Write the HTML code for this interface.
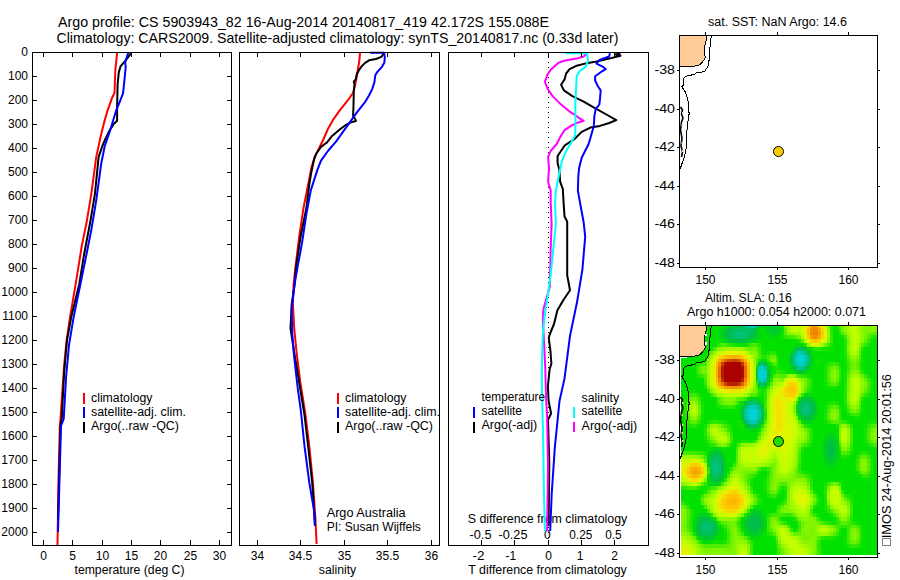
<!DOCTYPE html>
<html><head><meta charset="utf-8"><style>
html,body{margin:0;padding:0;background:#fff;}
svg{display:block;}
text{font-family:"Liberation Sans", sans-serif;}
</style></head><body>
<svg width="900" height="580" viewBox="0 0 900 580">
<rect x="0" y="0" width="900" height="580" fill="#fff"/>
<text x="58" y="27" font-size="15" textLength="491" lengthAdjust="spacingAndGlyphs" fill="#000" >Argo profile: CS 5903943_82 16-Aug-2014 20140817_419 42.172S 155.088E</text>
<text x="56.5" y="43" font-size="15" textLength="562" lengthAdjust="spacingAndGlyphs" fill="#000" >Climatology: CARS2009. Satellite-adjusted climatology: synTS_20140817.nc (0.33d later)</text>
<text x="28" y="56" font-size="12" text-anchor="end" fill="#000" >0</text>
<text x="28" y="80" font-size="12" text-anchor="end" fill="#000" >100</text>
<text x="28" y="104" font-size="12" text-anchor="end" fill="#000" >200</text>
<text x="28" y="128" font-size="12" text-anchor="end" fill="#000" >300</text>
<text x="28" y="152" font-size="12" text-anchor="end" fill="#000" >400</text>
<text x="28" y="176" font-size="12" text-anchor="end" fill="#000" >500</text>
<text x="28" y="200" font-size="12" text-anchor="end" fill="#000" >600</text>
<text x="28" y="224" font-size="12" text-anchor="end" fill="#000" >700</text>
<text x="28" y="248" font-size="12" text-anchor="end" fill="#000" >800</text>
<text x="28" y="272" font-size="12" text-anchor="end" fill="#000" >900</text>
<text x="28" y="296" font-size="12" text-anchor="end" fill="#000" >1000</text>
<text x="28" y="320" font-size="12" text-anchor="end" fill="#000" >1100</text>
<text x="28" y="344" font-size="12" text-anchor="end" fill="#000" >1200</text>
<text x="28" y="368" font-size="12" text-anchor="end" fill="#000" >1300</text>
<text x="28" y="392" font-size="12" text-anchor="end" fill="#000" >1400</text>
<text x="28" y="416" font-size="12" text-anchor="end" fill="#000" >1500</text>
<text x="28" y="440" font-size="12" text-anchor="end" fill="#000" >1600</text>
<text x="28" y="464" font-size="12" text-anchor="end" fill="#000" >1700</text>
<text x="28" y="488" font-size="12" text-anchor="end" fill="#000" >1800</text>
<text x="28" y="512" font-size="12" text-anchor="end" fill="#000" >1900</text>
<text x="28" y="536" font-size="12" text-anchor="end" fill="#000" >2000</text>
<text x="43.5" y="560" font-size="12" text-anchor="middle" fill="#000" >0</text>
<text x="72.5" y="560" font-size="12" text-anchor="middle" fill="#000" >5</text>
<text x="102.5" y="560" font-size="12" text-anchor="middle" fill="#000" >10</text>
<text x="131.5" y="560" font-size="12" text-anchor="middle" fill="#000" >15</text>
<text x="160.5" y="560" font-size="12" text-anchor="middle" fill="#000" >20</text>
<text x="190.5" y="560" font-size="12" text-anchor="middle" fill="#000" >25</text>
<text x="219.5" y="560" font-size="12" text-anchor="middle" fill="#000" >30</text>
<text x="129.5" y="574" font-size="12" text-anchor="middle" textLength="110" lengthAdjust="spacingAndGlyphs" fill="#000" >temperature (deg C)</text>
<text x="257.5" y="560" font-size="12" text-anchor="middle" fill="#000" >34</text>
<text x="300.5" y="560" font-size="12" text-anchor="middle" fill="#000" >34.5</text>
<text x="344.5" y="560" font-size="12" text-anchor="middle" fill="#000" >35</text>
<text x="387.5" y="560" font-size="12" text-anchor="middle" fill="#000" >35.5</text>
<text x="431.5" y="560" font-size="12" text-anchor="middle" fill="#000" >36</text>
<text x="337.5" y="574" font-size="12" text-anchor="middle" textLength="37.5" lengthAdjust="spacingAndGlyphs" fill="#000" >salinity</text>
<text x="472.5" y="560" font-size="12" textLength="12" lengthAdjust="spacingAndGlyphs" fill="#000" >-2</text>
<text x="505.5" y="560" font-size="12" fill="#000" >-1</text>
<text x="548.5" y="560" font-size="12" text-anchor="middle" fill="#000" >0</text>
<text x="580.2" y="560" font-size="12" text-anchor="middle" fill="#000" >1</text>
<text x="614.6" y="560" font-size="12" text-anchor="middle" fill="#000" >2</text>
<text x="547.5" y="574" font-size="12" text-anchor="middle" textLength="158.5" lengthAdjust="spacingAndGlyphs" fill="#000" >T difference from climatology</text>
<text x="469.5" y="539" font-size="12" textLength="22" lengthAdjust="spacingAndGlyphs" fill="#000" >-0.5</text>
<text x="498.5" y="539" font-size="12" textLength="29" lengthAdjust="spacingAndGlyphs" fill="#000" >-0.25</text>
<text x="547.3" y="539" font-size="12" text-anchor="middle" fill="#000" >0</text>
<text x="569.3" y="539" font-size="12" textLength="23" lengthAdjust="spacingAndGlyphs" fill="#000" >0.25</text>
<text x="605.2" y="539" font-size="12" textLength="16.5" lengthAdjust="spacingAndGlyphs" fill="#000" >0.5</text>
<text x="547.5" y="523" font-size="12" text-anchor="middle" textLength="159.5" lengthAdjust="spacingAndGlyphs" fill="#000" >S difference from climatology</text>
<text x="705.5" y="284" font-size="12" text-anchor="middle" fill="#000" >150</text>
<text x="777.5" y="284" font-size="12" text-anchor="middle" fill="#000" >155</text>
<text x="848.5" y="284" font-size="12" text-anchor="middle" fill="#000" >160</text>
<text x="675" y="74" font-size="12" text-anchor="end" textLength="20.5" lengthAdjust="spacingAndGlyphs" fill="#000" >-38</text>
<text x="675" y="113" font-size="12" text-anchor="end" textLength="20.5" lengthAdjust="spacingAndGlyphs" fill="#000" >-40</text>
<text x="675" y="151" font-size="12" text-anchor="end" textLength="20.5" lengthAdjust="spacingAndGlyphs" fill="#000" >-42</text>
<text x="675" y="190" font-size="12" text-anchor="end" textLength="20.5" lengthAdjust="spacingAndGlyphs" fill="#000" >-44</text>
<text x="675" y="228" font-size="12" text-anchor="end" textLength="20.5" lengthAdjust="spacingAndGlyphs" fill="#000" >-46</text>
<text x="675" y="267" font-size="12" text-anchor="end" textLength="20.5" lengthAdjust="spacingAndGlyphs" fill="#000" >-48</text>
<text x="705.5" y="574" font-size="12" text-anchor="middle" fill="#000" >150</text>
<text x="777.5" y="574" font-size="12" text-anchor="middle" fill="#000" >155</text>
<text x="848.5" y="574" font-size="12" text-anchor="middle" fill="#000" >160</text>
<text x="675" y="364" font-size="12" text-anchor="end" textLength="20.5" lengthAdjust="spacingAndGlyphs" fill="#000" >-38</text>
<text x="675" y="403" font-size="12" text-anchor="end" textLength="20.5" lengthAdjust="spacingAndGlyphs" fill="#000" >-40</text>
<text x="675" y="441" font-size="12" text-anchor="end" textLength="20.5" lengthAdjust="spacingAndGlyphs" fill="#000" >-42</text>
<text x="675" y="480" font-size="12" text-anchor="end" textLength="20.5" lengthAdjust="spacingAndGlyphs" fill="#000" >-44</text>
<text x="675" y="518" font-size="12" text-anchor="end" textLength="20.5" lengthAdjust="spacingAndGlyphs" fill="#000" >-46</text>
<text x="675" y="557" font-size="12" text-anchor="end" textLength="20.5" lengthAdjust="spacingAndGlyphs" fill="#000" >-48</text>
<text x="708" y="25.5" font-size="12" textLength="139" lengthAdjust="spacingAndGlyphs" fill="#000" >sat. SST: NaN Argo: 14.6</text>
<text x="705" y="301.5" font-size="12" textLength="86.7" lengthAdjust="spacingAndGlyphs" fill="#000" >Altim. SLA: 0.16</text>
<text x="687" y="315.5" font-size="12" textLength="179" lengthAdjust="spacingAndGlyphs" fill="#000" >Argo h1000: 0.054 h2000: 0.071</text>
<line x1="548.5" y1="52" x2="548.5" y2="545" stroke="#000" stroke-width="1" stroke-dasharray="1 4" shape-rendering="crispEdges"/>
<polyline points="117.1,52.6 115.3,70.7 114.5,93.0 111.9,98.3 107.6,110.3 104.1,122.4 100.7,136.2 98.6,146.2 96.2,157.1 91.4,193.3 86.6,222.3 81.7,246.4 75.7,283.9 70.2,316.2 66.6,340.4 64.2,364.5 61.7,400.8 60.5,418.9 59.8,426.0 58.5,480.0 57.5,545.0" fill="none" stroke="#f00" stroke-width="2" stroke-linejoin="round" />
<polyline points="130.9,53.4 125.7,60.3 120.5,66.4 118.8,72.4 117.6,84.5 117.1,106.9 117.1,120.7 113.6,124.1 109.3,131.0 105.0,139.7 102.3,146.2 98.6,157.1 95.0,193.3 90.2,222.3 84.2,253.7 79.3,283.9 71.4,316.2 67.0,340.4 64.2,371.8 61.7,418.9 60.5,426.0 59.0,480.0 58.0,520.0" fill="none" stroke="#000" stroke-width="2" stroke-linejoin="round" />
<polyline points="128.3,52.6 125.2,62.1 125.7,67.2 124.5,79.3 123.1,93.1 120.5,100.0 116.2,110.3 113.6,119.0 111.0,127.6 107.6,137.9 104.7,146.2 101.1,164.3 96.2,200.6 91.4,229.5 86.6,253.7 81.0,281.2 73.8,316.2 69.0,345.2 66.1,376.6 63.7,418.9 61.0,426.0 59.5,480.0 58.0,532.0" fill="none" stroke="#00f" stroke-width="2" stroke-linejoin="round" />
<polyline points="360.0,52.8 359.3,61.0 357.9,69.3 356.6,77.6 355.2,84.5 353.1,92.8 348.3,99.7 342.8,106.6 340.3,109.7 333.4,119.3 327.9,129.0 323.1,140.0 318.3,149.7 314.8,156.6 311.4,167.6 309.3,178.7 303.5,208.0 299.1,237.3 295.5,266.6 293.5,285.0 292.9,304.2 294.2,328.3 296.6,352.5 300.2,381.4 305.5,415.0 309.3,446.2 312.9,482.5 315.4,518.7 316.6,544.0" fill="none" stroke="#f00" stroke-width="2" stroke-linejoin="round" />
<polyline points="383.9,53.4 381.4,56.9 375.9,59.0 369.0,60.3 364.8,63.1 361.4,66.6 358.6,70.7 356.6,74.8 355.9,79.0 353.8,81.7 354.5,84.5 353.8,91.4 353.5,105.2 353.1,116.2 355.2,119.0 355.9,121.0 351.0,122.4 345.5,125.2 340.3,129.0 332.1,135.9 326.6,142.8 321.0,146.9 316.2,153.8 314.1,159.3 311.4,171.7 309.3,184.5 306.4,208.0 300.5,237.3 296.1,266.6 294.6,285.0 291.7,304.2 290.5,328.3 294.2,352.5 299.0,381.4 304.5,415.0 308.1,446.2 312.2,482.5 314.2,511.4 315.0,526.0" fill="none" stroke="#000" stroke-width="2" stroke-linejoin="round" />
<polyline points="370.3,52.8 384.1,52.8 384.8,56.9 384.4,62.4 382.1,66.6 377.2,72.1 375.2,75.5 374.5,81.7 372.4,88.6 369.0,95.5 364.8,102.4 359.3,109.3 356.9,112.4 350.0,122.1 343.1,131.7 336.2,141.4 327.9,151.0 321.0,160.7 317.4,169.9 310.8,190.4 306.4,213.8 302.0,243.2 297.6,266.6 294.4,285.0 291.7,309.0 292.2,333.1 294.2,357.3 297.8,388.7 300.9,411.2 304.5,446.2 309.3,482.5 314.2,511.4 314.9,526.0" fill="none" stroke="#00f" stroke-width="2" stroke-linejoin="round" />
<polyline points="620.5,53.7 614.9,54.4 620.5,55.8 609.2,58.6 596.5,61.4 588.0,62.9 576.7,65.7 569.6,69.2 566.1,73.5 564.7,79.1 561.1,84.8 563.9,90.4 572.4,96.1 583.7,101.7 593.6,107.4 606.4,114.5 616.3,120.1 609.2,123.0 600.0,125.9 590.3,127.6 581.7,131.9 574.8,138.8 564.5,145.7 557.6,156.0 557.6,162.9 559.3,169.8 560.2,181.9 562.8,188.8 563.6,202.6 564.5,216.4 567.2,221.4 567.2,247.6 567.2,275.2 570.0,290.3 563.4,300.0 557.4,310.3 554.0,324.0 549.7,334.5 548.8,338.0 550.5,351.7 551.4,363.8 549.7,369.0 547.9,386.0 548.6,401.0 551.1,413.5 548.0,419.7 549.3,463.2 548.6,526.0" fill="none" stroke="#000" stroke-width="2" stroke-linejoin="round" />
<polyline points="609.9,53.2 609.2,56.5 599.3,60.0 596.5,63.6 603.5,67.1 605.7,69.2 602.1,71.3 595.1,76.3 595.1,80.5 597.9,86.2 600.7,90.4 600.0,98.9 599.3,104.6 595.8,108.8 594.4,115.9 593.8,125.9 591.2,135.3 588.6,144.0 581.7,157.8 579.1,168.1 578.3,176.7 577.9,190.5 580.0,202.6 583.6,222.0 585.2,236.6 582.4,269.7 576.9,302.8 570.0,335.9 564.5,378.6 559.5,401.0 554.8,447.6 551.7,494.2 550.2,531.0" fill="none" stroke="#00f" stroke-width="2" stroke-linejoin="round" />
<polyline points="586.6,53.7 583.7,56.5 576.7,58.6 564.0,60.7 558.3,62.9 551.2,69.2 547.7,74.2 544.9,81.9 547.7,89.0 552.6,96.1 561.1,104.6 569.6,111.6 575.3,115.2 578.1,117.3 583.7,120.8 576.7,123.0 571.0,125.8 564.5,130.2 560.2,137.1 556.7,144.0 550.7,150.9 548.1,156.9 549.0,168.1 548.1,181.9 550.7,190.5 550.7,202.6 551.6,224.1 550.7,247.6 549.9,286.2 543.6,308.6 542.8,317.0 543.6,334.5 544.5,351.7 545.3,369.0 545.7,386.0 546.2,400.0 547.1,416.6 548.0,463.2 547.1,531.0" fill="none" stroke="#f0f" stroke-width="2" stroke-linejoin="round" />
<polyline points="565.4,53.2 586.6,53.2 587.3,54.4 588.0,60.7 585.9,66.4 579.5,71.3 576.7,76.3 576.0,90.4 575.3,104.6 575.5,126.0 575.2,135.3 571.4,142.2 566.2,150.9 561.9,161.2 559.3,173.3 555.9,190.5 555.0,202.6 555.9,224.1 553.4,247.6 550.7,275.2 547.1,300.0 544.5,317.0 542.8,334.5 542.2,351.7 541.9,369.0 541.9,386.0 542.2,400.0 543.0,432.1 544.0,494.2 544.9,531.0" fill="none" stroke="#0ff" stroke-width="2" stroke-linejoin="round" />
<rect x="83" y="393" width="2" height="11" fill="#f00"/>
<text x="91" y="402" font-size="12" textLength="61.5" lengthAdjust="spacingAndGlyphs" fill="#000" >climatology</text>
<rect x="83" y="407" width="2" height="11" fill="#00f"/>
<text x="91" y="416" font-size="12" textLength="95" lengthAdjust="spacingAndGlyphs" fill="#000" >satellite-adj. clim.</text>
<rect x="83" y="422" width="2" height="11" fill="#000"/>
<text x="91" y="430" font-size="12" textLength="88" lengthAdjust="spacingAndGlyphs" fill="#000" >Argo(..raw -QC)</text>
<rect x="337" y="393" width="2" height="11" fill="#f00"/>
<text x="345" y="402" font-size="12" textLength="61.5" lengthAdjust="spacingAndGlyphs" fill="#000" >climatology</text>
<rect x="337" y="407" width="2" height="11" fill="#00f"/>
<text x="345" y="416" font-size="12" textLength="95" lengthAdjust="spacingAndGlyphs" fill="#000" >satellite-adj. clim.</text>
<rect x="337" y="422" width="2" height="11" fill="#000"/>
<text x="345" y="430" font-size="12" textLength="88" lengthAdjust="spacingAndGlyphs" fill="#000" >Argo(..raw -QC)</text>
<text x="481.5" y="401" font-size="12" textLength="63.5" lengthAdjust="spacingAndGlyphs" fill="#000" >temperature</text>
<rect x="473" y="407" width="2" height="11" fill="#00f"/>
<text x="481.5" y="415" font-size="12" textLength="40.5" lengthAdjust="spacingAndGlyphs" fill="#000" >satellite</text>
<rect x="473" y="422" width="2" height="11" fill="#000"/>
<text x="481.5" y="429" font-size="12" textLength="55.7" lengthAdjust="spacingAndGlyphs" fill="#000" >Argo(-adj)</text>
<text x="581.6" y="401.5" font-size="12" textLength="37.5" lengthAdjust="spacingAndGlyphs" fill="#000" >salinity</text>
<rect x="573" y="407" width="2" height="11" fill="#0ff"/>
<text x="581.6" y="415" font-size="12" textLength="40.5" lengthAdjust="spacingAndGlyphs" fill="#000" >satellite</text>
<rect x="573" y="422" width="2" height="10" fill="#f0f"/>
<text x="581.6" y="429.5" font-size="12" textLength="55.7" lengthAdjust="spacingAndGlyphs" fill="#000" >Argo(-adj)</text>
<text x="326.7" y="516.5" font-size="12" textLength="79" lengthAdjust="spacingAndGlyphs" fill="#000" >Argo Australia</text>
<text x="326.7" y="530.5" font-size="12" textLength="94.2" lengthAdjust="spacingAndGlyphs" fill="#000" >PI: Susan Wijffels</text>
<g shape-rendering="crispEdges">
<rect x="681.31" y="326.00" width="34.30" height="1.69" fill="#00e100"/>
<rect x="715.60" y="326.00" width="2.86" height="1.69" fill="#04e200"/>
<rect x="718.46" y="326.00" width="2.86" height="1.69" fill="#09e200"/>
<rect x="721.32" y="326.00" width="2.86" height="1.69" fill="#00de06"/>
<rect x="724.18" y="326.00" width="2.86" height="1.69" fill="#00d517"/>
<rect x="727.03" y="326.00" width="2.86" height="1.69" fill="#00cd26"/>
<rect x="729.89" y="326.00" width="2.86" height="1.69" fill="#00c633"/>
<rect x="732.75" y="326.00" width="2.86" height="1.69" fill="#00c13d"/>
<rect x="735.61" y="326.00" width="2.86" height="1.69" fill="#00be43"/>
<rect x="738.47" y="326.00" width="2.86" height="1.69" fill="#00bc45"/>
<rect x="741.33" y="326.00" width="2.86" height="1.69" fill="#00bf5e"/>
<rect x="744.18" y="326.00" width="2.86" height="1.69" fill="#00c382"/>
<rect x="747.04" y="326.00" width="2.86" height="1.69" fill="#00c79e"/>
<rect x="749.90" y="326.00" width="2.86" height="1.69" fill="#00caaa"/>
<rect x="752.76" y="326.00" width="2.86" height="1.69" fill="#00c9a4"/>
<rect x="755.62" y="326.00" width="2.86" height="1.69" fill="#00c381"/>
<rect x="758.47" y="326.00" width="2.86" height="1.69" fill="#00be42"/>
<rect x="761.33" y="326.00" width="2.86" height="1.69" fill="#00da0d"/>
<rect x="764.19" y="326.00" width="2.86" height="1.69" fill="#00da0c"/>
<rect x="767.05" y="326.00" width="2.86" height="1.69" fill="#00d31b"/>
<rect x="769.90" y="326.00" width="2.86" height="1.69" fill="#00cd25"/>
<rect x="772.76" y="326.00" width="2.86" height="1.69" fill="#00cb2a"/>
<rect x="775.62" y="326.00" width="2.86" height="1.69" fill="#00cd25"/>
<rect x="778.48" y="326.00" width="2.86" height="1.69" fill="#00d615"/>
<rect x="781.34" y="326.00" width="2.86" height="1.69" fill="#18e500"/>
<rect x="784.20" y="326.00" width="2.86" height="1.69" fill="#75f300"/>
<rect x="787.05" y="326.00" width="2.86" height="1.69" fill="#a7fb00"/>
<rect x="789.91" y="326.00" width="2.86" height="1.69" fill="#bbfe00"/>
<rect x="792.77" y="326.00" width="2.86" height="1.69" fill="#c5fd00"/>
<rect x="795.63" y="326.00" width="2.86" height="1.69" fill="#c4fd00"/>
<rect x="798.49" y="326.00" width="2.86" height="1.69" fill="#bfff00"/>
<rect x="801.34" y="326.00" width="2.86" height="1.69" fill="#c4fd00"/>
<rect x="804.20" y="326.00" width="2.86" height="1.69" fill="#e7f200"/>
<rect x="807.06" y="326.00" width="2.86" height="1.69" fill="#fbca00"/>
<rect x="809.92" y="326.00" width="2.86" height="1.69" fill="#f49f00"/>
<rect x="812.77" y="326.00" width="2.86" height="1.69" fill="#ef9000"/>
<rect x="815.63" y="326.00" width="2.86" height="1.69" fill="#f29a00"/>
<rect x="818.49" y="326.00" width="2.86" height="1.69" fill="#fec000"/>
<rect x="821.35" y="326.00" width="2.86" height="1.69" fill="#efe400"/>
<rect x="824.21" y="326.00" width="2.86" height="1.69" fill="#c9fc00"/>
<rect x="827.07" y="326.00" width="2.86" height="1.69" fill="#7ef400"/>
<rect x="829.92" y="326.00" width="2.86" height="1.69" fill="#28e700"/>
<rect x="832.78" y="326.00" width="2.86" height="1.69" fill="#00e100"/>
<rect x="835.64" y="326.00" width="2.86" height="1.69" fill="#0ee300"/>
<rect x="838.50" y="326.00" width="2.86" height="1.69" fill="#40eb00"/>
<rect x="841.36" y="326.00" width="2.86" height="1.69" fill="#79f400"/>
<rect x="844.21" y="326.00" width="2.86" height="1.69" fill="#91f800"/>
<rect x="847.07" y="326.00" width="2.86" height="1.69" fill="#a6fb00"/>
<rect x="849.93" y="326.00" width="2.86" height="1.69" fill="#b8fe00"/>
<rect x="852.79" y="326.00" width="2.86" height="1.69" fill="#beff00"/>
<rect x="855.64" y="326.00" width="2.86" height="1.69" fill="#b2fd00"/>
<rect x="858.50" y="326.00" width="2.86" height="1.69" fill="#9bf900"/>
<rect x="861.36" y="326.00" width="2.86" height="1.69" fill="#87f600"/>
<rect x="864.22" y="326.00" width="2.86" height="1.69" fill="#7cf400"/>
<rect x="867.08" y="326.00" width="2.86" height="1.69" fill="#7df400"/>
<rect x="869.93" y="326.00" width="2.86" height="1.69" fill="#84f500"/>
<rect x="872.79" y="326.00" width="2.86" height="1.69" fill="#86f600"/>
<rect x="875.65" y="326.00" width="1.35" height="1.69" fill="#87f600"/>
<rect x="681.31" y="327.69" width="34.30" height="3.86" fill="#00e100"/>
<rect x="715.60" y="327.69" width="2.86" height="3.86" fill="#04e200"/>
<rect x="718.46" y="327.69" width="2.86" height="3.86" fill="#00de05"/>
<rect x="721.32" y="327.69" width="2.86" height="3.86" fill="#00d418"/>
<rect x="724.18" y="327.69" width="2.86" height="3.86" fill="#00c92d"/>
<rect x="727.03" y="327.69" width="2.86" height="3.86" fill="#00c03f"/>
<rect x="729.89" y="327.69" width="2.86" height="3.86" fill="#00bd4f"/>
<rect x="732.75" y="327.69" width="2.86" height="3.86" fill="#00bf5c"/>
<rect x="735.61" y="327.69" width="2.86" height="3.86" fill="#00c065"/>
<rect x="738.47" y="327.69" width="2.86" height="3.86" fill="#00c068"/>
<rect x="741.33" y="327.69" width="5.72" height="3.86" fill="#00c065"/>
<rect x="747.04" y="327.69" width="2.86" height="3.86" fill="#00c069"/>
<rect x="749.90" y="327.69" width="2.86" height="3.86" fill="#00c066"/>
<rect x="752.76" y="327.69" width="2.86" height="3.86" fill="#00be54"/>
<rect x="755.62" y="327.69" width="2.86" height="3.86" fill="#00c633"/>
<rect x="758.47" y="327.69" width="2.86" height="3.86" fill="#00db0c"/>
<rect x="761.33" y="327.69" width="2.86" height="3.86" fill="#00de06"/>
<rect x="764.19" y="327.69" width="2.86" height="3.86" fill="#00d712"/>
<rect x="767.05" y="327.69" width="2.86" height="3.86" fill="#00cf22"/>
<rect x="769.90" y="327.69" width="2.86" height="3.86" fill="#00ca2c"/>
<rect x="772.76" y="327.69" width="2.86" height="3.86" fill="#00c731"/>
<rect x="775.62" y="327.69" width="2.86" height="3.86" fill="#00c82f"/>
<rect x="778.48" y="327.69" width="2.86" height="3.86" fill="#00cf21"/>
<rect x="781.34" y="327.69" width="2.86" height="3.86" fill="#00e002"/>
<rect x="784.20" y="327.69" width="2.86" height="3.86" fill="#58ee00"/>
<rect x="787.05" y="327.69" width="2.86" height="3.86" fill="#9ffa00"/>
<rect x="789.91" y="327.69" width="2.86" height="3.86" fill="#b4fd00"/>
<rect x="792.77" y="327.69" width="5.72" height="3.86" fill="#c0fe00"/>
<rect x="798.49" y="327.69" width="2.86" height="3.86" fill="#bafe00"/>
<rect x="801.34" y="327.69" width="2.86" height="3.86" fill="#cafb00"/>
<rect x="804.20" y="327.69" width="2.86" height="3.86" fill="#ede900"/>
<rect x="807.06" y="327.69" width="2.86" height="3.86" fill="#febf00"/>
<rect x="809.92" y="327.69" width="2.86" height="3.86" fill="#f09200"/>
<rect x="812.77" y="327.69" width="2.86" height="3.86" fill="#ed8700"/>
<rect x="815.63" y="327.69" width="2.86" height="3.86" fill="#ee8c00"/>
<rect x="818.49" y="327.69" width="2.86" height="3.86" fill="#f7a700"/>
<rect x="821.35" y="327.69" width="2.86" height="3.86" fill="#f6d500"/>
<rect x="824.21" y="327.69" width="2.86" height="3.86" fill="#d6f800"/>
<rect x="827.07" y="327.69" width="2.86" height="3.86" fill="#8cf700"/>
<rect x="829.92" y="327.69" width="2.86" height="3.86" fill="#29e700"/>
<rect x="832.78" y="327.69" width="2.86" height="3.86" fill="#00e100"/>
<rect x="835.64" y="327.69" width="2.86" height="3.86" fill="#0ce300"/>
<rect x="838.50" y="327.69" width="2.86" height="3.86" fill="#3bea00"/>
<rect x="841.36" y="327.69" width="2.86" height="3.86" fill="#72f300"/>
<rect x="844.21" y="327.69" width="2.86" height="3.86" fill="#8ef700"/>
<rect x="847.07" y="327.69" width="2.86" height="3.86" fill="#a4fb00"/>
<rect x="849.93" y="327.69" width="2.86" height="3.86" fill="#b7fe00"/>
<rect x="852.79" y="327.69" width="2.86" height="3.86" fill="#beff00"/>
<rect x="855.64" y="327.69" width="2.86" height="3.86" fill="#b2fd00"/>
<rect x="858.50" y="327.69" width="2.86" height="3.86" fill="#9cf900"/>
<rect x="861.36" y="327.69" width="2.86" height="3.86" fill="#87f600"/>
<rect x="864.22" y="327.69" width="2.86" height="3.86" fill="#7bf400"/>
<rect x="867.08" y="327.69" width="2.86" height="3.86" fill="#7af400"/>
<rect x="869.93" y="327.69" width="2.86" height="3.86" fill="#80f500"/>
<rect x="872.79" y="327.69" width="4.21" height="3.86" fill="#83f500"/>
<rect x="681.31" y="331.55" width="34.30" height="3.86" fill="#00e100"/>
<rect x="715.60" y="331.55" width="2.86" height="3.86" fill="#00e001"/>
<rect x="718.46" y="331.55" width="2.86" height="3.86" fill="#00d810"/>
<rect x="721.32" y="331.55" width="2.86" height="3.86" fill="#00cc27"/>
<rect x="724.18" y="331.55" width="2.86" height="3.86" fill="#00c13d"/>
<rect x="727.03" y="331.55" width="2.86" height="3.86" fill="#00bd51"/>
<rect x="729.89" y="331.55" width="2.86" height="3.86" fill="#00c064"/>
<rect x="732.75" y="331.55" width="2.86" height="3.86" fill="#00c172"/>
<rect x="735.61" y="331.55" width="2.86" height="3.86" fill="#00c37b"/>
<rect x="738.47" y="331.55" width="2.86" height="3.86" fill="#00c37e"/>
<rect x="741.33" y="331.55" width="2.86" height="3.86" fill="#00c37b"/>
<rect x="744.18" y="331.55" width="2.86" height="3.86" fill="#00c273"/>
<rect x="747.04" y="331.55" width="2.86" height="3.86" fill="#00c065"/>
<rect x="749.90" y="331.55" width="2.86" height="3.86" fill="#00be53"/>
<rect x="752.76" y="331.55" width="2.86" height="3.86" fill="#00c03e"/>
<rect x="755.62" y="331.55" width="2.86" height="3.86" fill="#00cb29"/>
<rect x="758.47" y="331.55" width="2.86" height="3.86" fill="#00d615"/>
<rect x="761.33" y="331.55" width="2.86" height="3.86" fill="#00de05"/>
<rect x="764.19" y="331.55" width="2.86" height="3.86" fill="#00db0c"/>
<rect x="767.05" y="331.55" width="2.86" height="3.86" fill="#00d31a"/>
<rect x="769.90" y="331.55" width="2.86" height="3.86" fill="#00ce24"/>
<rect x="772.76" y="331.55" width="2.86" height="3.86" fill="#00cc28"/>
<rect x="775.62" y="331.55" width="2.86" height="3.86" fill="#00ce24"/>
<rect x="778.48" y="331.55" width="2.86" height="3.86" fill="#00d517"/>
<rect x="781.34" y="331.55" width="2.86" height="3.86" fill="#07e200"/>
<rect x="784.20" y="331.55" width="2.86" height="3.86" fill="#4ded00"/>
<rect x="787.05" y="331.55" width="2.86" height="3.86" fill="#86f600"/>
<rect x="789.91" y="331.55" width="2.86" height="3.86" fill="#93f800"/>
<rect x="792.77" y="331.55" width="2.86" height="3.86" fill="#9efa00"/>
<rect x="795.63" y="331.55" width="2.86" height="3.86" fill="#a1fa00"/>
<rect x="798.49" y="331.55" width="2.86" height="3.86" fill="#a2fa00"/>
<rect x="801.34" y="331.55" width="2.86" height="3.86" fill="#c5fd00"/>
<rect x="804.20" y="331.55" width="2.86" height="3.86" fill="#ede800"/>
<rect x="807.06" y="331.55" width="2.86" height="3.86" fill="#fcba00"/>
<rect x="809.92" y="331.55" width="2.86" height="3.86" fill="#ef8e00"/>
<rect x="812.77" y="331.55" width="2.86" height="3.86" fill="#eb8300"/>
<rect x="815.63" y="331.55" width="2.86" height="3.86" fill="#ec8500"/>
<rect x="818.49" y="331.55" width="2.86" height="3.86" fill="#f39b00"/>
<rect x="821.35" y="331.55" width="2.86" height="3.86" fill="#facd00"/>
<rect x="824.21" y="331.55" width="2.86" height="3.86" fill="#dff500"/>
<rect x="827.07" y="331.55" width="2.86" height="3.86" fill="#98f900"/>
<rect x="829.92" y="331.55" width="2.86" height="3.86" fill="#2fe800"/>
<rect x="832.78" y="331.55" width="5.72" height="3.86" fill="#00e100"/>
<rect x="838.50" y="331.55" width="2.86" height="3.86" fill="#1de600"/>
<rect x="841.36" y="331.55" width="2.86" height="3.86" fill="#48ec00"/>
<rect x="844.21" y="331.55" width="2.86" height="3.86" fill="#74f300"/>
<rect x="847.07" y="331.55" width="2.86" height="3.86" fill="#98f900"/>
<rect x="849.93" y="331.55" width="2.86" height="3.86" fill="#b2fd00"/>
<rect x="852.79" y="331.55" width="2.86" height="3.86" fill="#beff00"/>
<rect x="855.64" y="331.55" width="2.86" height="3.86" fill="#b5fe00"/>
<rect x="858.50" y="331.55" width="2.86" height="3.86" fill="#a0fa00"/>
<rect x="861.36" y="331.55" width="2.86" height="3.86" fill="#8bf600"/>
<rect x="864.22" y="331.55" width="2.86" height="3.86" fill="#7bf400"/>
<rect x="867.08" y="331.55" width="2.86" height="3.86" fill="#6bf100"/>
<rect x="869.93" y="331.55" width="2.86" height="3.86" fill="#60f000"/>
<rect x="872.79" y="331.55" width="2.86" height="3.86" fill="#59ef00"/>
<rect x="875.65" y="331.55" width="1.35" height="3.86" fill="#56ee00"/>
<rect x="681.31" y="335.41" width="25.72" height="3.86" fill="#00e100"/>
<rect x="707.03" y="335.41" width="5.72" height="3.86" fill="#01e100"/>
<rect x="712.75" y="335.41" width="2.86" height="3.86" fill="#00e100"/>
<rect x="715.60" y="335.41" width="2.86" height="3.86" fill="#01e100"/>
<rect x="718.46" y="335.41" width="2.86" height="3.86" fill="#00db0b"/>
<rect x="721.32" y="335.41" width="2.86" height="3.86" fill="#00d020"/>
<rect x="724.18" y="335.41" width="2.86" height="3.86" fill="#00c634"/>
<rect x="727.03" y="335.41" width="2.86" height="3.86" fill="#00bc46"/>
<rect x="729.89" y="335.41" width="2.86" height="3.86" fill="#00be58"/>
<rect x="732.75" y="335.41" width="2.86" height="3.86" fill="#00c065"/>
<rect x="735.61" y="335.41" width="2.86" height="3.86" fill="#00c16e"/>
<rect x="738.47" y="335.41" width="2.86" height="3.86" fill="#00c171"/>
<rect x="741.33" y="335.41" width="2.86" height="3.86" fill="#00c16e"/>
<rect x="744.18" y="335.41" width="2.86" height="3.86" fill="#00c066"/>
<rect x="747.04" y="335.41" width="2.86" height="3.86" fill="#00be59"/>
<rect x="749.90" y="335.41" width="2.86" height="3.86" fill="#00bc48"/>
<rect x="752.76" y="335.41" width="2.86" height="3.86" fill="#00c535"/>
<rect x="755.62" y="335.41" width="2.86" height="3.86" fill="#00cf22"/>
<rect x="758.47" y="335.41" width="2.86" height="3.86" fill="#00d90f"/>
<rect x="761.33" y="335.41" width="2.86" height="3.86" fill="#00e101"/>
<rect x="764.19" y="335.41" width="2.86" height="3.86" fill="#02e100"/>
<rect x="767.05" y="335.41" width="2.86" height="3.86" fill="#00de06"/>
<rect x="769.90" y="335.41" width="2.86" height="3.86" fill="#00db0c"/>
<rect x="772.76" y="335.41" width="2.86" height="3.86" fill="#00d90f"/>
<rect x="775.62" y="335.41" width="2.86" height="3.86" fill="#00db0b"/>
<rect x="778.48" y="335.41" width="2.86" height="3.86" fill="#00e101"/>
<rect x="781.34" y="335.41" width="2.86" height="3.86" fill="#1ae500"/>
<rect x="784.20" y="335.41" width="2.86" height="3.86" fill="#2be800"/>
<rect x="787.05" y="335.41" width="2.86" height="3.86" fill="#33e900"/>
<rect x="789.91" y="335.41" width="2.86" height="3.86" fill="#3dea00"/>
<rect x="792.77" y="335.41" width="2.86" height="3.86" fill="#4ded00"/>
<rect x="795.63" y="335.41" width="2.86" height="3.86" fill="#61f000"/>
<rect x="798.49" y="335.41" width="2.86" height="3.86" fill="#79f400"/>
<rect x="801.34" y="335.41" width="2.86" height="3.86" fill="#a8fb00"/>
<rect x="804.20" y="335.41" width="2.86" height="3.86" fill="#dff500"/>
<rect x="807.06" y="335.41" width="2.86" height="3.86" fill="#facd00"/>
<rect x="809.92" y="335.41" width="2.86" height="3.86" fill="#f4a100"/>
<rect x="812.77" y="335.41" width="2.86" height="3.86" fill="#ef8f00"/>
<rect x="815.63" y="335.41" width="2.86" height="3.86" fill="#f09200"/>
<rect x="818.49" y="335.41" width="2.86" height="3.86" fill="#f8ad00"/>
<rect x="821.35" y="335.41" width="2.86" height="3.86" fill="#f6d500"/>
<rect x="824.21" y="335.41" width="2.86" height="3.86" fill="#daf600"/>
<rect x="827.07" y="335.41" width="2.86" height="3.86" fill="#95f800"/>
<rect x="829.92" y="335.41" width="2.86" height="3.86" fill="#37e900"/>
<rect x="832.78" y="335.41" width="8.57" height="3.86" fill="#00e100"/>
<rect x="841.36" y="335.41" width="2.86" height="3.86" fill="#0ee300"/>
<rect x="844.21" y="335.41" width="2.86" height="3.86" fill="#3bea00"/>
<rect x="847.07" y="335.41" width="2.86" height="3.86" fill="#86f600"/>
<rect x="849.93" y="335.41" width="2.86" height="3.86" fill="#abfc00"/>
<rect x="852.79" y="335.41" width="2.86" height="3.86" fill="#beff00"/>
<rect x="855.64" y="335.41" width="2.86" height="3.86" fill="#b9fe00"/>
<rect x="858.50" y="335.41" width="2.86" height="3.86" fill="#a5fb00"/>
<rect x="861.36" y="335.41" width="2.86" height="3.86" fill="#8ef700"/>
<rect x="864.22" y="335.41" width="2.86" height="3.86" fill="#77f300"/>
<rect x="867.08" y="335.41" width="2.86" height="3.86" fill="#53ee00"/>
<rect x="869.93" y="335.41" width="2.86" height="3.86" fill="#32e900"/>
<rect x="872.79" y="335.41" width="2.86" height="3.86" fill="#1be500"/>
<rect x="875.65" y="335.41" width="1.35" height="3.86" fill="#15e400"/>
<rect x="681.31" y="339.27" width="34.30" height="3.86" fill="#00e100"/>
<rect x="715.60" y="339.27" width="2.86" height="3.86" fill="#07e200"/>
<rect x="718.46" y="339.27" width="2.86" height="3.86" fill="#0fe300"/>
<rect x="721.32" y="339.27" width="2.86" height="3.86" fill="#00e101"/>
<rect x="724.18" y="339.27" width="2.86" height="3.86" fill="#00d517"/>
<rect x="727.03" y="339.27" width="2.86" height="3.86" fill="#00cd25"/>
<rect x="729.89" y="339.27" width="2.86" height="3.86" fill="#00c632"/>
<rect x="732.75" y="339.27" width="2.86" height="3.86" fill="#00c13c"/>
<rect x="735.61" y="339.27" width="2.86" height="3.86" fill="#00be42"/>
<rect x="738.47" y="339.27" width="2.86" height="3.86" fill="#00bd45"/>
<rect x="741.33" y="339.27" width="2.86" height="3.86" fill="#00be43"/>
<rect x="744.18" y="339.27" width="2.86" height="3.86" fill="#00c438"/>
<rect x="747.04" y="339.27" width="2.86" height="3.86" fill="#00ca2c"/>
<rect x="749.90" y="339.27" width="2.86" height="3.86" fill="#00d11f"/>
<rect x="752.76" y="339.27" width="2.86" height="3.86" fill="#00d811"/>
<rect x="755.62" y="339.27" width="2.86" height="3.86" fill="#00df04"/>
<rect x="758.47" y="339.27" width="2.86" height="3.86" fill="#07e200"/>
<rect x="761.33" y="339.27" width="2.86" height="3.86" fill="#01e100"/>
<rect x="764.19" y="339.27" width="34.30" height="3.86" fill="#00e100"/>
<rect x="798.49" y="339.27" width="2.86" height="3.86" fill="#20e600"/>
<rect x="801.34" y="339.27" width="2.86" height="3.86" fill="#5aef00"/>
<rect x="804.20" y="339.27" width="2.86" height="3.86" fill="#b3fd00"/>
<rect x="807.06" y="339.27" width="2.86" height="3.86" fill="#e5f300"/>
<rect x="809.92" y="339.27" width="2.86" height="3.86" fill="#f7d300"/>
<rect x="812.77" y="339.27" width="2.86" height="3.86" fill="#fec600"/>
<rect x="815.63" y="339.27" width="2.86" height="3.86" fill="#fdc700"/>
<rect x="818.49" y="339.27" width="2.86" height="3.86" fill="#f5d700"/>
<rect x="821.35" y="339.27" width="2.86" height="3.86" fill="#e5f300"/>
<rect x="824.21" y="339.27" width="2.86" height="3.86" fill="#beff00"/>
<rect x="827.07" y="339.27" width="2.86" height="3.86" fill="#7ff500"/>
<rect x="829.92" y="339.27" width="2.86" height="3.86" fill="#32e900"/>
<rect x="832.78" y="339.27" width="11.43" height="3.86" fill="#00e100"/>
<rect x="844.21" y="339.27" width="2.86" height="3.86" fill="#1be500"/>
<rect x="847.07" y="339.27" width="2.86" height="3.86" fill="#76f300"/>
<rect x="849.93" y="339.27" width="2.86" height="3.86" fill="#a8fb00"/>
<rect x="852.79" y="339.27" width="2.86" height="3.86" fill="#bfff00"/>
<rect x="855.64" y="339.27" width="2.86" height="3.86" fill="#b8fe00"/>
<rect x="858.50" y="339.27" width="2.86" height="3.86" fill="#a0fa00"/>
<rect x="861.36" y="339.27" width="2.86" height="3.86" fill="#86f600"/>
<rect x="864.22" y="339.27" width="2.86" height="3.86" fill="#61f000"/>
<rect x="867.08" y="339.27" width="2.86" height="3.86" fill="#37ea00"/>
<rect x="869.93" y="339.27" width="2.86" height="3.86" fill="#12e400"/>
<rect x="872.79" y="339.27" width="4.21" height="3.86" fill="#00e100"/>
<rect x="681.31" y="343.13" width="31.44" height="3.86" fill="#00e100"/>
<rect x="712.75" y="343.13" width="2.86" height="3.86" fill="#01e100"/>
<rect x="715.60" y="343.13" width="2.86" height="3.86" fill="#15e400"/>
<rect x="718.46" y="343.13" width="2.86" height="3.86" fill="#32e900"/>
<rect x="721.32" y="343.13" width="5.72" height="3.86" fill="#47ec00"/>
<rect x="727.03" y="343.13" width="2.86" height="3.86" fill="#31e800"/>
<rect x="729.89" y="343.13" width="2.86" height="3.86" fill="#23e600"/>
<rect x="732.75" y="343.13" width="2.86" height="3.86" fill="#17e500"/>
<rect x="735.61" y="343.13" width="2.86" height="3.86" fill="#0ee300"/>
<rect x="738.47" y="343.13" width="2.86" height="3.86" fill="#07e200"/>
<rect x="741.33" y="343.13" width="2.86" height="3.86" fill="#00e100"/>
<rect x="744.18" y="343.13" width="2.86" height="3.86" fill="#00e101"/>
<rect x="747.04" y="343.13" width="2.86" height="3.86" fill="#1ee600"/>
<rect x="749.90" y="343.13" width="2.86" height="3.86" fill="#3feb00"/>
<rect x="752.76" y="343.13" width="2.86" height="3.86" fill="#4aec00"/>
<rect x="755.62" y="343.13" width="2.86" height="3.86" fill="#3bea00"/>
<rect x="758.47" y="343.13" width="2.86" height="3.86" fill="#20e600"/>
<rect x="761.33" y="343.13" width="2.86" height="3.86" fill="#07e200"/>
<rect x="764.19" y="343.13" width="31.44" height="3.86" fill="#00e100"/>
<rect x="795.63" y="343.13" width="2.86" height="3.86" fill="#00dd08"/>
<rect x="798.49" y="343.13" width="2.86" height="3.86" fill="#00d811"/>
<rect x="801.34" y="343.13" width="2.86" height="3.86" fill="#00d90e"/>
<rect x="804.20" y="343.13" width="2.86" height="3.86" fill="#21e600"/>
<rect x="807.06" y="343.13" width="2.86" height="3.86" fill="#90f700"/>
<rect x="809.92" y="343.13" width="2.86" height="3.86" fill="#bfff00"/>
<rect x="812.77" y="343.13" width="2.86" height="3.86" fill="#cffa00"/>
<rect x="815.63" y="343.13" width="2.86" height="3.86" fill="#cefa00"/>
<rect x="818.49" y="343.13" width="2.86" height="3.86" fill="#beff00"/>
<rect x="821.35" y="343.13" width="2.86" height="3.86" fill="#9af900"/>
<rect x="824.21" y="343.13" width="2.86" height="3.86" fill="#6ef200"/>
<rect x="827.07" y="343.13" width="2.86" height="3.86" fill="#45ec00"/>
<rect x="829.92" y="343.13" width="2.86" height="3.86" fill="#1be500"/>
<rect x="832.78" y="343.13" width="11.43" height="3.86" fill="#00e100"/>
<rect x="844.21" y="343.13" width="2.86" height="3.86" fill="#1ae500"/>
<rect x="847.07" y="343.13" width="2.86" height="3.86" fill="#7cf400"/>
<rect x="849.93" y="343.13" width="2.86" height="3.86" fill="#adfc00"/>
<rect x="852.79" y="343.13" width="2.86" height="3.86" fill="#c1fe00"/>
<rect x="855.64" y="343.13" width="2.86" height="3.86" fill="#b3fd00"/>
<rect x="858.50" y="343.13" width="2.86" height="3.86" fill="#90f700"/>
<rect x="861.36" y="343.13" width="2.86" height="3.86" fill="#55ee00"/>
<rect x="864.22" y="343.13" width="2.86" height="3.86" fill="#2de800"/>
<rect x="867.08" y="343.13" width="2.86" height="3.86" fill="#16e400"/>
<rect x="869.93" y="343.13" width="2.86" height="3.86" fill="#09e200"/>
<rect x="872.79" y="343.13" width="4.21" height="3.86" fill="#00e100"/>
<rect x="681.31" y="346.99" width="28.58" height="3.86" fill="#00e100"/>
<rect x="709.89" y="346.99" width="2.86" height="3.86" fill="#0ee300"/>
<rect x="712.75" y="346.99" width="2.86" height="3.86" fill="#43eb00"/>
<rect x="715.60" y="346.99" width="2.86" height="3.86" fill="#6ef200"/>
<rect x="718.46" y="346.99" width="2.86" height="3.86" fill="#8af600"/>
<rect x="721.32" y="346.99" width="2.86" height="3.86" fill="#96f800"/>
<rect x="724.18" y="346.99" width="2.86" height="3.86" fill="#9efa00"/>
<rect x="727.03" y="346.99" width="2.86" height="3.86" fill="#a3fa00"/>
<rect x="729.89" y="346.99" width="8.57" height="3.86" fill="#a4fb00"/>
<rect x="738.47" y="346.99" width="2.86" height="3.86" fill="#a1fa00"/>
<rect x="741.33" y="346.99" width="2.86" height="3.86" fill="#99f900"/>
<rect x="744.18" y="346.99" width="2.86" height="3.86" fill="#8af600"/>
<rect x="747.04" y="346.99" width="2.86" height="3.86" fill="#67f100"/>
<rect x="749.90" y="346.99" width="2.86" height="3.86" fill="#65f000"/>
<rect x="752.76" y="346.99" width="2.86" height="3.86" fill="#79f400"/>
<rect x="755.62" y="346.99" width="2.86" height="3.86" fill="#63f000"/>
<rect x="758.47" y="346.99" width="2.86" height="3.86" fill="#36e900"/>
<rect x="761.33" y="346.99" width="2.86" height="3.86" fill="#0be300"/>
<rect x="764.19" y="346.99" width="5.72" height="3.86" fill="#00e100"/>
<rect x="769.90" y="346.99" width="2.86" height="3.86" fill="#01e100"/>
<rect x="772.76" y="346.99" width="17.15" height="3.86" fill="#00e100"/>
<rect x="789.91" y="346.99" width="2.86" height="3.86" fill="#00e002"/>
<rect x="792.77" y="346.99" width="2.86" height="3.86" fill="#00cc27"/>
<rect x="795.63" y="346.99" width="2.86" height="3.86" fill="#00bd4c"/>
<rect x="798.49" y="346.99" width="2.86" height="3.86" fill="#00bf61"/>
<rect x="801.34" y="346.99" width="2.86" height="3.86" fill="#00bf5b"/>
<rect x="804.20" y="346.99" width="2.86" height="3.86" fill="#00c13d"/>
<rect x="807.06" y="346.99" width="2.86" height="3.86" fill="#00d615"/>
<rect x="809.92" y="346.99" width="2.86" height="3.86" fill="#02e100"/>
<rect x="812.77" y="346.99" width="2.86" height="3.86" fill="#21e600"/>
<rect x="815.63" y="346.99" width="2.86" height="3.86" fill="#26e700"/>
<rect x="818.49" y="346.99" width="2.86" height="3.86" fill="#1de600"/>
<rect x="821.35" y="346.99" width="2.86" height="3.86" fill="#15e400"/>
<rect x="824.21" y="346.99" width="2.86" height="3.86" fill="#10e300"/>
<rect x="827.07" y="346.99" width="2.86" height="3.86" fill="#0ae200"/>
<rect x="829.92" y="346.99" width="2.86" height="3.86" fill="#04e200"/>
<rect x="832.78" y="346.99" width="11.43" height="3.86" fill="#00e100"/>
<rect x="844.21" y="346.99" width="2.86" height="3.86" fill="#22e600"/>
<rect x="847.07" y="346.99" width="2.86" height="3.86" fill="#82f500"/>
<rect x="849.93" y="346.99" width="2.86" height="3.86" fill="#aefc00"/>
<rect x="852.79" y="346.99" width="2.86" height="3.86" fill="#c0fe00"/>
<rect x="855.64" y="346.99" width="2.86" height="3.86" fill="#aafc00"/>
<rect x="858.50" y="346.99" width="2.86" height="3.86" fill="#79f400"/>
<rect x="861.36" y="346.99" width="2.86" height="3.86" fill="#20e600"/>
<rect x="864.22" y="346.99" width="8.57" height="3.86" fill="#00e100"/>
<rect x="872.79" y="346.99" width="4.21" height="3.86" fill="#05e200"/>
<rect x="681.31" y="350.85" width="25.72" height="3.86" fill="#00e100"/>
<rect x="707.03" y="350.85" width="2.86" height="3.86" fill="#21e600"/>
<rect x="709.89" y="350.85" width="2.86" height="3.86" fill="#69f100"/>
<rect x="712.75" y="350.85" width="2.86" height="3.86" fill="#97f900"/>
<rect x="715.60" y="350.85" width="2.86" height="3.86" fill="#b5fd00"/>
<rect x="718.46" y="350.85" width="2.86" height="3.86" fill="#c8fc00"/>
<rect x="721.32" y="350.85" width="2.86" height="3.86" fill="#d4f800"/>
<rect x="724.18" y="350.85" width="2.86" height="3.86" fill="#dcf600"/>
<rect x="727.03" y="350.85" width="2.86" height="3.86" fill="#e0f400"/>
<rect x="729.89" y="350.85" width="8.57" height="3.86" fill="#e2f400"/>
<rect x="738.47" y="350.85" width="2.86" height="3.86" fill="#dff500"/>
<rect x="741.33" y="350.85" width="2.86" height="3.86" fill="#d7f700"/>
<rect x="744.18" y="350.85" width="2.86" height="3.86" fill="#c9fc00"/>
<rect x="747.04" y="350.85" width="2.86" height="3.86" fill="#b0fd00"/>
<rect x="749.90" y="350.85" width="2.86" height="3.86" fill="#8af600"/>
<rect x="752.76" y="350.85" width="2.86" height="3.86" fill="#88f600"/>
<rect x="755.62" y="350.85" width="2.86" height="3.86" fill="#76f300"/>
<rect x="758.47" y="350.85" width="2.86" height="3.86" fill="#44eb00"/>
<rect x="761.33" y="350.85" width="2.86" height="3.86" fill="#16e400"/>
<rect x="764.19" y="350.85" width="2.86" height="3.86" fill="#08e200"/>
<rect x="767.05" y="350.85" width="2.86" height="3.86" fill="#16e400"/>
<rect x="769.90" y="350.85" width="2.86" height="3.86" fill="#26e700"/>
<rect x="772.76" y="350.85" width="2.86" height="3.86" fill="#20e600"/>
<rect x="775.62" y="350.85" width="14.29" height="3.86" fill="#00e100"/>
<rect x="789.91" y="350.85" width="2.86" height="3.86" fill="#00cd26"/>
<rect x="792.77" y="350.85" width="2.86" height="3.86" fill="#00c065"/>
<rect x="795.63" y="350.85" width="2.86" height="3.86" fill="#00c79a"/>
<rect x="798.49" y="350.85" width="2.86" height="3.86" fill="#00cbae"/>
<rect x="801.34" y="350.85" width="2.86" height="3.86" fill="#00c9a8"/>
<rect x="804.20" y="350.85" width="2.86" height="3.86" fill="#00c485"/>
<rect x="807.06" y="350.85" width="2.86" height="3.86" fill="#00bc47"/>
<rect x="809.92" y="350.85" width="2.86" height="3.86" fill="#00da0d"/>
<rect x="812.77" y="350.85" width="31.44" height="3.86" fill="#00e100"/>
<rect x="844.21" y="350.85" width="2.86" height="3.86" fill="#1ee600"/>
<rect x="847.07" y="350.85" width="2.86" height="3.86" fill="#72f300"/>
<rect x="849.93" y="350.85" width="2.86" height="3.86" fill="#a1fa00"/>
<rect x="852.79" y="350.85" width="2.86" height="3.86" fill="#b0fd00"/>
<rect x="855.64" y="350.85" width="2.86" height="3.86" fill="#9bf900"/>
<rect x="858.50" y="350.85" width="2.86" height="3.86" fill="#5ff000"/>
<rect x="861.36" y="350.85" width="2.86" height="3.86" fill="#0ce300"/>
<rect x="864.22" y="350.85" width="12.78" height="3.86" fill="#00e100"/>
<rect x="681.31" y="354.71" width="5.72" height="3.86" fill="#00e100"/>
<rect x="687.02" y="354.71" width="5.72" height="3.86" fill="#01e100"/>
<rect x="692.74" y="354.71" width="11.43" height="3.86" fill="#00e100"/>
<rect x="704.17" y="354.71" width="2.86" height="3.86" fill="#09e200"/>
<rect x="707.03" y="354.71" width="2.86" height="3.86" fill="#60f000"/>
<rect x="709.89" y="354.71" width="2.86" height="3.86" fill="#9cf900"/>
<rect x="712.75" y="354.71" width="2.86" height="3.86" fill="#c3fd00"/>
<rect x="715.60" y="354.71" width="2.86" height="3.86" fill="#ddf500"/>
<rect x="718.46" y="354.71" width="2.86" height="3.86" fill="#efe300"/>
<rect x="721.32" y="354.71" width="2.86" height="3.86" fill="#facc00"/>
<rect x="724.18" y="354.71" width="2.86" height="3.86" fill="#fdbc00"/>
<rect x="727.03" y="354.71" width="2.86" height="3.86" fill="#fab300"/>
<rect x="729.89" y="354.71" width="5.72" height="3.86" fill="#f9af00"/>
<rect x="735.61" y="354.71" width="2.86" height="3.86" fill="#f9b000"/>
<rect x="738.47" y="354.71" width="2.86" height="3.86" fill="#fbb700"/>
<rect x="741.33" y="354.71" width="2.86" height="3.86" fill="#fcc800"/>
<rect x="744.18" y="354.71" width="2.86" height="3.86" fill="#efe300"/>
<rect x="747.04" y="354.71" width="2.86" height="3.86" fill="#d9f700"/>
<rect x="749.90" y="354.71" width="2.86" height="3.86" fill="#b5fe00"/>
<rect x="752.76" y="354.71" width="2.86" height="3.86" fill="#89f600"/>
<rect x="755.62" y="354.71" width="2.86" height="3.86" fill="#7af400"/>
<rect x="758.47" y="354.71" width="2.86" height="3.86" fill="#4ced00"/>
<rect x="761.33" y="354.71" width="2.86" height="3.86" fill="#24e700"/>
<rect x="764.19" y="354.71" width="2.86" height="3.86" fill="#21e600"/>
<rect x="767.05" y="354.71" width="2.86" height="3.86" fill="#42eb00"/>
<rect x="769.90" y="354.71" width="5.72" height="3.86" fill="#63f000"/>
<rect x="775.62" y="354.71" width="2.86" height="3.86" fill="#2ae800"/>
<rect x="778.48" y="354.71" width="8.57" height="3.86" fill="#00e100"/>
<rect x="787.05" y="354.71" width="2.86" height="3.86" fill="#00de06"/>
<rect x="789.91" y="354.71" width="2.86" height="3.86" fill="#00bd44"/>
<rect x="792.77" y="354.71" width="2.86" height="3.86" fill="#00c592"/>
<rect x="795.63" y="354.71" width="2.86" height="3.86" fill="#00cec2"/>
<rect x="798.49" y="354.71" width="2.86" height="3.86" fill="#00d2d7"/>
<rect x="801.34" y="354.71" width="2.86" height="3.86" fill="#00d1d2"/>
<rect x="804.20" y="354.71" width="2.86" height="3.86" fill="#00cbb0"/>
<rect x="807.06" y="354.71" width="2.86" height="3.86" fill="#00c170"/>
<rect x="809.92" y="354.71" width="2.86" height="3.86" fill="#00ce24"/>
<rect x="812.77" y="354.71" width="2.86" height="3.86" fill="#00e100"/>
<rect x="815.63" y="354.71" width="2.86" height="3.86" fill="#03e200"/>
<rect x="818.49" y="354.71" width="25.72" height="3.86" fill="#00e100"/>
<rect x="844.21" y="354.71" width="2.86" height="3.86" fill="#16e400"/>
<rect x="847.07" y="354.71" width="2.86" height="3.86" fill="#54ee00"/>
<rect x="849.93" y="354.71" width="2.86" height="3.86" fill="#89f600"/>
<rect x="852.79" y="354.71" width="2.86" height="3.86" fill="#94f800"/>
<rect x="855.64" y="354.71" width="2.86" height="3.86" fill="#86f600"/>
<rect x="858.50" y="354.71" width="2.86" height="3.86" fill="#4ced00"/>
<rect x="861.36" y="354.71" width="2.86" height="3.86" fill="#0ee300"/>
<rect x="864.22" y="354.71" width="12.78" height="3.86" fill="#00e100"/>
<rect x="681.31" y="358.57" width="14.29" height="3.86" fill="#00e100"/>
<rect x="695.60" y="358.57" width="2.86" height="3.86" fill="#01e100"/>
<rect x="698.46" y="358.57" width="2.86" height="3.86" fill="#03e100"/>
<rect x="701.31" y="358.57" width="2.86" height="3.86" fill="#04e200"/>
<rect x="704.17" y="358.57" width="2.86" height="3.86" fill="#2de800"/>
<rect x="707.03" y="358.57" width="2.86" height="3.86" fill="#87f600"/>
<rect x="709.89" y="358.57" width="2.86" height="3.86" fill="#b8fe00"/>
<rect x="712.75" y="358.57" width="2.86" height="3.86" fill="#dbf600"/>
<rect x="715.60" y="358.57" width="2.86" height="3.86" fill="#f4d900"/>
<rect x="718.46" y="358.57" width="2.86" height="3.86" fill="#f9b100"/>
<rect x="721.32" y="358.57" width="2.86" height="3.86" fill="#ee8c00"/>
<rect x="724.18" y="358.57" width="2.86" height="3.86" fill="#dd6900"/>
<rect x="727.03" y="358.57" width="2.86" height="3.86" fill="#d05100"/>
<rect x="729.89" y="358.57" width="2.86" height="3.86" fill="#ca4700"/>
<rect x="732.75" y="358.57" width="2.86" height="3.86" fill="#ca4600"/>
<rect x="735.61" y="358.57" width="2.86" height="3.86" fill="#cb4900"/>
<rect x="738.47" y="358.57" width="2.86" height="3.86" fill="#d65c00"/>
<rect x="741.33" y="358.57" width="2.86" height="3.86" fill="#ec8500"/>
<rect x="744.18" y="358.57" width="2.86" height="3.86" fill="#f9b000"/>
<rect x="747.04" y="358.57" width="2.86" height="3.86" fill="#f0e100"/>
<rect x="749.90" y="358.57" width="2.86" height="3.86" fill="#cefa00"/>
<rect x="752.76" y="358.57" width="2.86" height="3.86" fill="#9af900"/>
<rect x="755.62" y="358.57" width="2.86" height="3.86" fill="#5ff000"/>
<rect x="758.47" y="358.57" width="2.86" height="3.86" fill="#1ae500"/>
<rect x="761.33" y="358.57" width="2.86" height="3.86" fill="#00d615"/>
<rect x="764.19" y="358.57" width="2.86" height="3.86" fill="#00e002"/>
<rect x="767.05" y="358.57" width="2.86" height="3.86" fill="#36e900"/>
<rect x="769.90" y="358.57" width="2.86" height="3.86" fill="#71f200"/>
<rect x="772.76" y="358.57" width="2.86" height="3.86" fill="#80f500"/>
<rect x="775.62" y="358.57" width="2.86" height="3.86" fill="#48ec00"/>
<rect x="778.48" y="358.57" width="8.57" height="3.86" fill="#00e100"/>
<rect x="787.05" y="358.57" width="2.86" height="3.86" fill="#00dd08"/>
<rect x="789.91" y="358.57" width="2.86" height="3.86" fill="#00bd4b"/>
<rect x="792.77" y="358.57" width="2.86" height="3.86" fill="#00c79a"/>
<rect x="795.63" y="358.57" width="2.86" height="3.86" fill="#00d0cb"/>
<rect x="798.49" y="358.57" width="5.72" height="3.86" fill="#00d2d7"/>
<rect x="804.20" y="358.57" width="2.86" height="3.86" fill="#00ccb8"/>
<rect x="807.06" y="358.57" width="2.86" height="3.86" fill="#00c278"/>
<rect x="809.92" y="358.57" width="2.86" height="3.86" fill="#00cb2a"/>
<rect x="812.77" y="358.57" width="2.86" height="3.86" fill="#03e100"/>
<rect x="815.63" y="358.57" width="2.86" height="3.86" fill="#13e400"/>
<rect x="818.49" y="358.57" width="2.86" height="3.86" fill="#0de300"/>
<rect x="821.35" y="358.57" width="2.86" height="3.86" fill="#02e100"/>
<rect x="824.21" y="358.57" width="2.86" height="3.86" fill="#00e100"/>
<rect x="827.07" y="358.57" width="2.86" height="3.86" fill="#02e100"/>
<rect x="829.92" y="358.57" width="2.86" height="3.86" fill="#03e100"/>
<rect x="832.78" y="358.57" width="2.86" height="3.86" fill="#04e200"/>
<rect x="835.64" y="358.57" width="8.57" height="3.86" fill="#00e100"/>
<rect x="844.21" y="358.57" width="2.86" height="3.86" fill="#10e300"/>
<rect x="847.07" y="358.57" width="2.86" height="3.86" fill="#3eeb00"/>
<rect x="849.93" y="358.57" width="2.86" height="3.86" fill="#6cf200"/>
<rect x="852.79" y="358.57" width="2.86" height="3.86" fill="#7ff500"/>
<rect x="855.64" y="358.57" width="2.86" height="3.86" fill="#6bf100"/>
<rect x="858.50" y="358.57" width="2.86" height="3.86" fill="#40eb00"/>
<rect x="861.36" y="358.57" width="2.86" height="3.86" fill="#11e400"/>
<rect x="864.22" y="358.57" width="12.78" height="3.86" fill="#00e100"/>
<rect x="681.31" y="362.43" width="11.43" height="3.86" fill="#00e100"/>
<rect x="692.74" y="362.43" width="2.86" height="3.86" fill="#01e100"/>
<rect x="695.60" y="362.43" width="2.86" height="3.86" fill="#12e400"/>
<rect x="698.46" y="362.43" width="2.86" height="3.86" fill="#2ae700"/>
<rect x="701.31" y="362.43" width="2.86" height="3.86" fill="#3bea00"/>
<rect x="704.17" y="362.43" width="2.86" height="3.86" fill="#41eb00"/>
<rect x="707.03" y="362.43" width="2.86" height="3.86" fill="#94f800"/>
<rect x="709.89" y="362.43" width="2.86" height="3.86" fill="#c6fd00"/>
<rect x="712.75" y="362.43" width="2.86" height="3.86" fill="#e9ef00"/>
<rect x="715.60" y="362.43" width="2.86" height="3.86" fill="#febf00"/>
<rect x="718.46" y="362.43" width="2.86" height="3.86" fill="#ee8b00"/>
<rect x="721.32" y="362.43" width="2.86" height="3.86" fill="#c94500"/>
<rect x="724.18" y="362.43" width="2.86" height="3.86" fill="#af0d00"/>
<rect x="727.03" y="362.43" width="14.29" height="3.86" fill="#aa0000"/>
<rect x="741.33" y="362.43" width="2.86" height="3.86" fill="#c03500"/>
<rect x="744.18" y="362.43" width="2.86" height="3.86" fill="#ed8a00"/>
<rect x="747.04" y="362.43" width="2.86" height="3.86" fill="#fcc900"/>
<rect x="749.90" y="362.43" width="2.86" height="3.86" fill="#dbf600"/>
<rect x="752.76" y="362.43" width="2.86" height="3.86" fill="#a9fb00"/>
<rect x="755.62" y="362.43" width="2.86" height="3.86" fill="#3bea00"/>
<rect x="758.47" y="362.43" width="2.86" height="3.86" fill="#00be56"/>
<rect x="761.33" y="362.43" width="2.86" height="3.86" fill="#00c277"/>
<rect x="764.19" y="362.43" width="2.86" height="3.86" fill="#00bc49"/>
<rect x="767.05" y="362.43" width="2.86" height="3.86" fill="#00e001"/>
<rect x="769.90" y="362.43" width="2.86" height="3.86" fill="#1ce500"/>
<rect x="772.76" y="362.43" width="2.86" height="3.86" fill="#4eed00"/>
<rect x="775.62" y="362.43" width="2.86" height="3.86" fill="#38ea00"/>
<rect x="778.48" y="362.43" width="8.57" height="3.86" fill="#00e100"/>
<rect x="787.05" y="362.43" width="2.86" height="3.86" fill="#00e101"/>
<rect x="789.91" y="362.43" width="2.86" height="3.86" fill="#00c436"/>
<rect x="792.77" y="362.43" width="2.86" height="3.86" fill="#00c37f"/>
<rect x="795.63" y="362.43" width="2.86" height="3.86" fill="#00cbb1"/>
<rect x="798.49" y="362.43" width="2.86" height="3.86" fill="#00cfc7"/>
<rect x="801.34" y="362.43" width="2.86" height="3.86" fill="#00cec0"/>
<rect x="804.20" y="362.43" width="2.86" height="3.86" fill="#00c89f"/>
<rect x="807.06" y="362.43" width="2.86" height="3.86" fill="#00bf5e"/>
<rect x="809.92" y="362.43" width="2.86" height="3.86" fill="#00d31a"/>
<rect x="812.77" y="362.43" width="2.86" height="3.86" fill="#02e100"/>
<rect x="815.63" y="362.43" width="2.86" height="3.86" fill="#0fe300"/>
<rect x="818.49" y="362.43" width="2.86" height="3.86" fill="#07e200"/>
<rect x="821.35" y="362.43" width="2.86" height="3.86" fill="#00e100"/>
<rect x="824.21" y="362.43" width="2.86" height="3.86" fill="#07e200"/>
<rect x="827.07" y="362.43" width="2.86" height="3.86" fill="#1be500"/>
<rect x="829.92" y="362.43" width="2.86" height="3.86" fill="#2fe800"/>
<rect x="832.78" y="362.43" width="2.86" height="3.86" fill="#37e900"/>
<rect x="835.64" y="362.43" width="2.86" height="3.86" fill="#28e700"/>
<rect x="838.50" y="362.43" width="2.86" height="3.86" fill="#10e300"/>
<rect x="841.36" y="362.43" width="2.86" height="3.86" fill="#00e100"/>
<rect x="844.21" y="362.43" width="2.86" height="3.86" fill="#0ce300"/>
<rect x="847.07" y="362.43" width="2.86" height="3.86" fill="#35e900"/>
<rect x="849.93" y="362.43" width="2.86" height="3.86" fill="#60f000"/>
<rect x="852.79" y="362.43" width="2.86" height="3.86" fill="#72f300"/>
<rect x="855.64" y="362.43" width="2.86" height="3.86" fill="#5ff000"/>
<rect x="858.50" y="362.43" width="2.86" height="3.86" fill="#37e900"/>
<rect x="861.36" y="362.43" width="2.86" height="3.86" fill="#0ae300"/>
<rect x="864.22" y="362.43" width="12.78" height="3.86" fill="#00e100"/>
<rect x="681.31" y="366.29" width="11.43" height="3.86" fill="#00e100"/>
<rect x="692.74" y="366.29" width="2.86" height="3.86" fill="#01e100"/>
<rect x="695.60" y="366.29" width="2.86" height="3.86" fill="#23e600"/>
<rect x="698.46" y="366.29" width="2.86" height="3.86" fill="#52ee00"/>
<rect x="701.31" y="366.29" width="2.86" height="3.86" fill="#74f300"/>
<rect x="704.17" y="366.29" width="2.86" height="3.86" fill="#72f300"/>
<rect x="707.03" y="366.29" width="2.86" height="3.86" fill="#9af900"/>
<rect x="709.89" y="366.29" width="2.86" height="3.86" fill="#cafb00"/>
<rect x="712.75" y="366.29" width="2.86" height="3.86" fill="#ede700"/>
<rect x="715.60" y="366.29" width="2.86" height="3.86" fill="#fab200"/>
<rect x="718.46" y="366.29" width="2.86" height="3.86" fill="#e37400"/>
<rect x="721.32" y="366.29" width="2.86" height="3.86" fill="#b51f00"/>
<rect x="724.18" y="366.29" width="17.15" height="3.86" fill="#aa0000"/>
<rect x="741.33" y="366.29" width="2.86" height="3.86" fill="#b00f00"/>
<rect x="744.18" y="366.29" width="2.86" height="3.86" fill="#e27200"/>
<rect x="747.04" y="366.29" width="2.86" height="3.86" fill="#fdbe00"/>
<rect x="749.90" y="366.29" width="2.86" height="3.86" fill="#e1f400"/>
<rect x="752.76" y="366.29" width="2.86" height="3.86" fill="#affc00"/>
<rect x="755.62" y="366.29" width="2.86" height="3.86" fill="#00d517"/>
<rect x="758.47" y="366.29" width="2.86" height="3.86" fill="#00caab"/>
<rect x="761.33" y="366.29" width="2.86" height="3.86" fill="#00d0cc"/>
<rect x="764.19" y="366.29" width="2.86" height="3.86" fill="#00c79d"/>
<rect x="767.05" y="366.29" width="2.86" height="3.86" fill="#00cc28"/>
<rect x="769.90" y="366.29" width="2.86" height="3.86" fill="#00e100"/>
<rect x="772.76" y="366.29" width="2.86" height="3.86" fill="#0ee300"/>
<rect x="775.62" y="366.29" width="2.86" height="3.86" fill="#20e600"/>
<rect x="778.48" y="366.29" width="2.86" height="3.86" fill="#10e300"/>
<rect x="781.34" y="366.29" width="8.57" height="3.86" fill="#00e100"/>
<rect x="789.91" y="366.29" width="2.86" height="3.86" fill="#00d812"/>
<rect x="792.77" y="366.29" width="2.86" height="3.86" fill="#00bd44"/>
<rect x="795.63" y="366.29" width="2.86" height="3.86" fill="#00c274"/>
<rect x="798.49" y="366.29" width="2.86" height="3.86" fill="#00c58c"/>
<rect x="801.34" y="366.29" width="2.86" height="3.86" fill="#00c485"/>
<rect x="804.20" y="366.29" width="2.86" height="3.86" fill="#00bf61"/>
<rect x="807.06" y="366.29" width="2.86" height="3.86" fill="#00c92d"/>
<rect x="809.92" y="366.29" width="2.86" height="3.86" fill="#00e001"/>
<rect x="812.77" y="366.29" width="2.86" height="3.86" fill="#02e100"/>
<rect x="815.63" y="366.29" width="2.86" height="3.86" fill="#08e200"/>
<rect x="818.49" y="366.29" width="5.72" height="3.86" fill="#00e100"/>
<rect x="824.21" y="366.29" width="2.86" height="3.86" fill="#0fe300"/>
<rect x="827.07" y="366.29" width="2.86" height="3.86" fill="#38ea00"/>
<rect x="829.92" y="366.29" width="2.86" height="3.86" fill="#60f000"/>
<rect x="832.78" y="366.29" width="2.86" height="3.86" fill="#71f200"/>
<rect x="835.64" y="366.29" width="2.86" height="3.86" fill="#57ee00"/>
<rect x="838.50" y="366.29" width="2.86" height="3.86" fill="#28e700"/>
<rect x="841.36" y="366.29" width="2.86" height="3.86" fill="#04e200"/>
<rect x="844.21" y="366.29" width="2.86" height="3.86" fill="#09e200"/>
<rect x="847.07" y="366.29" width="2.86" height="3.86" fill="#34e900"/>
<rect x="849.93" y="366.29" width="2.86" height="3.86" fill="#64f000"/>
<rect x="852.79" y="366.29" width="2.86" height="3.86" fill="#78f400"/>
<rect x="855.64" y="366.29" width="2.86" height="3.86" fill="#64f000"/>
<rect x="858.50" y="366.29" width="2.86" height="3.86" fill="#39ea00"/>
<rect x="861.36" y="366.29" width="2.86" height="3.86" fill="#09e200"/>
<rect x="864.22" y="366.29" width="12.78" height="3.86" fill="#00e100"/>
<rect x="681.31" y="370.15" width="11.43" height="3.86" fill="#00e100"/>
<rect x="692.74" y="370.15" width="2.86" height="3.86" fill="#01e100"/>
<rect x="695.60" y="370.15" width="2.86" height="3.86" fill="#22e600"/>
<rect x="698.46" y="370.15" width="2.86" height="3.86" fill="#50ed00"/>
<rect x="701.31" y="370.15" width="2.86" height="3.86" fill="#71f200"/>
<rect x="704.17" y="370.15" width="2.86" height="3.86" fill="#6ff200"/>
<rect x="707.03" y="370.15" width="2.86" height="3.86" fill="#9bf900"/>
<rect x="709.89" y="370.15" width="2.86" height="3.86" fill="#cbfb00"/>
<rect x="712.75" y="370.15" width="2.86" height="3.86" fill="#eee500"/>
<rect x="715.60" y="370.15" width="2.86" height="3.86" fill="#f9b000"/>
<rect x="718.46" y="370.15" width="2.86" height="3.86" fill="#e06e00"/>
<rect x="721.32" y="370.15" width="2.86" height="3.86" fill="#b31800"/>
<rect x="724.18" y="370.15" width="17.15" height="3.86" fill="#aa0000"/>
<rect x="741.33" y="370.15" width="2.86" height="3.86" fill="#ad0700"/>
<rect x="744.18" y="370.15" width="2.86" height="3.86" fill="#df6c00"/>
<rect x="747.04" y="370.15" width="2.86" height="3.86" fill="#fdbb00"/>
<rect x="749.90" y="370.15" width="2.86" height="3.86" fill="#e2f400"/>
<rect x="752.76" y="370.15" width="2.86" height="3.86" fill="#b0fd00"/>
<rect x="755.62" y="370.15" width="2.86" height="3.86" fill="#00c03f"/>
<rect x="758.47" y="370.15" width="2.86" height="3.86" fill="#00d2d5"/>
<rect x="761.33" y="370.15" width="2.86" height="3.86" fill="#00d2d7"/>
<rect x="764.19" y="370.15" width="2.86" height="3.86" fill="#00cfc5"/>
<rect x="767.05" y="370.15" width="2.86" height="3.86" fill="#00bc46"/>
<rect x="769.90" y="370.15" width="2.86" height="3.86" fill="#00e100"/>
<rect x="772.76" y="370.15" width="2.86" height="3.86" fill="#0ee300"/>
<rect x="775.62" y="370.15" width="2.86" height="3.86" fill="#2fe800"/>
<rect x="778.48" y="370.15" width="2.86" height="3.86" fill="#2ee800"/>
<rect x="781.34" y="370.15" width="2.86" height="3.86" fill="#1fe600"/>
<rect x="784.20" y="370.15" width="2.86" height="3.86" fill="#0ee300"/>
<rect x="787.05" y="370.15" width="5.72" height="3.86" fill="#00e100"/>
<rect x="792.77" y="370.15" width="2.86" height="3.86" fill="#00db0b"/>
<rect x="795.63" y="370.15" width="2.86" height="3.86" fill="#00cd25"/>
<rect x="798.49" y="370.15" width="2.86" height="3.86" fill="#00c534"/>
<rect x="801.34" y="370.15" width="2.86" height="3.86" fill="#00c830"/>
<rect x="804.20" y="370.15" width="2.86" height="3.86" fill="#00d31a"/>
<rect x="807.06" y="370.15" width="2.86" height="3.86" fill="#00e101"/>
<rect x="809.92" y="370.15" width="2.86" height="3.86" fill="#00e100"/>
<rect x="812.77" y="370.15" width="5.72" height="3.86" fill="#01e100"/>
<rect x="818.49" y="370.15" width="5.72" height="3.86" fill="#00e100"/>
<rect x="824.21" y="370.15" width="2.86" height="3.86" fill="#12e400"/>
<rect x="827.07" y="370.15" width="2.86" height="3.86" fill="#45ec00"/>
<rect x="829.92" y="370.15" width="2.86" height="3.86" fill="#78f300"/>
<rect x="832.78" y="370.15" width="2.86" height="3.86" fill="#87f600"/>
<rect x="835.64" y="370.15" width="2.86" height="3.86" fill="#6df200"/>
<rect x="838.50" y="370.15" width="2.86" height="3.86" fill="#32e900"/>
<rect x="841.36" y="370.15" width="2.86" height="3.86" fill="#05e200"/>
<rect x="844.21" y="370.15" width="2.86" height="3.86" fill="#0be300"/>
<rect x="847.07" y="370.15" width="2.86" height="3.86" fill="#40eb00"/>
<rect x="849.93" y="370.15" width="2.86" height="3.86" fill="#7cf400"/>
<rect x="852.79" y="370.15" width="2.86" height="3.86" fill="#8cf700"/>
<rect x="855.64" y="370.15" width="2.86" height="3.86" fill="#83f500"/>
<rect x="858.50" y="370.15" width="2.86" height="3.86" fill="#57ee00"/>
<rect x="861.36" y="370.15" width="2.86" height="3.86" fill="#26e700"/>
<rect x="864.22" y="370.15" width="12.78" height="3.86" fill="#00e100"/>
<rect x="681.31" y="374.01" width="11.43" height="3.86" fill="#00e100"/>
<rect x="692.74" y="374.01" width="2.86" height="3.86" fill="#01e100"/>
<rect x="695.60" y="374.01" width="2.86" height="3.86" fill="#10e400"/>
<rect x="698.46" y="374.01" width="2.86" height="3.86" fill="#26e700"/>
<rect x="701.31" y="374.01" width="2.86" height="3.86" fill="#36e900"/>
<rect x="704.17" y="374.01" width="2.86" height="3.86" fill="#4aec00"/>
<rect x="707.03" y="374.01" width="2.86" height="3.86" fill="#9af900"/>
<rect x="709.89" y="374.01" width="2.86" height="3.86" fill="#cbfb00"/>
<rect x="712.75" y="374.01" width="2.86" height="3.86" fill="#eee600"/>
<rect x="715.60" y="374.01" width="2.86" height="3.86" fill="#f9b100"/>
<rect x="718.46" y="374.01" width="2.86" height="3.86" fill="#e17000"/>
<rect x="721.32" y="374.01" width="2.86" height="3.86" fill="#b41a00"/>
<rect x="724.18" y="374.01" width="17.15" height="3.86" fill="#aa0000"/>
<rect x="741.33" y="374.01" width="2.86" height="3.86" fill="#ae0a00"/>
<rect x="744.18" y="374.01" width="2.86" height="3.86" fill="#e06f00"/>
<rect x="747.04" y="374.01" width="2.86" height="3.86" fill="#fdbc00"/>
<rect x="749.90" y="374.01" width="2.86" height="3.86" fill="#e2f400"/>
<rect x="752.76" y="374.01" width="2.86" height="3.86" fill="#affd00"/>
<rect x="755.62" y="374.01" width="2.86" height="3.86" fill="#00c03f"/>
<rect x="758.47" y="374.01" width="2.86" height="3.86" fill="#00d2d4"/>
<rect x="761.33" y="374.01" width="2.86" height="3.86" fill="#00d2d7"/>
<rect x="764.19" y="374.01" width="2.86" height="3.86" fill="#00cfc5"/>
<rect x="767.05" y="374.01" width="2.86" height="3.86" fill="#00bc46"/>
<rect x="769.90" y="374.01" width="2.86" height="3.86" fill="#00e100"/>
<rect x="772.76" y="374.01" width="2.86" height="3.86" fill="#44ec00"/>
<rect x="775.62" y="374.01" width="2.86" height="3.86" fill="#5ff000"/>
<rect x="778.48" y="374.01" width="2.86" height="3.86" fill="#55ee00"/>
<rect x="781.34" y="374.01" width="2.86" height="3.86" fill="#45ec00"/>
<rect x="784.20" y="374.01" width="2.86" height="3.86" fill="#54ee00"/>
<rect x="787.05" y="374.01" width="2.86" height="3.86" fill="#8ff700"/>
<rect x="789.91" y="374.01" width="2.86" height="3.86" fill="#9dfa00"/>
<rect x="792.77" y="374.01" width="2.86" height="3.86" fill="#8df700"/>
<rect x="795.63" y="374.01" width="2.86" height="3.86" fill="#51ed00"/>
<rect x="798.49" y="374.01" width="2.86" height="3.86" fill="#3eeb00"/>
<rect x="801.34" y="374.01" width="2.86" height="3.86" fill="#2be800"/>
<rect x="804.20" y="374.01" width="2.86" height="3.86" fill="#1de600"/>
<rect x="807.06" y="374.01" width="2.86" height="3.86" fill="#11e400"/>
<rect x="809.92" y="374.01" width="2.86" height="3.86" fill="#07e200"/>
<rect x="812.77" y="374.01" width="11.43" height="3.86" fill="#00e100"/>
<rect x="824.21" y="374.01" width="2.86" height="3.86" fill="#13e400"/>
<rect x="827.07" y="374.01" width="2.86" height="3.86" fill="#48ec00"/>
<rect x="829.92" y="374.01" width="2.86" height="3.86" fill="#7cf400"/>
<rect x="832.78" y="374.01" width="2.86" height="3.86" fill="#89f600"/>
<rect x="835.64" y="374.01" width="2.86" height="3.86" fill="#6ff200"/>
<rect x="838.50" y="374.01" width="2.86" height="3.86" fill="#30e800"/>
<rect x="841.36" y="374.01" width="2.86" height="3.86" fill="#03e100"/>
<rect x="844.21" y="374.01" width="2.86" height="3.86" fill="#12e400"/>
<rect x="847.07" y="374.01" width="2.86" height="3.86" fill="#59ef00"/>
<rect x="849.93" y="374.01" width="2.86" height="3.86" fill="#94f800"/>
<rect x="852.79" y="374.01" width="2.86" height="3.86" fill="#a7fb00"/>
<rect x="855.64" y="374.01" width="2.86" height="3.86" fill="#a0fa00"/>
<rect x="858.50" y="374.01" width="2.86" height="3.86" fill="#8bf700"/>
<rect x="861.36" y="374.01" width="2.86" height="3.86" fill="#62f000"/>
<rect x="864.22" y="374.01" width="2.86" height="3.86" fill="#39ea00"/>
<rect x="867.08" y="374.01" width="2.86" height="3.86" fill="#0ee300"/>
<rect x="869.93" y="374.01" width="7.07" height="3.86" fill="#00e100"/>
<rect x="681.31" y="377.87" width="17.15" height="3.86" fill="#00e100"/>
<rect x="698.46" y="377.87" width="5.72" height="3.86" fill="#01e100"/>
<rect x="704.17" y="377.87" width="2.86" height="3.86" fill="#45ec00"/>
<rect x="707.03" y="377.87" width="2.86" height="3.86" fill="#97f800"/>
<rect x="709.89" y="377.87" width="2.86" height="3.86" fill="#c8fc00"/>
<rect x="712.75" y="377.87" width="2.86" height="3.86" fill="#ebec00"/>
<rect x="715.60" y="377.87" width="2.86" height="3.86" fill="#fcba00"/>
<rect x="718.46" y="377.87" width="2.86" height="3.86" fill="#eb8300"/>
<rect x="721.32" y="377.87" width="2.86" height="3.86" fill="#bf3400"/>
<rect x="724.18" y="377.87" width="17.15" height="3.86" fill="#aa0000"/>
<rect x="741.33" y="377.87" width="2.86" height="3.86" fill="#b72300"/>
<rect x="744.18" y="377.87" width="2.86" height="3.86" fill="#eb8200"/>
<rect x="747.04" y="377.87" width="2.86" height="3.86" fill="#fec400"/>
<rect x="749.90" y="377.87" width="2.86" height="3.86" fill="#def500"/>
<rect x="752.76" y="377.87" width="2.86" height="3.86" fill="#abfc00"/>
<rect x="755.62" y="377.87" width="2.86" height="3.86" fill="#00d419"/>
<rect x="758.47" y="377.87" width="2.86" height="3.86" fill="#00caaa"/>
<rect x="761.33" y="377.87" width="2.86" height="3.86" fill="#00d0cb"/>
<rect x="764.19" y="377.87" width="2.86" height="3.86" fill="#00c79d"/>
<rect x="767.05" y="377.87" width="2.86" height="3.86" fill="#00cc28"/>
<rect x="769.90" y="377.87" width="2.86" height="3.86" fill="#22e600"/>
<rect x="772.76" y="377.87" width="2.86" height="3.86" fill="#82f500"/>
<rect x="775.62" y="377.87" width="2.86" height="3.86" fill="#8cf700"/>
<rect x="778.48" y="377.87" width="2.86" height="3.86" fill="#85f600"/>
<rect x="781.34" y="377.87" width="2.86" height="3.86" fill="#7cf400"/>
<rect x="784.20" y="377.87" width="2.86" height="3.86" fill="#b5fd00"/>
<rect x="787.05" y="377.87" width="2.86" height="3.86" fill="#dcf600"/>
<rect x="789.91" y="377.87" width="2.86" height="3.86" fill="#e9f000"/>
<rect x="792.77" y="377.87" width="2.86" height="3.86" fill="#e2f400"/>
<rect x="795.63" y="377.87" width="2.86" height="3.86" fill="#c7fc00"/>
<rect x="798.49" y="377.87" width="2.86" height="3.86" fill="#9efa00"/>
<rect x="801.34" y="377.87" width="2.86" height="3.86" fill="#89f600"/>
<rect x="804.20" y="377.87" width="2.86" height="3.86" fill="#69f100"/>
<rect x="807.06" y="377.87" width="2.86" height="3.86" fill="#3feb00"/>
<rect x="809.92" y="377.87" width="2.86" height="3.86" fill="#19e500"/>
<rect x="812.77" y="377.87" width="11.43" height="3.86" fill="#00e100"/>
<rect x="824.21" y="377.87" width="2.86" height="3.86" fill="#11e400"/>
<rect x="827.07" y="377.87" width="2.86" height="3.86" fill="#41eb00"/>
<rect x="829.92" y="377.87" width="2.86" height="3.86" fill="#70f200"/>
<rect x="832.78" y="377.87" width="2.86" height="3.86" fill="#82f500"/>
<rect x="835.64" y="377.87" width="2.86" height="3.86" fill="#62f000"/>
<rect x="838.50" y="377.87" width="2.86" height="3.86" fill="#27e700"/>
<rect x="841.36" y="377.87" width="2.86" height="3.86" fill="#00e100"/>
<rect x="844.21" y="377.87" width="2.86" height="3.86" fill="#18e500"/>
<rect x="847.07" y="377.87" width="2.86" height="3.86" fill="#6ff200"/>
<rect x="849.93" y="377.87" width="2.86" height="3.86" fill="#a6fb00"/>
<rect x="852.79" y="377.87" width="2.86" height="3.86" fill="#beff00"/>
<rect x="855.64" y="377.87" width="2.86" height="3.86" fill="#b8fe00"/>
<rect x="858.50" y="377.87" width="2.86" height="3.86" fill="#a3fa00"/>
<rect x="861.36" y="377.87" width="2.86" height="3.86" fill="#8af600"/>
<rect x="864.22" y="377.87" width="2.86" height="3.86" fill="#6af100"/>
<rect x="867.08" y="377.87" width="2.86" height="3.86" fill="#3feb00"/>
<rect x="869.93" y="377.87" width="2.86" height="3.86" fill="#18e500"/>
<rect x="872.79" y="377.87" width="4.21" height="3.86" fill="#00e100"/>
<rect x="681.31" y="381.73" width="22.86" height="3.86" fill="#00e100"/>
<rect x="704.17" y="381.73" width="2.86" height="3.86" fill="#35e900"/>
<rect x="707.03" y="381.73" width="2.86" height="3.86" fill="#8cf700"/>
<rect x="709.89" y="381.73" width="2.86" height="3.86" fill="#bfff00"/>
<rect x="712.75" y="381.73" width="2.86" height="3.86" fill="#e1f400"/>
<rect x="715.60" y="381.73" width="2.86" height="3.86" fill="#f9cf00"/>
<rect x="718.46" y="381.73" width="2.86" height="3.86" fill="#f5a300"/>
<rect x="721.32" y="381.73" width="2.86" height="3.86" fill="#e47600"/>
<rect x="724.18" y="381.73" width="2.86" height="3.86" fill="#ca4700"/>
<rect x="727.03" y="381.73" width="2.86" height="3.86" fill="#ba2a00"/>
<rect x="729.89" y="381.73" width="2.86" height="3.86" fill="#b62000"/>
<rect x="732.75" y="381.73" width="2.86" height="3.86" fill="#b61f00"/>
<rect x="735.61" y="381.73" width="2.86" height="3.86" fill="#b72200"/>
<rect x="738.47" y="381.73" width="2.86" height="3.86" fill="#c23700"/>
<rect x="741.33" y="381.73" width="2.86" height="3.86" fill="#dd6a00"/>
<rect x="744.18" y="381.73" width="2.86" height="3.86" fill="#f5a200"/>
<rect x="747.04" y="381.73" width="2.86" height="3.86" fill="#f5d800"/>
<rect x="749.90" y="381.73" width="2.86" height="3.86" fill="#d3f800"/>
<rect x="752.76" y="381.73" width="2.86" height="3.86" fill="#a0fa00"/>
<rect x="755.62" y="381.73" width="2.86" height="3.86" fill="#30e800"/>
<rect x="758.47" y="381.73" width="2.86" height="3.86" fill="#00be56"/>
<rect x="761.33" y="381.73" width="2.86" height="3.86" fill="#00c277"/>
<rect x="764.19" y="381.73" width="2.86" height="3.86" fill="#00bc48"/>
<rect x="767.05" y="381.73" width="2.86" height="3.86" fill="#00e001"/>
<rect x="769.90" y="381.73" width="2.86" height="3.86" fill="#5def00"/>
<rect x="772.76" y="381.73" width="2.86" height="3.86" fill="#9af900"/>
<rect x="775.62" y="381.73" width="2.86" height="3.86" fill="#a7fb00"/>
<rect x="778.48" y="381.73" width="2.86" height="3.86" fill="#a8fb00"/>
<rect x="781.34" y="381.73" width="2.86" height="3.86" fill="#b9fe00"/>
<rect x="784.20" y="381.73" width="2.86" height="3.86" fill="#e3f300"/>
<rect x="787.05" y="381.73" width="2.86" height="3.86" fill="#f5d700"/>
<rect x="789.91" y="381.73" width="2.86" height="3.86" fill="#f9ce00"/>
<rect x="792.77" y="381.73" width="2.86" height="3.86" fill="#f7d400"/>
<rect x="795.63" y="381.73" width="2.86" height="3.86" fill="#ebec00"/>
<rect x="798.49" y="381.73" width="2.86" height="3.86" fill="#c2fe00"/>
<rect x="801.34" y="381.73" width="2.86" height="3.86" fill="#9af900"/>
<rect x="804.20" y="381.73" width="2.86" height="3.86" fill="#7bf400"/>
<rect x="807.06" y="381.73" width="2.86" height="3.86" fill="#47ec00"/>
<rect x="809.92" y="381.73" width="2.86" height="3.86" fill="#1ce500"/>
<rect x="812.77" y="381.73" width="11.43" height="3.86" fill="#00e100"/>
<rect x="824.21" y="381.73" width="2.86" height="3.86" fill="#0be300"/>
<rect x="827.07" y="381.73" width="2.86" height="3.86" fill="#2be800"/>
<rect x="829.92" y="381.73" width="2.86" height="3.86" fill="#4aec00"/>
<rect x="832.78" y="381.73" width="2.86" height="3.86" fill="#56ee00"/>
<rect x="835.64" y="381.73" width="2.86" height="3.86" fill="#3dea00"/>
<rect x="838.50" y="381.73" width="2.86" height="3.86" fill="#12e400"/>
<rect x="841.36" y="381.73" width="2.86" height="3.86" fill="#00e100"/>
<rect x="844.21" y="381.73" width="2.86" height="3.86" fill="#1ce500"/>
<rect x="847.07" y="381.73" width="2.86" height="3.86" fill="#77f300"/>
<rect x="849.93" y="381.73" width="2.86" height="3.86" fill="#aafc00"/>
<rect x="852.79" y="381.73" width="2.86" height="3.86" fill="#c2fe00"/>
<rect x="855.64" y="381.73" width="2.86" height="3.86" fill="#beff00"/>
<rect x="858.50" y="381.73" width="2.86" height="3.86" fill="#aafc00"/>
<rect x="861.36" y="381.73" width="2.86" height="3.86" fill="#91f800"/>
<rect x="864.22" y="381.73" width="2.86" height="3.86" fill="#7af400"/>
<rect x="867.08" y="381.73" width="2.86" height="3.86" fill="#4ded00"/>
<rect x="869.93" y="381.73" width="2.86" height="3.86" fill="#24e700"/>
<rect x="872.79" y="381.73" width="2.86" height="3.86" fill="#08e200"/>
<rect x="875.65" y="381.73" width="1.35" height="3.86" fill="#00e100"/>
<rect x="681.31" y="385.59" width="22.86" height="3.86" fill="#00e100"/>
<rect x="704.17" y="385.59" width="2.86" height="3.86" fill="#16e400"/>
<rect x="707.03" y="385.59" width="2.86" height="3.86" fill="#70f200"/>
<rect x="709.89" y="385.59" width="2.86" height="3.86" fill="#a7fb00"/>
<rect x="712.75" y="385.59" width="2.86" height="3.86" fill="#ccfb00"/>
<rect x="715.60" y="385.59" width="2.86" height="3.86" fill="#e8f200"/>
<rect x="718.46" y="385.59" width="2.86" height="3.86" fill="#f7d300"/>
<rect x="721.32" y="385.59" width="2.86" height="3.86" fill="#fcb800"/>
<rect x="724.18" y="385.59" width="2.86" height="3.86" fill="#f5a400"/>
<rect x="727.03" y="385.59" width="2.86" height="3.86" fill="#f29800"/>
<rect x="729.89" y="385.59" width="2.86" height="3.86" fill="#f19400"/>
<rect x="732.75" y="385.59" width="2.86" height="3.86" fill="#f09400"/>
<rect x="735.61" y="385.59" width="2.86" height="3.86" fill="#f19500"/>
<rect x="738.47" y="385.59" width="2.86" height="3.86" fill="#f49e00"/>
<rect x="741.33" y="385.59" width="2.86" height="3.86" fill="#fab200"/>
<rect x="744.18" y="385.59" width="2.86" height="3.86" fill="#f8d200"/>
<rect x="747.04" y="385.59" width="2.86" height="3.86" fill="#e3f400"/>
<rect x="749.90" y="385.59" width="2.86" height="3.86" fill="#c0fe00"/>
<rect x="752.76" y="385.59" width="2.86" height="3.86" fill="#8bf600"/>
<rect x="755.62" y="385.59" width="2.86" height="3.86" fill="#46ec00"/>
<rect x="758.47" y="385.59" width="2.86" height="3.86" fill="#00de06"/>
<rect x="761.33" y="385.59" width="2.86" height="3.86" fill="#00d614"/>
<rect x="764.19" y="385.59" width="2.86" height="3.86" fill="#00e002"/>
<rect x="767.05" y="385.59" width="2.86" height="3.86" fill="#36e900"/>
<rect x="769.90" y="385.59" width="2.86" height="3.86" fill="#8df700"/>
<rect x="772.76" y="385.59" width="2.86" height="3.86" fill="#b1fd00"/>
<rect x="775.62" y="385.59" width="2.86" height="3.86" fill="#c2fe00"/>
<rect x="778.48" y="385.59" width="2.86" height="3.86" fill="#cbfb00"/>
<rect x="781.34" y="385.59" width="2.86" height="3.86" fill="#def500"/>
<rect x="784.20" y="385.59" width="2.86" height="3.86" fill="#f3dc00"/>
<rect x="787.05" y="385.59" width="2.86" height="3.86" fill="#fbca00"/>
<rect x="789.91" y="385.59" width="2.86" height="3.86" fill="#fdc800"/>
<rect x="792.77" y="385.59" width="2.86" height="3.86" fill="#fcc800"/>
<rect x="795.63" y="385.59" width="2.86" height="3.86" fill="#f5d800"/>
<rect x="798.49" y="385.59" width="2.86" height="3.86" fill="#d0f900"/>
<rect x="801.34" y="385.59" width="2.86" height="3.86" fill="#9af900"/>
<rect x="804.20" y="385.59" width="2.86" height="3.86" fill="#6cf200"/>
<rect x="807.06" y="385.59" width="2.86" height="3.86" fill="#3aea00"/>
<rect x="809.92" y="385.59" width="2.86" height="3.86" fill="#17e500"/>
<rect x="812.77" y="385.59" width="11.43" height="3.86" fill="#00e100"/>
<rect x="824.21" y="385.59" width="2.86" height="3.86" fill="#03e200"/>
<rect x="827.07" y="385.59" width="2.86" height="3.86" fill="#0de300"/>
<rect x="829.92" y="385.59" width="2.86" height="3.86" fill="#16e400"/>
<rect x="832.78" y="385.59" width="2.86" height="3.86" fill="#1ae500"/>
<rect x="835.64" y="385.59" width="2.86" height="3.86" fill="#0de300"/>
<rect x="838.50" y="385.59" width="5.72" height="3.86" fill="#00e100"/>
<rect x="844.21" y="385.59" width="2.86" height="3.86" fill="#1fe600"/>
<rect x="847.07" y="385.59" width="2.86" height="3.86" fill="#78f300"/>
<rect x="849.93" y="385.59" width="2.86" height="3.86" fill="#a9fb00"/>
<rect x="852.79" y="385.59" width="2.86" height="3.86" fill="#bfff00"/>
<rect x="855.64" y="385.59" width="2.86" height="3.86" fill="#bcff00"/>
<rect x="858.50" y="385.59" width="2.86" height="3.86" fill="#a8fb00"/>
<rect x="861.36" y="385.59" width="2.86" height="3.86" fill="#90f700"/>
<rect x="864.22" y="385.59" width="2.86" height="3.86" fill="#77f300"/>
<rect x="867.08" y="385.59" width="2.86" height="3.86" fill="#49ec00"/>
<rect x="869.93" y="385.59" width="2.86" height="3.86" fill="#1ee600"/>
<rect x="872.79" y="385.59" width="2.86" height="3.86" fill="#02e100"/>
<rect x="875.65" y="385.59" width="1.35" height="3.86" fill="#00e100"/>
<rect x="681.31" y="389.45" width="2.86" height="3.86" fill="#00e100"/>
<rect x="684.17" y="389.45" width="2.86" height="3.86" fill="#01e100"/>
<rect x="687.02" y="389.45" width="2.86" height="3.86" fill="#05e200"/>
<rect x="689.88" y="389.45" width="2.86" height="3.86" fill="#0ae200"/>
<rect x="692.74" y="389.45" width="2.86" height="3.86" fill="#0be300"/>
<rect x="695.60" y="389.45" width="2.86" height="3.86" fill="#09e200"/>
<rect x="698.46" y="389.45" width="2.86" height="3.86" fill="#05e200"/>
<rect x="701.31" y="389.45" width="2.86" height="3.86" fill="#01e100"/>
<rect x="704.17" y="389.45" width="2.86" height="3.86" fill="#00e100"/>
<rect x="707.03" y="389.45" width="2.86" height="3.86" fill="#38ea00"/>
<rect x="709.89" y="389.45" width="2.86" height="3.86" fill="#83f500"/>
<rect x="712.75" y="389.45" width="2.86" height="3.86" fill="#a7fb00"/>
<rect x="715.60" y="389.45" width="2.86" height="3.86" fill="#c4fd00"/>
<rect x="718.46" y="389.45" width="2.86" height="3.86" fill="#d7f700"/>
<rect x="721.32" y="389.45" width="2.86" height="3.86" fill="#e4f300"/>
<rect x="724.18" y="389.45" width="2.86" height="3.86" fill="#ebeb00"/>
<rect x="727.03" y="389.45" width="2.86" height="3.86" fill="#eee500"/>
<rect x="729.89" y="389.45" width="2.86" height="3.86" fill="#efe300"/>
<rect x="732.75" y="389.45" width="2.86" height="3.86" fill="#f0e300"/>
<rect x="735.61" y="389.45" width="2.86" height="3.86" fill="#efe300"/>
<rect x="738.47" y="389.45" width="2.86" height="3.86" fill="#ede800"/>
<rect x="741.33" y="389.45" width="2.86" height="3.86" fill="#e6f200"/>
<rect x="744.18" y="389.45" width="2.86" height="3.86" fill="#d7f700"/>
<rect x="747.04" y="389.45" width="2.86" height="3.86" fill="#c0fe00"/>
<rect x="749.90" y="389.45" width="2.86" height="3.86" fill="#99f900"/>
<rect x="752.76" y="389.45" width="2.86" height="3.86" fill="#7ef400"/>
<rect x="755.62" y="389.45" width="2.86" height="3.86" fill="#61f000"/>
<rect x="758.47" y="389.45" width="2.86" height="3.86" fill="#2ce800"/>
<rect x="761.33" y="389.45" width="2.86" height="3.86" fill="#0be300"/>
<rect x="764.19" y="389.45" width="2.86" height="3.86" fill="#24e700"/>
<rect x="767.05" y="389.45" width="2.86" height="3.86" fill="#72f300"/>
<rect x="769.90" y="389.45" width="2.86" height="3.86" fill="#a6fb00"/>
<rect x="772.76" y="389.45" width="2.86" height="3.86" fill="#c5fd00"/>
<rect x="775.62" y="389.45" width="2.86" height="3.86" fill="#d4f800"/>
<rect x="778.48" y="389.45" width="2.86" height="3.86" fill="#dff500"/>
<rect x="781.34" y="389.45" width="2.86" height="3.86" fill="#ebeb00"/>
<rect x="784.20" y="389.45" width="2.86" height="3.86" fill="#f6d400"/>
<rect x="787.05" y="389.45" width="2.86" height="3.86" fill="#fcc900"/>
<rect x="789.91" y="389.45" width="2.86" height="3.86" fill="#ffc400"/>
<rect x="792.77" y="389.45" width="2.86" height="3.86" fill="#fdc700"/>
<rect x="795.63" y="389.45" width="2.86" height="3.86" fill="#f4d900"/>
<rect x="798.49" y="389.45" width="2.86" height="3.86" fill="#cbfb00"/>
<rect x="801.34" y="389.45" width="2.86" height="3.86" fill="#8ff700"/>
<rect x="804.20" y="389.45" width="2.86" height="3.86" fill="#52ee00"/>
<rect x="807.06" y="389.45" width="2.86" height="3.86" fill="#28e700"/>
<rect x="809.92" y="389.45" width="2.86" height="3.86" fill="#10e300"/>
<rect x="812.77" y="389.45" width="31.44" height="3.86" fill="#00e100"/>
<rect x="844.21" y="389.45" width="2.86" height="3.86" fill="#21e600"/>
<rect x="847.07" y="389.45" width="2.86" height="3.86" fill="#7bf400"/>
<rect x="849.93" y="389.45" width="2.86" height="3.86" fill="#a9fc00"/>
<rect x="852.79" y="389.45" width="2.86" height="3.86" fill="#bfff00"/>
<rect x="855.64" y="389.45" width="2.86" height="3.86" fill="#b8fe00"/>
<rect x="858.50" y="389.45" width="2.86" height="3.86" fill="#a0fa00"/>
<rect x="861.36" y="389.45" width="2.86" height="3.86" fill="#85f500"/>
<rect x="864.22" y="389.45" width="2.86" height="3.86" fill="#5ff000"/>
<rect x="867.08" y="389.45" width="2.86" height="3.86" fill="#38ea00"/>
<rect x="869.93" y="389.45" width="2.86" height="3.86" fill="#16e400"/>
<rect x="872.79" y="389.45" width="4.21" height="3.86" fill="#00e100"/>
<rect x="681.31" y="393.31" width="2.86" height="3.86" fill="#00e100"/>
<rect x="684.17" y="393.31" width="2.86" height="3.86" fill="#08e200"/>
<rect x="687.02" y="393.31" width="2.86" height="3.86" fill="#1de600"/>
<rect x="689.88" y="393.31" width="2.86" height="3.86" fill="#33e900"/>
<rect x="692.74" y="393.31" width="2.86" height="3.86" fill="#3cea00"/>
<rect x="695.60" y="393.31" width="2.86" height="3.86" fill="#31e900"/>
<rect x="698.46" y="393.31" width="2.86" height="3.86" fill="#1be500"/>
<rect x="701.31" y="393.31" width="2.86" height="3.86" fill="#06e200"/>
<rect x="704.17" y="393.31" width="5.72" height="3.86" fill="#00e100"/>
<rect x="709.89" y="393.31" width="2.86" height="3.86" fill="#2de800"/>
<rect x="712.75" y="393.31" width="2.86" height="3.86" fill="#65f100"/>
<rect x="715.60" y="393.31" width="2.86" height="3.86" fill="#8cf700"/>
<rect x="718.46" y="393.31" width="2.86" height="3.86" fill="#a0fa00"/>
<rect x="721.32" y="393.31" width="2.86" height="3.86" fill="#aefc00"/>
<rect x="724.18" y="393.31" width="2.86" height="3.86" fill="#b7fe00"/>
<rect x="727.03" y="393.31" width="2.86" height="3.86" fill="#bbff00"/>
<rect x="729.89" y="393.31" width="8.57" height="3.86" fill="#bdff00"/>
<rect x="738.47" y="393.31" width="2.86" height="3.86" fill="#b9fe00"/>
<rect x="741.33" y="393.31" width="2.86" height="3.86" fill="#b0fd00"/>
<rect x="744.18" y="393.31" width="2.86" height="3.86" fill="#a0fa00"/>
<rect x="747.04" y="393.31" width="2.86" height="3.86" fill="#87f600"/>
<rect x="749.90" y="393.31" width="2.86" height="3.86" fill="#50ed00"/>
<rect x="752.76" y="393.31" width="2.86" height="3.86" fill="#56ee00"/>
<rect x="755.62" y="393.31" width="2.86" height="3.86" fill="#3feb00"/>
<rect x="758.47" y="393.31" width="2.86" height="3.86" fill="#18e500"/>
<rect x="761.33" y="393.31" width="2.86" height="3.86" fill="#07e200"/>
<rect x="764.19" y="393.31" width="2.86" height="3.86" fill="#30e800"/>
<rect x="767.05" y="393.31" width="2.86" height="3.86" fill="#8af600"/>
<rect x="769.90" y="393.31" width="2.86" height="3.86" fill="#bdff00"/>
<rect x="772.76" y="393.31" width="2.86" height="3.86" fill="#d8f700"/>
<rect x="775.62" y="393.31" width="2.86" height="3.86" fill="#e4f300"/>
<rect x="778.48" y="393.31" width="2.86" height="3.86" fill="#e9f100"/>
<rect x="781.34" y="393.31" width="2.86" height="3.86" fill="#ebec00"/>
<rect x="784.20" y="393.31" width="2.86" height="3.86" fill="#f3dc00"/>
<rect x="787.05" y="393.31" width="2.86" height="3.86" fill="#f8d100"/>
<rect x="789.91" y="393.31" width="2.86" height="3.86" fill="#face00"/>
<rect x="792.77" y="393.31" width="2.86" height="3.86" fill="#f6d500"/>
<rect x="795.63" y="393.31" width="2.86" height="3.86" fill="#e5f300"/>
<rect x="798.49" y="393.31" width="2.86" height="3.86" fill="#9bf900"/>
<rect x="801.34" y="393.31" width="2.86" height="3.86" fill="#33e900"/>
<rect x="804.20" y="393.31" width="2.86" height="3.86" fill="#00de06"/>
<rect x="807.06" y="393.31" width="2.86" height="3.86" fill="#00da0e"/>
<rect x="809.92" y="393.31" width="2.86" height="3.86" fill="#00dd07"/>
<rect x="812.77" y="393.31" width="31.44" height="3.86" fill="#00e100"/>
<rect x="844.21" y="393.31" width="2.86" height="3.86" fill="#23e600"/>
<rect x="847.07" y="393.31" width="2.86" height="3.86" fill="#82f500"/>
<rect x="849.93" y="393.31" width="2.86" height="3.86" fill="#aefc00"/>
<rect x="852.79" y="393.31" width="2.86" height="3.86" fill="#c1fe00"/>
<rect x="855.64" y="393.31" width="2.86" height="3.86" fill="#b2fd00"/>
<rect x="858.50" y="393.31" width="2.86" height="3.86" fill="#8ff700"/>
<rect x="861.36" y="393.31" width="2.86" height="3.86" fill="#52ee00"/>
<rect x="864.22" y="393.31" width="2.86" height="3.86" fill="#2ae700"/>
<rect x="867.08" y="393.31" width="2.86" height="3.86" fill="#14e400"/>
<rect x="869.93" y="393.31" width="2.86" height="3.86" fill="#08e200"/>
<rect x="872.79" y="393.31" width="4.21" height="3.86" fill="#00e100"/>
<rect x="681.31" y="397.17" width="2.86" height="3.86" fill="#00e100"/>
<rect x="684.17" y="397.17" width="2.86" height="3.86" fill="#0fe300"/>
<rect x="687.02" y="397.17" width="2.86" height="3.86" fill="#39ea00"/>
<rect x="689.88" y="397.17" width="2.86" height="3.86" fill="#64f000"/>
<rect x="692.74" y="397.17" width="2.86" height="3.86" fill="#76f300"/>
<rect x="695.60" y="397.17" width="2.86" height="3.86" fill="#60f000"/>
<rect x="698.46" y="397.17" width="2.86" height="3.86" fill="#34e900"/>
<rect x="701.31" y="397.17" width="2.86" height="3.86" fill="#0be300"/>
<rect x="704.17" y="397.17" width="8.57" height="3.86" fill="#00e100"/>
<rect x="712.75" y="397.17" width="2.86" height="3.86" fill="#01e100"/>
<rect x="715.60" y="397.17" width="2.86" height="3.86" fill="#21e600"/>
<rect x="718.46" y="397.17" width="2.86" height="3.86" fill="#4eed00"/>
<rect x="721.32" y="397.17" width="2.86" height="3.86" fill="#75f300"/>
<rect x="724.18" y="397.17" width="2.86" height="3.86" fill="#85f500"/>
<rect x="727.03" y="397.17" width="2.86" height="3.86" fill="#88f600"/>
<rect x="729.89" y="397.17" width="2.86" height="3.86" fill="#86f600"/>
<rect x="732.75" y="397.17" width="2.86" height="3.86" fill="#7ef400"/>
<rect x="735.61" y="397.17" width="2.86" height="3.86" fill="#60f000"/>
<rect x="738.47" y="397.17" width="2.86" height="3.86" fill="#5bef00"/>
<rect x="741.33" y="397.17" width="2.86" height="3.86" fill="#4fed00"/>
<rect x="744.18" y="397.17" width="2.86" height="3.86" fill="#35e900"/>
<rect x="747.04" y="397.17" width="2.86" height="3.86" fill="#00da0d"/>
<rect x="749.90" y="397.17" width="2.86" height="3.86" fill="#00cf22"/>
<rect x="752.76" y="397.17" width="2.86" height="3.86" fill="#00d021"/>
<rect x="755.62" y="397.17" width="2.86" height="3.86" fill="#00d31a"/>
<rect x="758.47" y="397.17" width="2.86" height="3.86" fill="#00df05"/>
<rect x="761.33" y="397.17" width="2.86" height="3.86" fill="#00e100"/>
<rect x="764.19" y="397.17" width="2.86" height="3.86" fill="#2ce800"/>
<rect x="767.05" y="397.17" width="2.86" height="3.86" fill="#92f800"/>
<rect x="769.90" y="397.17" width="2.86" height="3.86" fill="#cafb00"/>
<rect x="772.76" y="397.17" width="2.86" height="3.86" fill="#e7f200"/>
<rect x="775.62" y="397.17" width="2.86" height="3.86" fill="#ede800"/>
<rect x="778.48" y="397.17" width="2.86" height="3.86" fill="#ece900"/>
<rect x="781.34" y="397.17" width="2.86" height="3.86" fill="#e9ef00"/>
<rect x="784.20" y="397.17" width="2.86" height="3.86" fill="#eaee00"/>
<rect x="787.05" y="397.17" width="2.86" height="3.86" fill="#ecea00"/>
<rect x="789.91" y="397.17" width="2.86" height="3.86" fill="#eaed00"/>
<rect x="792.77" y="397.17" width="2.86" height="3.86" fill="#dcf600"/>
<rect x="795.63" y="397.17" width="2.86" height="3.86" fill="#9bf900"/>
<rect x="798.49" y="397.17" width="2.86" height="3.86" fill="#06e200"/>
<rect x="801.34" y="397.17" width="2.86" height="3.86" fill="#00c82f"/>
<rect x="804.20" y="397.17" width="2.86" height="3.86" fill="#00bf40"/>
<rect x="807.06" y="397.17" width="2.86" height="3.86" fill="#00c23b"/>
<rect x="809.92" y="397.17" width="2.86" height="3.86" fill="#00ca2c"/>
<rect x="812.77" y="397.17" width="2.86" height="3.86" fill="#00d615"/>
<rect x="815.63" y="397.17" width="2.86" height="3.86" fill="#00e101"/>
<rect x="818.49" y="397.17" width="25.72" height="3.86" fill="#00e100"/>
<rect x="844.21" y="397.17" width="2.86" height="3.86" fill="#22e600"/>
<rect x="847.07" y="397.17" width="2.86" height="3.86" fill="#82f500"/>
<rect x="849.93" y="397.17" width="2.86" height="3.86" fill="#aefc00"/>
<rect x="852.79" y="397.17" width="2.86" height="3.86" fill="#bfff00"/>
<rect x="855.64" y="397.17" width="2.86" height="3.86" fill="#aafc00"/>
<rect x="858.50" y="397.17" width="2.86" height="3.86" fill="#78f300"/>
<rect x="861.36" y="397.17" width="2.86" height="3.86" fill="#1ee600"/>
<rect x="864.22" y="397.17" width="12.78" height="3.86" fill="#00e100"/>
<rect x="681.31" y="401.03" width="2.86" height="3.86" fill="#00e100"/>
<rect x="684.17" y="401.03" width="2.86" height="3.86" fill="#16e400"/>
<rect x="687.02" y="401.03" width="2.86" height="3.86" fill="#56ee00"/>
<rect x="689.88" y="401.03" width="2.86" height="3.86" fill="#8bf700"/>
<rect x="692.74" y="401.03" width="2.86" height="3.86" fill="#97f900"/>
<rect x="695.60" y="401.03" width="2.86" height="3.86" fill="#88f600"/>
<rect x="698.46" y="401.03" width="2.86" height="3.86" fill="#4eed00"/>
<rect x="701.31" y="401.03" width="2.86" height="3.86" fill="#10e300"/>
<rect x="704.17" y="401.03" width="8.57" height="3.86" fill="#00e100"/>
<rect x="712.75" y="401.03" width="2.86" height="3.86" fill="#01e100"/>
<rect x="715.60" y="401.03" width="2.86" height="3.86" fill="#1ce500"/>
<rect x="718.46" y="401.03" width="2.86" height="3.86" fill="#41eb00"/>
<rect x="721.32" y="401.03" width="2.86" height="3.86" fill="#62f000"/>
<rect x="724.18" y="401.03" width="2.86" height="3.86" fill="#72f300"/>
<rect x="727.03" y="401.03" width="2.86" height="3.86" fill="#7af400"/>
<rect x="729.89" y="401.03" width="2.86" height="3.86" fill="#78f300"/>
<rect x="732.75" y="401.03" width="2.86" height="3.86" fill="#69f100"/>
<rect x="735.61" y="401.03" width="2.86" height="3.86" fill="#46ec00"/>
<rect x="738.47" y="401.03" width="2.86" height="3.86" fill="#16e400"/>
<rect x="741.33" y="401.03" width="2.86" height="3.86" fill="#00de06"/>
<rect x="744.18" y="401.03" width="2.86" height="3.86" fill="#00c730"/>
<rect x="747.04" y="401.03" width="2.86" height="3.86" fill="#00bf5c"/>
<rect x="749.90" y="401.03" width="2.86" height="3.86" fill="#00c277"/>
<rect x="752.76" y="401.03" width="2.86" height="3.86" fill="#00c27a"/>
<rect x="755.62" y="401.03" width="2.86" height="3.86" fill="#00c062"/>
<rect x="758.47" y="401.03" width="2.86" height="3.86" fill="#00c338"/>
<rect x="761.33" y="401.03" width="2.86" height="3.86" fill="#00db0c"/>
<rect x="764.19" y="401.03" width="2.86" height="3.86" fill="#33e900"/>
<rect x="767.05" y="401.03" width="2.86" height="3.86" fill="#99f900"/>
<rect x="769.90" y="401.03" width="2.86" height="3.86" fill="#cffa00"/>
<rect x="772.76" y="401.03" width="2.86" height="3.86" fill="#eaed00"/>
<rect x="775.62" y="401.03" width="2.86" height="3.86" fill="#f0e200"/>
<rect x="778.48" y="401.03" width="2.86" height="3.86" fill="#efe400"/>
<rect x="781.34" y="401.03" width="2.86" height="3.86" fill="#eaed00"/>
<rect x="784.20" y="401.03" width="2.86" height="3.86" fill="#e1f400"/>
<rect x="787.05" y="401.03" width="2.86" height="3.86" fill="#d5f800"/>
<rect x="789.91" y="401.03" width="2.86" height="3.86" fill="#cafb00"/>
<rect x="792.77" y="401.03" width="2.86" height="3.86" fill="#a4fb00"/>
<rect x="795.63" y="401.03" width="2.86" height="3.86" fill="#1fe600"/>
<rect x="798.49" y="401.03" width="2.86" height="3.86" fill="#00c339"/>
<rect x="801.34" y="401.03" width="2.86" height="3.86" fill="#00bf5b"/>
<rect x="804.20" y="401.03" width="2.86" height="3.86" fill="#00c065"/>
<rect x="807.06" y="401.03" width="2.86" height="3.86" fill="#00bf5f"/>
<rect x="809.92" y="401.03" width="2.86" height="3.86" fill="#00bd4a"/>
<rect x="812.77" y="401.03" width="2.86" height="3.86" fill="#00c92e"/>
<rect x="815.63" y="401.03" width="2.86" height="3.86" fill="#00da0e"/>
<rect x="818.49" y="401.03" width="5.72" height="3.86" fill="#00e100"/>
<rect x="824.21" y="401.03" width="2.86" height="3.86" fill="#04e200"/>
<rect x="827.07" y="401.03" width="2.86" height="3.86" fill="#10e300"/>
<rect x="829.92" y="401.03" width="2.86" height="3.86" fill="#1ce500"/>
<rect x="832.78" y="401.03" width="2.86" height="3.86" fill="#21e600"/>
<rect x="835.64" y="401.03" width="2.86" height="3.86" fill="#13e400"/>
<rect x="838.50" y="401.03" width="5.72" height="3.86" fill="#00e100"/>
<rect x="844.21" y="401.03" width="2.86" height="3.86" fill="#1ce500"/>
<rect x="847.07" y="401.03" width="2.86" height="3.86" fill="#70f200"/>
<rect x="849.93" y="401.03" width="2.86" height="3.86" fill="#a1fa00"/>
<rect x="852.79" y="401.03" width="2.86" height="3.86" fill="#b0fd00"/>
<rect x="855.64" y="401.03" width="2.86" height="3.86" fill="#9bf900"/>
<rect x="858.50" y="401.03" width="2.86" height="3.86" fill="#5eef00"/>
<rect x="861.36" y="401.03" width="2.86" height="3.86" fill="#0be300"/>
<rect x="864.22" y="401.03" width="11.43" height="3.86" fill="#00e100"/>
<rect x="875.65" y="401.03" width="1.35" height="3.86" fill="#01e100"/>
<rect x="681.31" y="404.89" width="2.86" height="3.86" fill="#00e100"/>
<rect x="684.17" y="404.89" width="2.86" height="3.86" fill="#1ee600"/>
<rect x="687.02" y="404.89" width="2.86" height="3.86" fill="#74f300"/>
<rect x="689.88" y="404.89" width="2.86" height="3.86" fill="#a3fb00"/>
<rect x="692.74" y="404.89" width="2.86" height="3.86" fill="#b4fd00"/>
<rect x="695.60" y="404.89" width="2.86" height="3.86" fill="#9ffa00"/>
<rect x="698.46" y="404.89" width="2.86" height="3.86" fill="#69f100"/>
<rect x="701.31" y="404.89" width="2.86" height="3.86" fill="#16e400"/>
<rect x="704.17" y="404.89" width="11.43" height="3.86" fill="#00e100"/>
<rect x="715.60" y="404.89" width="2.86" height="3.86" fill="#0be300"/>
<rect x="718.46" y="404.89" width="2.86" height="3.86" fill="#19e500"/>
<rect x="721.32" y="404.89" width="2.86" height="3.86" fill="#25e700"/>
<rect x="724.18" y="404.89" width="2.86" height="3.86" fill="#2de800"/>
<rect x="727.03" y="404.89" width="2.86" height="3.86" fill="#33e900"/>
<rect x="729.89" y="404.89" width="2.86" height="3.86" fill="#34e900"/>
<rect x="732.75" y="404.89" width="2.86" height="3.86" fill="#27e700"/>
<rect x="735.61" y="404.89" width="2.86" height="3.86" fill="#06e200"/>
<rect x="738.47" y="404.89" width="2.86" height="3.86" fill="#00e100"/>
<rect x="741.33" y="404.89" width="2.86" height="3.86" fill="#00cc28"/>
<rect x="744.18" y="404.89" width="2.86" height="3.86" fill="#00c069"/>
<rect x="747.04" y="404.89" width="2.86" height="3.86" fill="#00c8a0"/>
<rect x="749.90" y="404.89" width="2.86" height="3.86" fill="#00cdba"/>
<rect x="752.76" y="404.89" width="2.86" height="3.86" fill="#00cdbc"/>
<rect x="755.62" y="404.89" width="2.86" height="3.86" fill="#00c9a6"/>
<rect x="758.47" y="404.89" width="2.86" height="3.86" fill="#00c274"/>
<rect x="761.33" y="404.89" width="2.86" height="3.86" fill="#00c632"/>
<rect x="764.19" y="404.89" width="2.86" height="3.86" fill="#36e900"/>
<rect x="767.05" y="404.89" width="2.86" height="3.86" fill="#9bf900"/>
<rect x="769.90" y="404.89" width="2.86" height="3.86" fill="#cffa00"/>
<rect x="772.76" y="404.89" width="2.86" height="3.86" fill="#e9ef00"/>
<rect x="775.62" y="404.89" width="5.72" height="3.86" fill="#f0e200"/>
<rect x="781.34" y="404.89" width="2.86" height="3.86" fill="#ebeb00"/>
<rect x="784.20" y="404.89" width="2.86" height="3.86" fill="#dcf600"/>
<rect x="787.05" y="404.89" width="2.86" height="3.86" fill="#cefa00"/>
<rect x="789.91" y="404.89" width="2.86" height="3.86" fill="#bbff00"/>
<rect x="792.77" y="404.89" width="2.86" height="3.86" fill="#7ef400"/>
<rect x="795.63" y="404.89" width="2.86" height="3.86" fill="#00d616"/>
<rect x="798.49" y="404.89" width="2.86" height="3.86" fill="#00bd4f"/>
<rect x="801.34" y="404.89" width="2.86" height="3.86" fill="#00c170"/>
<rect x="804.20" y="404.89" width="2.86" height="3.86" fill="#00c37b"/>
<rect x="807.06" y="404.89" width="2.86" height="3.86" fill="#00c274"/>
<rect x="809.92" y="404.89" width="2.86" height="3.86" fill="#00bf5e"/>
<rect x="812.77" y="404.89" width="2.86" height="3.86" fill="#00c13d"/>
<rect x="815.63" y="404.89" width="2.86" height="3.86" fill="#00d418"/>
<rect x="818.49" y="404.89" width="5.72" height="3.86" fill="#00e100"/>
<rect x="824.21" y="404.89" width="2.86" height="3.86" fill="#0ce300"/>
<rect x="827.07" y="404.89" width="2.86" height="3.86" fill="#2ee800"/>
<rect x="829.92" y="404.89" width="2.86" height="3.86" fill="#50ed00"/>
<rect x="832.78" y="404.89" width="2.86" height="3.86" fill="#5eef00"/>
<rect x="835.64" y="404.89" width="2.86" height="3.86" fill="#46ec00"/>
<rect x="838.50" y="404.89" width="2.86" height="3.86" fill="#1ce500"/>
<rect x="841.36" y="404.89" width="2.86" height="3.86" fill="#00e100"/>
<rect x="844.21" y="404.89" width="2.86" height="3.86" fill="#11e400"/>
<rect x="847.07" y="404.89" width="2.86" height="3.86" fill="#51ed00"/>
<rect x="849.93" y="404.89" width="2.86" height="3.86" fill="#8af600"/>
<rect x="852.79" y="404.89" width="2.86" height="3.86" fill="#97f900"/>
<rect x="855.64" y="404.89" width="2.86" height="3.86" fill="#87f600"/>
<rect x="858.50" y="404.89" width="2.86" height="3.86" fill="#49ec00"/>
<rect x="861.36" y="404.89" width="2.86" height="3.86" fill="#0be300"/>
<rect x="864.22" y="404.89" width="12.78" height="3.86" fill="#00e100"/>
<rect x="681.31" y="408.75" width="2.86" height="3.86" fill="#00e100"/>
<rect x="684.17" y="408.75" width="2.86" height="3.86" fill="#20e600"/>
<rect x="687.02" y="408.75" width="2.86" height="3.86" fill="#7ef400"/>
<rect x="689.88" y="408.75" width="2.86" height="3.86" fill="#abfc00"/>
<rect x="692.74" y="408.75" width="2.86" height="3.86" fill="#bdff00"/>
<rect x="695.60" y="408.75" width="2.86" height="3.86" fill="#a7fb00"/>
<rect x="698.46" y="408.75" width="2.86" height="3.86" fill="#72f300"/>
<rect x="701.31" y="408.75" width="2.86" height="3.86" fill="#18e500"/>
<rect x="704.17" y="408.75" width="22.86" height="3.86" fill="#00e100"/>
<rect x="727.03" y="408.75" width="2.86" height="3.86" fill="#03e100"/>
<rect x="729.89" y="408.75" width="2.86" height="3.86" fill="#05e200"/>
<rect x="732.75" y="408.75" width="5.72" height="3.86" fill="#00e100"/>
<rect x="738.47" y="408.75" width="2.86" height="3.86" fill="#00de06"/>
<rect x="741.33" y="408.75" width="2.86" height="3.86" fill="#00bd43"/>
<rect x="744.18" y="408.75" width="2.86" height="3.86" fill="#00c591"/>
<rect x="747.04" y="408.75" width="2.86" height="3.86" fill="#00cfc5"/>
<rect x="749.90" y="408.75" width="5.72" height="3.86" fill="#00d2d7"/>
<rect x="755.62" y="408.75" width="2.86" height="3.86" fill="#00d0cb"/>
<rect x="758.47" y="408.75" width="2.86" height="3.86" fill="#00c79c"/>
<rect x="761.33" y="408.75" width="2.86" height="3.86" fill="#00bd50"/>
<rect x="764.19" y="408.75" width="2.86" height="3.86" fill="#1ee600"/>
<rect x="767.05" y="408.75" width="2.86" height="3.86" fill="#9df900"/>
<rect x="769.90" y="408.75" width="2.86" height="3.86" fill="#cefa00"/>
<rect x="772.76" y="408.75" width="2.86" height="3.86" fill="#e9f100"/>
<rect x="775.62" y="408.75" width="2.86" height="3.86" fill="#efe300"/>
<rect x="778.48" y="408.75" width="2.86" height="3.86" fill="#f0e100"/>
<rect x="781.34" y="408.75" width="2.86" height="3.86" fill="#ecea00"/>
<rect x="784.20" y="408.75" width="2.86" height="3.86" fill="#dbf600"/>
<rect x="787.05" y="408.75" width="2.86" height="3.86" fill="#cefa00"/>
<rect x="789.91" y="408.75" width="2.86" height="3.86" fill="#bcff00"/>
<rect x="792.77" y="408.75" width="2.86" height="3.86" fill="#7ff400"/>
<rect x="795.63" y="408.75" width="2.86" height="3.86" fill="#00da0d"/>
<rect x="798.49" y="408.75" width="2.86" height="3.86" fill="#00bd4c"/>
<rect x="801.34" y="408.75" width="2.86" height="3.86" fill="#00c171"/>
<rect x="804.20" y="408.75" width="2.86" height="3.86" fill="#00c37c"/>
<rect x="807.06" y="408.75" width="2.86" height="3.86" fill="#00c276"/>
<rect x="809.92" y="408.75" width="2.86" height="3.86" fill="#00bf60"/>
<rect x="812.77" y="408.75" width="2.86" height="3.86" fill="#00c03e"/>
<rect x="815.63" y="408.75" width="2.86" height="3.86" fill="#00d418"/>
<rect x="818.49" y="408.75" width="5.72" height="3.86" fill="#00e100"/>
<rect x="824.21" y="408.75" width="2.86" height="3.86" fill="#11e400"/>
<rect x="827.07" y="408.75" width="2.86" height="3.86" fill="#42eb00"/>
<rect x="829.92" y="408.75" width="2.86" height="3.86" fill="#73f300"/>
<rect x="832.78" y="408.75" width="2.86" height="3.86" fill="#84f500"/>
<rect x="835.64" y="408.75" width="2.86" height="3.86" fill="#68f100"/>
<rect x="838.50" y="408.75" width="2.86" height="3.86" fill="#31e900"/>
<rect x="841.36" y="408.75" width="2.86" height="3.86" fill="#06e200"/>
<rect x="844.21" y="408.75" width="2.86" height="3.86" fill="#07e200"/>
<rect x="847.07" y="408.75" width="2.86" height="3.86" fill="#32e900"/>
<rect x="849.93" y="408.75" width="2.86" height="3.86" fill="#64f000"/>
<rect x="852.79" y="408.75" width="2.86" height="3.86" fill="#79f400"/>
<rect x="855.64" y="408.75" width="2.86" height="3.86" fill="#62f000"/>
<rect x="858.50" y="408.75" width="2.86" height="3.86" fill="#34e900"/>
<rect x="861.36" y="408.75" width="2.86" height="3.86" fill="#0be300"/>
<rect x="864.22" y="408.75" width="12.78" height="3.86" fill="#00e100"/>
<rect x="681.31" y="412.61" width="2.86" height="3.86" fill="#00e100"/>
<rect x="684.17" y="412.61" width="2.86" height="3.86" fill="#1be500"/>
<rect x="687.02" y="412.61" width="2.86" height="3.86" fill="#6af100"/>
<rect x="689.88" y="412.61" width="2.86" height="3.86" fill="#9cf900"/>
<rect x="692.74" y="412.61" width="2.86" height="3.86" fill="#abfc00"/>
<rect x="695.60" y="412.61" width="2.86" height="3.86" fill="#98f900"/>
<rect x="698.46" y="412.61" width="2.86" height="3.86" fill="#61f000"/>
<rect x="701.31" y="412.61" width="2.86" height="3.86" fill="#15e400"/>
<rect x="704.17" y="412.61" width="34.30" height="3.86" fill="#00e100"/>
<rect x="738.47" y="412.61" width="2.86" height="3.86" fill="#00dc0a"/>
<rect x="741.33" y="412.61" width="2.86" height="3.86" fill="#00bd4c"/>
<rect x="744.18" y="412.61" width="2.86" height="3.86" fill="#00c79b"/>
<rect x="747.04" y="412.61" width="2.86" height="3.86" fill="#00d1cf"/>
<rect x="749.90" y="412.61" width="5.72" height="3.86" fill="#00d2d7"/>
<rect x="755.62" y="412.61" width="2.86" height="3.86" fill="#00d2d6"/>
<rect x="758.47" y="412.61" width="2.86" height="3.86" fill="#00c9a5"/>
<rect x="761.33" y="412.61" width="2.86" height="3.86" fill="#00be5a"/>
<rect x="764.19" y="412.61" width="2.86" height="3.86" fill="#0ee300"/>
<rect x="767.05" y="412.61" width="2.86" height="3.86" fill="#9bf900"/>
<rect x="769.90" y="412.61" width="2.86" height="3.86" fill="#cefa00"/>
<rect x="772.76" y="412.61" width="2.86" height="3.86" fill="#e9f100"/>
<rect x="775.62" y="412.61" width="2.86" height="3.86" fill="#f0e300"/>
<rect x="778.48" y="412.61" width="2.86" height="3.86" fill="#f1e000"/>
<rect x="781.34" y="412.61" width="2.86" height="3.86" fill="#ecea00"/>
<rect x="784.20" y="412.61" width="2.86" height="3.86" fill="#dbf600"/>
<rect x="787.05" y="412.61" width="2.86" height="3.86" fill="#d2f900"/>
<rect x="789.91" y="412.61" width="2.86" height="3.86" fill="#c4fd00"/>
<rect x="792.77" y="412.61" width="2.86" height="3.86" fill="#9bf900"/>
<rect x="795.63" y="412.61" width="2.86" height="3.86" fill="#20e600"/>
<rect x="798.49" y="412.61" width="2.86" height="3.86" fill="#00c732"/>
<rect x="801.34" y="412.61" width="2.86" height="3.86" fill="#00bf5b"/>
<rect x="804.20" y="412.61" width="2.86" height="3.86" fill="#00c069"/>
<rect x="807.06" y="412.61" width="2.86" height="3.86" fill="#00c063"/>
<rect x="809.92" y="412.61" width="2.86" height="3.86" fill="#00bd4e"/>
<rect x="812.77" y="412.61" width="2.86" height="3.86" fill="#00c830"/>
<rect x="815.63" y="412.61" width="2.86" height="3.86" fill="#00da0e"/>
<rect x="818.49" y="412.61" width="5.72" height="3.86" fill="#00e100"/>
<rect x="824.21" y="412.61" width="2.86" height="3.86" fill="#14e400"/>
<rect x="827.07" y="412.61" width="2.86" height="3.86" fill="#4ced00"/>
<rect x="829.92" y="412.61" width="2.86" height="3.86" fill="#83f500"/>
<rect x="832.78" y="412.61" width="2.86" height="3.86" fill="#8df700"/>
<rect x="835.64" y="412.61" width="2.86" height="3.86" fill="#76f300"/>
<rect x="838.50" y="412.61" width="2.86" height="3.86" fill="#34e900"/>
<rect x="841.36" y="412.61" width="5.72" height="3.86" fill="#00e100"/>
<rect x="847.07" y="412.61" width="2.86" height="3.86" fill="#0ce300"/>
<rect x="849.93" y="412.61" width="2.86" height="3.86" fill="#2fe800"/>
<rect x="852.79" y="412.61" width="2.86" height="3.86" fill="#40eb00"/>
<rect x="855.64" y="412.61" width="2.86" height="3.86" fill="#35e900"/>
<rect x="858.50" y="412.61" width="2.86" height="3.86" fill="#1de500"/>
<rect x="861.36" y="412.61" width="2.86" height="3.86" fill="#06e200"/>
<rect x="864.22" y="412.61" width="12.78" height="3.86" fill="#00e100"/>
<rect x="681.31" y="416.47" width="2.86" height="3.86" fill="#00e100"/>
<rect x="684.17" y="416.47" width="2.86" height="3.86" fill="#13e400"/>
<rect x="687.02" y="416.47" width="2.86" height="3.86" fill="#4bec00"/>
<rect x="689.88" y="416.47" width="2.86" height="3.86" fill="#82f500"/>
<rect x="692.74" y="416.47" width="2.86" height="3.86" fill="#8df700"/>
<rect x="695.60" y="416.47" width="2.86" height="3.86" fill="#7df400"/>
<rect x="698.46" y="416.47" width="2.86" height="3.86" fill="#45ec00"/>
<rect x="701.31" y="416.47" width="2.86" height="3.86" fill="#0fe300"/>
<rect x="704.17" y="416.47" width="31.44" height="3.86" fill="#00e100"/>
<rect x="735.61" y="416.47" width="2.86" height="3.86" fill="#03e200"/>
<rect x="738.47" y="416.47" width="2.86" height="3.86" fill="#01e100"/>
<rect x="741.33" y="416.47" width="2.86" height="3.86" fill="#00c13d"/>
<rect x="744.18" y="416.47" width="2.86" height="3.86" fill="#00c488"/>
<rect x="747.04" y="416.47" width="2.86" height="3.86" fill="#00cdbd"/>
<rect x="749.90" y="416.47" width="5.72" height="3.86" fill="#00d2d7"/>
<rect x="755.62" y="416.47" width="2.86" height="3.86" fill="#00cec3"/>
<rect x="758.47" y="416.47" width="2.86" height="3.86" fill="#00c694"/>
<rect x="761.33" y="416.47" width="2.86" height="3.86" fill="#00bc49"/>
<rect x="764.19" y="416.47" width="2.86" height="3.86" fill="#1fe600"/>
<rect x="767.05" y="416.47" width="2.86" height="3.86" fill="#9bf900"/>
<rect x="769.90" y="416.47" width="2.86" height="3.86" fill="#cefa00"/>
<rect x="772.76" y="416.47" width="2.86" height="3.86" fill="#e9f100"/>
<rect x="775.62" y="416.47" width="2.86" height="3.86" fill="#efe300"/>
<rect x="778.48" y="416.47" width="2.86" height="3.86" fill="#f1e100"/>
<rect x="781.34" y="416.47" width="2.86" height="3.86" fill="#ecea00"/>
<rect x="784.20" y="416.47" width="2.86" height="3.86" fill="#dbf600"/>
<rect x="787.05" y="416.47" width="2.86" height="3.86" fill="#d6f800"/>
<rect x="789.91" y="416.47" width="2.86" height="3.86" fill="#ccfb00"/>
<rect x="792.77" y="416.47" width="2.86" height="3.86" fill="#b8fe00"/>
<rect x="795.63" y="416.47" width="2.86" height="3.86" fill="#7cf400"/>
<rect x="798.49" y="416.47" width="2.86" height="3.86" fill="#00df04"/>
<rect x="801.34" y="416.47" width="2.86" height="3.86" fill="#00c633"/>
<rect x="804.20" y="416.47" width="2.86" height="3.86" fill="#00bd45"/>
<rect x="807.06" y="416.47" width="2.86" height="3.86" fill="#00bf40"/>
<rect x="809.92" y="416.47" width="2.86" height="3.86" fill="#00c730"/>
<rect x="812.77" y="416.47" width="2.86" height="3.86" fill="#00d418"/>
<rect x="815.63" y="416.47" width="2.86" height="3.86" fill="#02e100"/>
<rect x="818.49" y="416.47" width="5.72" height="3.86" fill="#00e100"/>
<rect x="824.21" y="416.47" width="2.86" height="3.86" fill="#13e400"/>
<rect x="827.07" y="416.47" width="2.86" height="3.86" fill="#49ec00"/>
<rect x="829.92" y="416.47" width="2.86" height="3.86" fill="#7ef400"/>
<rect x="832.78" y="416.47" width="2.86" height="3.86" fill="#89f600"/>
<rect x="835.64" y="416.47" width="2.86" height="3.86" fill="#71f200"/>
<rect x="838.50" y="416.47" width="2.86" height="3.86" fill="#34e900"/>
<rect x="841.36" y="416.47" width="8.57" height="3.86" fill="#00e100"/>
<rect x="849.93" y="416.47" width="2.86" height="3.86" fill="#04e200"/>
<rect x="852.79" y="416.47" width="2.86" height="3.86" fill="#0ee300"/>
<rect x="855.64" y="416.47" width="2.86" height="3.86" fill="#0ce300"/>
<rect x="858.50" y="416.47" width="2.86" height="3.86" fill="#07e200"/>
<rect x="861.36" y="416.47" width="2.86" height="3.86" fill="#02e100"/>
<rect x="864.22" y="416.47" width="12.78" height="3.86" fill="#00e100"/>
<rect x="681.31" y="420.33" width="2.86" height="3.86" fill="#00e100"/>
<rect x="684.17" y="420.33" width="2.86" height="3.86" fill="#0ce300"/>
<rect x="687.02" y="420.33" width="2.86" height="3.86" fill="#30e800"/>
<rect x="689.88" y="420.33" width="2.86" height="3.86" fill="#53ee00"/>
<rect x="692.74" y="420.33" width="2.86" height="3.86" fill="#62f000"/>
<rect x="695.60" y="420.33" width="2.86" height="3.86" fill="#4eed00"/>
<rect x="698.46" y="420.33" width="2.86" height="3.86" fill="#28e700"/>
<rect x="701.31" y="420.33" width="2.86" height="3.86" fill="#07e200"/>
<rect x="704.17" y="420.33" width="2.86" height="3.86" fill="#00e100"/>
<rect x="707.03" y="420.33" width="2.86" height="3.86" fill="#10e300"/>
<rect x="709.89" y="420.33" width="2.86" height="3.86" fill="#25e700"/>
<rect x="712.75" y="420.33" width="2.86" height="3.86" fill="#31e900"/>
<rect x="715.60" y="420.33" width="2.86" height="3.86" fill="#2ee800"/>
<rect x="718.46" y="420.33" width="2.86" height="3.86" fill="#23e600"/>
<rect x="721.32" y="420.33" width="2.86" height="3.86" fill="#18e500"/>
<rect x="724.18" y="420.33" width="2.86" height="3.86" fill="#11e400"/>
<rect x="727.03" y="420.33" width="2.86" height="3.86" fill="#09e200"/>
<rect x="729.89" y="420.33" width="2.86" height="3.86" fill="#03e100"/>
<rect x="732.75" y="420.33" width="2.86" height="3.86" fill="#00e100"/>
<rect x="735.61" y="420.33" width="2.86" height="3.86" fill="#09e200"/>
<rect x="738.47" y="420.33" width="2.86" height="3.86" fill="#16e400"/>
<rect x="741.33" y="420.33" width="2.86" height="3.86" fill="#00d615"/>
<rect x="744.18" y="420.33" width="2.86" height="3.86" fill="#00be59"/>
<rect x="747.04" y="420.33" width="2.86" height="3.86" fill="#00c590"/>
<rect x="749.90" y="420.33" width="2.86" height="3.86" fill="#00caab"/>
<rect x="752.76" y="420.33" width="2.86" height="3.86" fill="#00caad"/>
<rect x="755.62" y="420.33" width="2.86" height="3.86" fill="#00c697"/>
<rect x="758.47" y="420.33" width="2.86" height="3.86" fill="#00c064"/>
<rect x="761.33" y="420.33" width="2.86" height="3.86" fill="#00cc28"/>
<rect x="764.19" y="420.33" width="2.86" height="3.86" fill="#4eed00"/>
<rect x="767.05" y="420.33" width="2.86" height="3.86" fill="#a2fa00"/>
<rect x="769.90" y="420.33" width="2.86" height="3.86" fill="#d0f900"/>
<rect x="772.76" y="420.33" width="2.86" height="3.86" fill="#e9f100"/>
<rect x="775.62" y="420.33" width="2.86" height="3.86" fill="#efe400"/>
<rect x="778.48" y="420.33" width="2.86" height="3.86" fill="#f0e100"/>
<rect x="781.34" y="420.33" width="2.86" height="3.86" fill="#ecea00"/>
<rect x="784.20" y="420.33" width="2.86" height="3.86" fill="#dbf600"/>
<rect x="787.05" y="420.33" width="2.86" height="3.86" fill="#d9f700"/>
<rect x="789.91" y="420.33" width="2.86" height="3.86" fill="#d2f900"/>
<rect x="792.77" y="420.33" width="2.86" height="3.86" fill="#c2fe00"/>
<rect x="795.63" y="420.33" width="2.86" height="3.86" fill="#a5fb00"/>
<rect x="798.49" y="420.33" width="2.86" height="3.86" fill="#62f000"/>
<rect x="801.34" y="420.33" width="2.86" height="3.86" fill="#00e001"/>
<rect x="804.20" y="420.33" width="2.86" height="3.86" fill="#00d21d"/>
<rect x="807.06" y="420.33" width="2.86" height="3.86" fill="#00d31a"/>
<rect x="809.92" y="420.33" width="2.86" height="3.86" fill="#00d90f"/>
<rect x="812.77" y="420.33" width="2.86" height="3.86" fill="#00e101"/>
<rect x="815.63" y="420.33" width="2.86" height="3.86" fill="#03e200"/>
<rect x="818.49" y="420.33" width="5.72" height="3.86" fill="#00e100"/>
<rect x="824.21" y="420.33" width="2.86" height="3.86" fill="#0ae300"/>
<rect x="827.07" y="420.33" width="2.86" height="3.86" fill="#27e700"/>
<rect x="829.92" y="420.33" width="2.86" height="3.86" fill="#44eb00"/>
<rect x="832.78" y="420.33" width="2.86" height="3.86" fill="#54ee00"/>
<rect x="835.64" y="420.33" width="2.86" height="3.86" fill="#52ee00"/>
<rect x="838.50" y="420.33" width="2.86" height="3.86" fill="#45ec00"/>
<rect x="841.36" y="420.33" width="2.86" height="3.86" fill="#34e900"/>
<rect x="844.21" y="420.33" width="2.86" height="3.86" fill="#26e700"/>
<rect x="847.07" y="420.33" width="2.86" height="3.86" fill="#13e400"/>
<rect x="849.93" y="420.33" width="2.86" height="3.86" fill="#02e100"/>
<rect x="852.79" y="420.33" width="11.43" height="3.86" fill="#00e100"/>
<rect x="864.22" y="420.33" width="2.86" height="3.86" fill="#03e200"/>
<rect x="867.08" y="420.33" width="2.86" height="3.86" fill="#0be300"/>
<rect x="869.93" y="420.33" width="2.86" height="3.86" fill="#12e400"/>
<rect x="872.79" y="420.33" width="2.86" height="3.86" fill="#17e500"/>
<rect x="875.65" y="420.33" width="1.35" height="3.86" fill="#19e500"/>
<rect x="681.31" y="424.19" width="2.86" height="3.86" fill="#00e100"/>
<rect x="684.17" y="424.19" width="2.86" height="3.86" fill="#05e200"/>
<rect x="687.02" y="424.19" width="2.86" height="3.86" fill="#14e400"/>
<rect x="689.88" y="424.19" width="2.86" height="3.86" fill="#23e600"/>
<rect x="692.74" y="424.19" width="2.86" height="3.86" fill="#29e700"/>
<rect x="695.60" y="424.19" width="2.86" height="3.86" fill="#1ce500"/>
<rect x="698.46" y="424.19" width="2.86" height="3.86" fill="#06e200"/>
<rect x="701.31" y="424.19" width="2.86" height="3.86" fill="#00e100"/>
<rect x="704.17" y="424.19" width="2.86" height="3.86" fill="#13e400"/>
<rect x="707.03" y="424.19" width="2.86" height="3.86" fill="#4fed00"/>
<rect x="709.89" y="424.19" width="2.86" height="3.86" fill="#88f600"/>
<rect x="712.75" y="424.19" width="2.86" height="3.86" fill="#97f900"/>
<rect x="715.60" y="424.19" width="2.86" height="3.86" fill="#92f800"/>
<rect x="718.46" y="424.19" width="2.86" height="3.86" fill="#7ff500"/>
<rect x="721.32" y="424.19" width="2.86" height="3.86" fill="#57ee00"/>
<rect x="724.18" y="424.19" width="2.86" height="3.86" fill="#3bea00"/>
<rect x="727.03" y="424.19" width="2.86" height="3.86" fill="#22e600"/>
<rect x="729.89" y="424.19" width="2.86" height="3.86" fill="#0de300"/>
<rect x="732.75" y="424.19" width="2.86" height="3.86" fill="#00e100"/>
<rect x="735.61" y="424.19" width="2.86" height="3.86" fill="#02e100"/>
<rect x="738.47" y="424.19" width="5.72" height="3.86" fill="#0ee300"/>
<rect x="744.18" y="424.19" width="2.86" height="3.86" fill="#00d021"/>
<rect x="747.04" y="424.19" width="2.86" height="3.86" fill="#00bc46"/>
<rect x="749.90" y="424.19" width="2.86" height="3.86" fill="#00bf60"/>
<rect x="752.76" y="424.19" width="2.86" height="3.86" fill="#00bf62"/>
<rect x="755.62" y="424.19" width="2.86" height="3.86" fill="#00bd4c"/>
<rect x="758.47" y="424.19" width="2.86" height="3.86" fill="#00cc28"/>
<rect x="761.33" y="424.19" width="2.86" height="3.86" fill="#1ce500"/>
<rect x="764.19" y="424.19" width="2.86" height="3.86" fill="#7df400"/>
<rect x="767.05" y="424.19" width="2.86" height="3.86" fill="#affd00"/>
<rect x="769.90" y="424.19" width="2.86" height="3.86" fill="#d4f800"/>
<rect x="772.76" y="424.19" width="2.86" height="3.86" fill="#e9f100"/>
<rect x="775.62" y="424.19" width="2.86" height="3.86" fill="#eee500"/>
<rect x="778.48" y="424.19" width="2.86" height="3.86" fill="#f0e200"/>
<rect x="781.34" y="424.19" width="2.86" height="3.86" fill="#ece900"/>
<rect x="784.20" y="424.19" width="2.86" height="3.86" fill="#e0f500"/>
<rect x="787.05" y="424.19" width="2.86" height="3.86" fill="#dbf600"/>
<rect x="789.91" y="424.19" width="2.86" height="3.86" fill="#d7f700"/>
<rect x="792.77" y="424.19" width="2.86" height="3.86" fill="#cbfb00"/>
<rect x="795.63" y="424.19" width="2.86" height="3.86" fill="#b5fd00"/>
<rect x="798.49" y="424.19" width="2.86" height="3.86" fill="#94f800"/>
<rect x="801.34" y="424.19" width="2.86" height="3.86" fill="#5eef00"/>
<rect x="804.20" y="424.19" width="2.86" height="3.86" fill="#1ee600"/>
<rect x="807.06" y="424.19" width="2.86" height="3.86" fill="#10e400"/>
<rect x="809.92" y="424.19" width="2.86" height="3.86" fill="#06e200"/>
<rect x="812.77" y="424.19" width="5.72" height="3.86" fill="#00e100"/>
<rect x="818.49" y="424.19" width="5.72" height="3.86" fill="#01e100"/>
<rect x="824.21" y="424.19" width="11.43" height="3.86" fill="#00e100"/>
<rect x="835.64" y="424.19" width="2.86" height="3.86" fill="#15e400"/>
<rect x="838.50" y="424.19" width="2.86" height="3.86" fill="#63f000"/>
<rect x="841.36" y="424.19" width="5.72" height="3.86" fill="#8ff700"/>
<rect x="847.07" y="424.19" width="2.86" height="3.86" fill="#68f100"/>
<rect x="849.93" y="424.19" width="2.86" height="3.86" fill="#24e700"/>
<rect x="852.79" y="424.19" width="11.43" height="3.86" fill="#00e100"/>
<rect x="864.22" y="424.19" width="2.86" height="3.86" fill="#0ae300"/>
<rect x="867.08" y="424.19" width="2.86" height="3.86" fill="#25e700"/>
<rect x="869.93" y="424.19" width="2.86" height="3.86" fill="#41eb00"/>
<rect x="872.79" y="424.19" width="2.86" height="3.86" fill="#54ee00"/>
<rect x="875.65" y="424.19" width="1.35" height="3.86" fill="#59ef00"/>
<rect x="681.31" y="428.05" width="22.86" height="3.86" fill="#00e100"/>
<rect x="704.17" y="428.05" width="2.86" height="3.86" fill="#1fe600"/>
<rect x="707.03" y="428.05" width="2.86" height="3.86" fill="#78f300"/>
<rect x="709.89" y="428.05" width="2.86" height="3.86" fill="#a8fb00"/>
<rect x="712.75" y="428.05" width="2.86" height="3.86" fill="#beff00"/>
<rect x="715.60" y="428.05" width="2.86" height="3.86" fill="#b9fe00"/>
<rect x="718.46" y="428.05" width="2.86" height="3.86" fill="#a4fb00"/>
<rect x="721.32" y="428.05" width="2.86" height="3.86" fill="#8bf600"/>
<rect x="724.18" y="428.05" width="2.86" height="3.86" fill="#6bf200"/>
<rect x="727.03" y="428.05" width="2.86" height="3.86" fill="#41eb00"/>
<rect x="729.89" y="428.05" width="2.86" height="3.86" fill="#19e500"/>
<rect x="732.75" y="428.05" width="5.72" height="3.86" fill="#00e100"/>
<rect x="738.47" y="428.05" width="2.86" height="3.86" fill="#03e100"/>
<rect x="741.33" y="428.05" width="2.86" height="3.86" fill="#05e200"/>
<rect x="744.18" y="428.05" width="2.86" height="3.86" fill="#00e100"/>
<rect x="747.04" y="428.05" width="2.86" height="3.86" fill="#00dd08"/>
<rect x="749.90" y="428.05" width="2.86" height="3.86" fill="#00d615"/>
<rect x="752.76" y="428.05" width="2.86" height="3.86" fill="#00d516"/>
<rect x="755.62" y="428.05" width="2.86" height="3.86" fill="#00db0b"/>
<rect x="758.47" y="428.05" width="2.86" height="3.86" fill="#04e200"/>
<rect x="761.33" y="428.05" width="2.86" height="3.86" fill="#5ff000"/>
<rect x="764.19" y="428.05" width="2.86" height="3.86" fill="#97f800"/>
<rect x="767.05" y="428.05" width="2.86" height="3.86" fill="#beff00"/>
<rect x="769.90" y="428.05" width="2.86" height="3.86" fill="#d8f700"/>
<rect x="772.76" y="428.05" width="2.86" height="3.86" fill="#e8f100"/>
<rect x="775.62" y="428.05" width="2.86" height="3.86" fill="#ede800"/>
<rect x="778.48" y="428.05" width="2.86" height="3.86" fill="#eee700"/>
<rect x="781.34" y="428.05" width="2.86" height="3.86" fill="#ebed00"/>
<rect x="784.20" y="428.05" width="2.86" height="3.86" fill="#def500"/>
<rect x="787.05" y="428.05" width="2.86" height="3.86" fill="#dbf600"/>
<rect x="789.91" y="428.05" width="2.86" height="3.86" fill="#d9f700"/>
<rect x="792.77" y="428.05" width="2.86" height="3.86" fill="#cffa00"/>
<rect x="795.63" y="428.05" width="2.86" height="3.86" fill="#c0fe00"/>
<rect x="798.49" y="428.05" width="2.86" height="3.86" fill="#acfc00"/>
<rect x="801.34" y="428.05" width="2.86" height="3.86" fill="#96f800"/>
<rect x="804.20" y="428.05" width="2.86" height="3.86" fill="#74f300"/>
<rect x="807.06" y="428.05" width="2.86" height="3.86" fill="#49ec00"/>
<rect x="809.92" y="428.05" width="2.86" height="3.86" fill="#1ce500"/>
<rect x="812.77" y="428.05" width="5.72" height="3.86" fill="#00e100"/>
<rect x="818.49" y="428.05" width="2.86" height="3.86" fill="#03e100"/>
<rect x="821.35" y="428.05" width="2.86" height="3.86" fill="#05e200"/>
<rect x="824.21" y="428.05" width="2.86" height="3.86" fill="#00e100"/>
<rect x="827.07" y="428.05" width="2.86" height="3.86" fill="#00df03"/>
<rect x="829.92" y="428.05" width="2.86" height="3.86" fill="#00de05"/>
<rect x="832.78" y="428.05" width="2.86" height="3.86" fill="#00e101"/>
<rect x="835.64" y="428.05" width="2.86" height="3.86" fill="#00e100"/>
<rect x="838.50" y="428.05" width="2.86" height="3.86" fill="#7af400"/>
<rect x="841.36" y="428.05" width="2.86" height="3.86" fill="#b5fd00"/>
<rect x="844.21" y="428.05" width="2.86" height="3.86" fill="#bafe00"/>
<rect x="847.07" y="428.05" width="2.86" height="3.86" fill="#96f800"/>
<rect x="849.93" y="428.05" width="2.86" height="3.86" fill="#43eb00"/>
<rect x="852.79" y="428.05" width="11.43" height="3.86" fill="#00e100"/>
<rect x="864.22" y="428.05" width="2.86" height="3.86" fill="#0fe300"/>
<rect x="867.08" y="428.05" width="2.86" height="3.86" fill="#39ea00"/>
<rect x="869.93" y="428.05" width="2.86" height="3.86" fill="#66f100"/>
<rect x="872.79" y="428.05" width="2.86" height="3.86" fill="#83f500"/>
<rect x="875.65" y="428.05" width="1.35" height="3.86" fill="#86f600"/>
<rect x="681.31" y="431.91" width="22.86" height="3.86" fill="#00e100"/>
<rect x="704.17" y="431.91" width="2.86" height="3.86" fill="#1ce500"/>
<rect x="707.03" y="431.91" width="2.86" height="3.86" fill="#6af100"/>
<rect x="709.89" y="431.91" width="2.86" height="3.86" fill="#9dfa00"/>
<rect x="712.75" y="431.91" width="2.86" height="3.86" fill="#b5fd00"/>
<rect x="715.60" y="431.91" width="2.86" height="3.86" fill="#bafe00"/>
<rect x="718.46" y="431.91" width="2.86" height="3.86" fill="#b5fd00"/>
<rect x="721.32" y="431.91" width="2.86" height="3.86" fill="#a8fb00"/>
<rect x="724.18" y="431.91" width="2.86" height="3.86" fill="#96f800"/>
<rect x="727.03" y="431.91" width="2.86" height="3.86" fill="#6ef200"/>
<rect x="729.89" y="431.91" width="2.86" height="3.86" fill="#2ce800"/>
<rect x="732.75" y="431.91" width="25.72" height="3.86" fill="#00e100"/>
<rect x="758.47" y="431.91" width="2.86" height="3.86" fill="#3aea00"/>
<rect x="761.33" y="431.91" width="2.86" height="3.86" fill="#8af600"/>
<rect x="764.19" y="431.91" width="2.86" height="3.86" fill="#acfc00"/>
<rect x="767.05" y="431.91" width="2.86" height="3.86" fill="#c9fc00"/>
<rect x="769.90" y="431.91" width="2.86" height="3.86" fill="#def500"/>
<rect x="772.76" y="431.91" width="2.86" height="3.86" fill="#e9ef00"/>
<rect x="775.62" y="431.91" width="2.86" height="3.86" fill="#ebec00"/>
<rect x="778.48" y="431.91" width="2.86" height="3.86" fill="#e8f100"/>
<rect x="781.34" y="431.91" width="2.86" height="3.86" fill="#dff500"/>
<rect x="784.20" y="431.91" width="5.72" height="3.86" fill="#dbf600"/>
<rect x="789.91" y="431.91" width="2.86" height="3.86" fill="#d8f700"/>
<rect x="792.77" y="431.91" width="2.86" height="3.86" fill="#cdfa00"/>
<rect x="795.63" y="431.91" width="2.86" height="3.86" fill="#beff00"/>
<rect x="798.49" y="431.91" width="2.86" height="3.86" fill="#adfc00"/>
<rect x="801.34" y="431.91" width="2.86" height="3.86" fill="#9efa00"/>
<rect x="804.20" y="431.91" width="2.86" height="3.86" fill="#87f600"/>
<rect x="807.06" y="431.91" width="2.86" height="3.86" fill="#5cef00"/>
<rect x="809.92" y="431.91" width="2.86" height="3.86" fill="#24e600"/>
<rect x="812.77" y="431.91" width="5.72" height="3.86" fill="#00e100"/>
<rect x="818.49" y="431.91" width="2.86" height="3.86" fill="#03e100"/>
<rect x="821.35" y="431.91" width="2.86" height="3.86" fill="#06e200"/>
<rect x="824.21" y="431.91" width="2.86" height="3.86" fill="#00de06"/>
<rect x="827.07" y="431.91" width="2.86" height="3.86" fill="#00d712"/>
<rect x="829.92" y="431.91" width="2.86" height="3.86" fill="#00d616"/>
<rect x="832.78" y="431.91" width="2.86" height="3.86" fill="#00da0e"/>
<rect x="835.64" y="431.91" width="2.86" height="3.86" fill="#00e001"/>
<rect x="838.50" y="431.91" width="2.86" height="3.86" fill="#82f500"/>
<rect x="841.36" y="431.91" width="2.86" height="3.86" fill="#bfff00"/>
<rect x="844.21" y="431.91" width="2.86" height="3.86" fill="#c3fd00"/>
<rect x="847.07" y="431.91" width="2.86" height="3.86" fill="#9efa00"/>
<rect x="849.93" y="431.91" width="2.86" height="3.86" fill="#49ec00"/>
<rect x="852.79" y="431.91" width="11.43" height="3.86" fill="#00e100"/>
<rect x="864.22" y="431.91" width="2.86" height="3.86" fill="#11e400"/>
<rect x="867.08" y="431.91" width="2.86" height="3.86" fill="#40eb00"/>
<rect x="869.93" y="431.91" width="2.86" height="3.86" fill="#72f200"/>
<rect x="872.79" y="431.91" width="2.86" height="3.86" fill="#8af600"/>
<rect x="875.65" y="431.91" width="1.35" height="3.86" fill="#8ef700"/>
<rect x="681.31" y="435.77" width="22.86" height="3.86" fill="#00e100"/>
<rect x="704.17" y="435.77" width="2.86" height="3.86" fill="#12e400"/>
<rect x="707.03" y="435.77" width="2.86" height="3.86" fill="#44eb00"/>
<rect x="709.89" y="435.77" width="2.86" height="3.86" fill="#7cf400"/>
<rect x="712.75" y="435.77" width="2.86" height="3.86" fill="#95f800"/>
<rect x="715.60" y="435.77" width="2.86" height="3.86" fill="#a8fb00"/>
<rect x="718.46" y="435.77" width="2.86" height="3.86" fill="#b9fe00"/>
<rect x="721.32" y="435.77" width="2.86" height="3.86" fill="#bfff00"/>
<rect x="724.18" y="435.77" width="2.86" height="3.86" fill="#b1fd00"/>
<rect x="727.03" y="435.77" width="2.86" height="3.86" fill="#8cf700"/>
<rect x="729.89" y="435.77" width="2.86" height="3.86" fill="#3dea00"/>
<rect x="732.75" y="435.77" width="22.86" height="3.86" fill="#00e100"/>
<rect x="755.62" y="435.77" width="2.86" height="3.86" fill="#19e500"/>
<rect x="758.47" y="435.77" width="2.86" height="3.86" fill="#71f200"/>
<rect x="761.33" y="435.77" width="2.86" height="3.86" fill="#a2fa00"/>
<rect x="764.19" y="435.77" width="2.86" height="3.86" fill="#c0fe00"/>
<rect x="767.05" y="435.77" width="2.86" height="3.86" fill="#d4f800"/>
<rect x="769.90" y="435.77" width="2.86" height="3.86" fill="#e4f300"/>
<rect x="772.76" y="435.77" width="2.86" height="3.86" fill="#eaef00"/>
<rect x="775.62" y="435.77" width="2.86" height="3.86" fill="#e8f200"/>
<rect x="778.48" y="435.77" width="2.86" height="3.86" fill="#ddf500"/>
<rect x="781.34" y="435.77" width="2.86" height="3.86" fill="#d9f700"/>
<rect x="784.20" y="435.77" width="5.72" height="3.86" fill="#daf600"/>
<rect x="789.91" y="435.77" width="2.86" height="3.86" fill="#d5f800"/>
<rect x="792.77" y="435.77" width="2.86" height="3.86" fill="#c7fc00"/>
<rect x="795.63" y="435.77" width="2.86" height="3.86" fill="#b3fd00"/>
<rect x="798.49" y="435.77" width="2.86" height="3.86" fill="#a2fa00"/>
<rect x="801.34" y="435.77" width="2.86" height="3.86" fill="#97f900"/>
<rect x="804.20" y="435.77" width="2.86" height="3.86" fill="#84f500"/>
<rect x="807.06" y="435.77" width="2.86" height="3.86" fill="#59ef00"/>
<rect x="809.92" y="435.77" width="2.86" height="3.86" fill="#23e600"/>
<rect x="812.77" y="435.77" width="5.72" height="3.86" fill="#00e100"/>
<rect x="818.49" y="435.77" width="2.86" height="3.86" fill="#03e100"/>
<rect x="821.35" y="435.77" width="2.86" height="3.86" fill="#04e200"/>
<rect x="824.21" y="435.77" width="2.86" height="3.86" fill="#00d713"/>
<rect x="827.07" y="435.77" width="2.86" height="3.86" fill="#00ce23"/>
<rect x="829.92" y="435.77" width="2.86" height="3.86" fill="#00cc28"/>
<rect x="832.78" y="435.77" width="2.86" height="3.86" fill="#00d11e"/>
<rect x="835.64" y="435.77" width="2.86" height="3.86" fill="#00db0b"/>
<rect x="838.50" y="435.77" width="2.86" height="3.86" fill="#81f500"/>
<rect x="841.36" y="435.77" width="2.86" height="3.86" fill="#bbfe00"/>
<rect x="844.21" y="435.77" width="2.86" height="3.86" fill="#c0fe00"/>
<rect x="847.07" y="435.77" width="2.86" height="3.86" fill="#9af900"/>
<rect x="849.93" y="435.77" width="2.86" height="3.86" fill="#46ec00"/>
<rect x="852.79" y="435.77" width="11.43" height="3.86" fill="#00e100"/>
<rect x="864.22" y="435.77" width="2.86" height="3.86" fill="#11e400"/>
<rect x="867.08" y="435.77" width="2.86" height="3.86" fill="#3eeb00"/>
<rect x="869.93" y="435.77" width="2.86" height="3.86" fill="#6ff200"/>
<rect x="872.79" y="435.77" width="2.86" height="3.86" fill="#88f600"/>
<rect x="875.65" y="435.77" width="1.35" height="3.86" fill="#8cf700"/>
<rect x="681.31" y="439.63" width="22.86" height="3.86" fill="#00e100"/>
<rect x="704.17" y="439.63" width="2.86" height="3.86" fill="#0ae300"/>
<rect x="707.03" y="439.63" width="2.86" height="3.86" fill="#28e700"/>
<rect x="709.89" y="439.63" width="2.86" height="3.86" fill="#4ced00"/>
<rect x="712.75" y="439.63" width="2.86" height="3.86" fill="#70f200"/>
<rect x="715.60" y="439.63" width="2.86" height="3.86" fill="#90f700"/>
<rect x="718.46" y="439.63" width="2.86" height="3.86" fill="#a8fb00"/>
<rect x="721.32" y="439.63" width="2.86" height="3.86" fill="#b5fe00"/>
<rect x="724.18" y="439.63" width="2.86" height="3.86" fill="#abfc00"/>
<rect x="727.03" y="439.63" width="2.86" height="3.86" fill="#88f600"/>
<rect x="729.89" y="439.63" width="2.86" height="3.86" fill="#37e900"/>
<rect x="732.75" y="439.63" width="5.72" height="3.86" fill="#00e100"/>
<rect x="738.47" y="439.63" width="2.86" height="3.86" fill="#05e200"/>
<rect x="741.33" y="439.63" width="2.86" height="3.86" fill="#18e500"/>
<rect x="744.18" y="439.63" width="2.86" height="3.86" fill="#1de500"/>
<rect x="747.04" y="439.63" width="2.86" height="3.86" fill="#14e400"/>
<rect x="749.90" y="439.63" width="2.86" height="3.86" fill="#11e400"/>
<rect x="752.76" y="439.63" width="2.86" height="3.86" fill="#29e700"/>
<rect x="755.62" y="439.63" width="2.86" height="3.86" fill="#66f100"/>
<rect x="758.47" y="439.63" width="2.86" height="3.86" fill="#9af900"/>
<rect x="761.33" y="439.63" width="2.86" height="3.86" fill="#bdff00"/>
<rect x="764.19" y="439.63" width="2.86" height="3.86" fill="#cefa00"/>
<rect x="767.05" y="439.63" width="2.86" height="3.86" fill="#daf600"/>
<rect x="769.90" y="439.63" width="2.86" height="3.86" fill="#e2f400"/>
<rect x="772.76" y="439.63" width="2.86" height="3.86" fill="#e4f300"/>
<rect x="775.62" y="439.63" width="2.86" height="3.86" fill="#def500"/>
<rect x="778.48" y="439.63" width="2.86" height="3.86" fill="#d8f700"/>
<rect x="781.34" y="439.63" width="5.72" height="3.86" fill="#d7f700"/>
<rect x="787.05" y="439.63" width="2.86" height="3.86" fill="#d6f700"/>
<rect x="789.91" y="439.63" width="2.86" height="3.86" fill="#d0fa00"/>
<rect x="792.77" y="439.63" width="2.86" height="3.86" fill="#c1fe00"/>
<rect x="795.63" y="439.63" width="2.86" height="3.86" fill="#a7fb00"/>
<rect x="798.49" y="439.63" width="2.86" height="3.86" fill="#94f800"/>
<rect x="801.34" y="439.63" width="2.86" height="3.86" fill="#89f600"/>
<rect x="804.20" y="439.63" width="2.86" height="3.86" fill="#6df200"/>
<rect x="807.06" y="439.63" width="2.86" height="3.86" fill="#4aec00"/>
<rect x="809.92" y="439.63" width="2.86" height="3.86" fill="#1de500"/>
<rect x="812.77" y="439.63" width="5.72" height="3.86" fill="#00e100"/>
<rect x="818.49" y="439.63" width="2.86" height="3.86" fill="#04e200"/>
<rect x="821.35" y="439.63" width="2.86" height="3.86" fill="#00df04"/>
<rect x="824.21" y="439.63" width="2.86" height="3.86" fill="#00d01f"/>
<rect x="827.07" y="439.63" width="2.86" height="3.86" fill="#00c732"/>
<rect x="829.92" y="439.63" width="2.86" height="3.86" fill="#00c437"/>
<rect x="832.78" y="439.63" width="2.86" height="3.86" fill="#00ca2c"/>
<rect x="835.64" y="439.63" width="2.86" height="3.86" fill="#00d516"/>
<rect x="838.50" y="439.63" width="2.86" height="3.86" fill="#70f200"/>
<rect x="841.36" y="439.63" width="2.86" height="3.86" fill="#affc00"/>
<rect x="844.21" y="439.63" width="2.86" height="3.86" fill="#b5fd00"/>
<rect x="847.07" y="439.63" width="2.86" height="3.86" fill="#92f800"/>
<rect x="849.93" y="439.63" width="2.86" height="3.86" fill="#40eb00"/>
<rect x="852.79" y="439.63" width="11.43" height="3.86" fill="#00e100"/>
<rect x="864.22" y="439.63" width="2.86" height="3.86" fill="#0ce300"/>
<rect x="867.08" y="439.63" width="2.86" height="3.86" fill="#32e900"/>
<rect x="869.93" y="439.63" width="2.86" height="3.86" fill="#5aef00"/>
<rect x="872.79" y="439.63" width="2.86" height="3.86" fill="#75f300"/>
<rect x="875.65" y="439.63" width="1.35" height="3.86" fill="#7cf400"/>
<rect x="681.31" y="443.49" width="25.72" height="3.86" fill="#00e100"/>
<rect x="707.03" y="443.49" width="2.86" height="3.86" fill="#11e400"/>
<rect x="709.89" y="443.49" width="2.86" height="3.86" fill="#27e700"/>
<rect x="712.75" y="443.49" width="2.86" height="3.86" fill="#35e900"/>
<rect x="715.60" y="443.49" width="2.86" height="3.86" fill="#4bed00"/>
<rect x="718.46" y="443.49" width="2.86" height="3.86" fill="#73f300"/>
<rect x="721.32" y="443.49" width="2.86" height="3.86" fill="#83f500"/>
<rect x="724.18" y="443.49" width="2.86" height="3.86" fill="#78f300"/>
<rect x="727.03" y="443.49" width="2.86" height="3.86" fill="#48ec00"/>
<rect x="729.89" y="443.49" width="2.86" height="3.86" fill="#15e400"/>
<rect x="732.75" y="443.49" width="2.86" height="3.86" fill="#00e100"/>
<rect x="735.61" y="443.49" width="2.86" height="3.86" fill="#1ce500"/>
<rect x="738.47" y="443.49" width="2.86" height="3.86" fill="#51ed00"/>
<rect x="741.33" y="443.49" width="2.86" height="3.86" fill="#83f500"/>
<rect x="744.18" y="443.49" width="2.86" height="3.86" fill="#90f700"/>
<rect x="747.04" y="443.49" width="2.86" height="3.86" fill="#94f800"/>
<rect x="749.90" y="443.49" width="2.86" height="3.86" fill="#96f800"/>
<rect x="752.76" y="443.49" width="2.86" height="3.86" fill="#9efa00"/>
<rect x="755.62" y="443.49" width="2.86" height="3.86" fill="#aefc00"/>
<rect x="758.47" y="443.49" width="2.86" height="3.86" fill="#c2fe00"/>
<rect x="761.33" y="443.49" width="2.86" height="3.86" fill="#d5f800"/>
<rect x="764.19" y="443.49" width="2.86" height="3.86" fill="#def500"/>
<rect x="767.05" y="443.49" width="2.86" height="3.86" fill="#ddf500"/>
<rect x="769.90" y="443.49" width="2.86" height="3.86" fill="#d9f700"/>
<rect x="772.76" y="443.49" width="2.86" height="3.86" fill="#d5f800"/>
<rect x="775.62" y="443.49" width="2.86" height="3.86" fill="#d4f800"/>
<rect x="778.48" y="443.49" width="8.57" height="3.86" fill="#d5f800"/>
<rect x="787.05" y="443.49" width="2.86" height="3.86" fill="#d2f900"/>
<rect x="789.91" y="443.49" width="2.86" height="3.86" fill="#c9fc00"/>
<rect x="792.77" y="443.49" width="2.86" height="3.86" fill="#b8fe00"/>
<rect x="795.63" y="443.49" width="2.86" height="3.86" fill="#9cf900"/>
<rect x="798.49" y="443.49" width="2.86" height="3.86" fill="#80f500"/>
<rect x="801.34" y="443.49" width="2.86" height="3.86" fill="#58ee00"/>
<rect x="804.20" y="443.49" width="2.86" height="3.86" fill="#38ea00"/>
<rect x="807.06" y="443.49" width="2.86" height="3.86" fill="#26e700"/>
<rect x="809.92" y="443.49" width="2.86" height="3.86" fill="#0fe300"/>
<rect x="812.77" y="443.49" width="5.72" height="3.86" fill="#00e100"/>
<rect x="818.49" y="443.49" width="2.86" height="3.86" fill="#07e200"/>
<rect x="821.35" y="443.49" width="2.86" height="3.86" fill="#00dc0a"/>
<rect x="824.21" y="443.49" width="2.86" height="3.86" fill="#00cc28"/>
<rect x="827.07" y="443.49" width="2.86" height="3.86" fill="#00c13c"/>
<rect x="829.92" y="443.49" width="2.86" height="3.86" fill="#00bf41"/>
<rect x="832.78" y="443.49" width="2.86" height="3.86" fill="#00c436"/>
<rect x="835.64" y="443.49" width="2.86" height="3.86" fill="#00d11e"/>
<rect x="838.50" y="443.49" width="2.86" height="3.86" fill="#42eb00"/>
<rect x="841.36" y="443.49" width="2.86" height="3.86" fill="#98f900"/>
<rect x="844.21" y="443.49" width="2.86" height="3.86" fill="#9ffa00"/>
<rect x="847.07" y="443.49" width="2.86" height="3.86" fill="#84f500"/>
<rect x="849.93" y="443.49" width="2.86" height="3.86" fill="#34e900"/>
<rect x="852.79" y="443.49" width="14.29" height="3.86" fill="#00e100"/>
<rect x="867.08" y="443.49" width="2.86" height="3.86" fill="#14e400"/>
<rect x="869.93" y="443.49" width="2.86" height="3.86" fill="#2be800"/>
<rect x="872.79" y="443.49" width="2.86" height="3.86" fill="#3bea00"/>
<rect x="875.65" y="443.49" width="1.35" height="3.86" fill="#3feb00"/>
<rect x="681.31" y="447.35" width="25.72" height="3.86" fill="#00e100"/>
<rect x="707.03" y="447.35" width="2.86" height="3.86" fill="#02e100"/>
<rect x="709.89" y="447.35" width="2.86" height="3.86" fill="#00db0b"/>
<rect x="712.75" y="447.35" width="2.86" height="3.86" fill="#00d419"/>
<rect x="715.60" y="447.35" width="2.86" height="3.86" fill="#00d31b"/>
<rect x="718.46" y="447.35" width="2.86" height="3.86" fill="#00d910"/>
<rect x="721.32" y="447.35" width="2.86" height="3.86" fill="#06e200"/>
<rect x="724.18" y="447.35" width="2.86" height="3.86" fill="#0be300"/>
<rect x="727.03" y="447.35" width="5.72" height="3.86" fill="#00e100"/>
<rect x="732.75" y="447.35" width="2.86" height="3.86" fill="#02e100"/>
<rect x="735.61" y="447.35" width="2.86" height="3.86" fill="#40eb00"/>
<rect x="738.47" y="447.35" width="2.86" height="3.86" fill="#8ff700"/>
<rect x="741.33" y="447.35" width="2.86" height="3.86" fill="#b2fd00"/>
<rect x="744.18" y="447.35" width="5.72" height="3.86" fill="#beff00"/>
<rect x="749.90" y="447.35" width="2.86" height="3.86" fill="#bcff00"/>
<rect x="752.76" y="447.35" width="2.86" height="3.86" fill="#bdff00"/>
<rect x="755.62" y="447.35" width="2.86" height="3.86" fill="#c8fc00"/>
<rect x="758.47" y="447.35" width="2.86" height="3.86" fill="#d9f700"/>
<rect x="761.33" y="447.35" width="5.72" height="3.86" fill="#e6f300"/>
<rect x="767.05" y="447.35" width="2.86" height="3.86" fill="#daf600"/>
<rect x="769.90" y="447.35" width="2.86" height="3.86" fill="#cbfb00"/>
<rect x="772.76" y="447.35" width="2.86" height="3.86" fill="#c4fd00"/>
<rect x="775.62" y="447.35" width="2.86" height="3.86" fill="#c9fb00"/>
<rect x="778.48" y="447.35" width="2.86" height="3.86" fill="#d0f900"/>
<rect x="781.34" y="447.35" width="2.86" height="3.86" fill="#d3f800"/>
<rect x="784.20" y="447.35" width="2.86" height="3.86" fill="#d2f900"/>
<rect x="787.05" y="447.35" width="2.86" height="3.86" fill="#cdfa00"/>
<rect x="789.91" y="447.35" width="2.86" height="3.86" fill="#c2fe00"/>
<rect x="792.77" y="447.35" width="2.86" height="3.86" fill="#acfc00"/>
<rect x="795.63" y="447.35" width="2.86" height="3.86" fill="#91f800"/>
<rect x="798.49" y="447.35" width="2.86" height="3.86" fill="#5eef00"/>
<rect x="801.34" y="447.35" width="2.86" height="3.86" fill="#1ee600"/>
<rect x="804.20" y="447.35" width="2.86" height="3.86" fill="#06e200"/>
<rect x="807.06" y="447.35" width="2.86" height="3.86" fill="#04e200"/>
<rect x="809.92" y="447.35" width="2.86" height="3.86" fill="#01e100"/>
<rect x="812.77" y="447.35" width="2.86" height="3.86" fill="#00e100"/>
<rect x="815.63" y="447.35" width="2.86" height="3.86" fill="#04e200"/>
<rect x="818.49" y="447.35" width="2.86" height="3.86" fill="#09e200"/>
<rect x="821.35" y="447.35" width="2.86" height="3.86" fill="#00db0c"/>
<rect x="824.21" y="447.35" width="2.86" height="3.86" fill="#00ca2c"/>
<rect x="827.07" y="447.35" width="2.86" height="3.86" fill="#00bf40"/>
<rect x="829.92" y="447.35" width="2.86" height="3.86" fill="#00bc46"/>
<rect x="832.78" y="447.35" width="2.86" height="3.86" fill="#00c23a"/>
<rect x="835.64" y="447.35" width="2.86" height="3.86" fill="#00d021"/>
<rect x="838.50" y="447.35" width="2.86" height="3.86" fill="#1ae500"/>
<rect x="841.36" y="447.35" width="2.86" height="3.86" fill="#7bf400"/>
<rect x="844.21" y="447.35" width="2.86" height="3.86" fill="#86f600"/>
<rect x="847.07" y="447.35" width="2.86" height="3.86" fill="#61f000"/>
<rect x="849.93" y="447.35" width="2.86" height="3.86" fill="#26e700"/>
<rect x="852.79" y="447.35" width="17.15" height="3.86" fill="#00e100"/>
<rect x="869.93" y="447.35" width="2.86" height="3.86" fill="#03e200"/>
<rect x="872.79" y="447.35" width="4.21" height="3.86" fill="#06e200"/>
<rect x="681.31" y="451.21" width="8.57" height="3.86" fill="#43eb00"/>
<rect x="689.88" y="451.21" width="2.86" height="3.86" fill="#42eb00"/>
<rect x="692.74" y="451.21" width="2.86" height="3.86" fill="#3eeb00"/>
<rect x="695.60" y="451.21" width="2.86" height="3.86" fill="#38ea00"/>
<rect x="698.46" y="451.21" width="2.86" height="3.86" fill="#31e800"/>
<rect x="701.31" y="451.21" width="2.86" height="3.86" fill="#26e700"/>
<rect x="704.17" y="451.21" width="2.86" height="3.86" fill="#15e400"/>
<rect x="707.03" y="451.21" width="2.86" height="3.86" fill="#00db0c"/>
<rect x="709.89" y="451.21" width="2.86" height="3.86" fill="#00cc28"/>
<rect x="712.75" y="451.21" width="2.86" height="3.86" fill="#00c23b"/>
<rect x="715.60" y="451.21" width="2.86" height="3.86" fill="#00bf3f"/>
<rect x="718.46" y="451.21" width="2.86" height="3.86" fill="#00c633"/>
<rect x="721.32" y="451.21" width="2.86" height="3.86" fill="#00d31a"/>
<rect x="724.18" y="451.21" width="2.86" height="3.86" fill="#00e101"/>
<rect x="727.03" y="451.21" width="8.57" height="3.86" fill="#00e100"/>
<rect x="735.61" y="451.21" width="2.86" height="3.86" fill="#4fed00"/>
<rect x="738.47" y="451.21" width="2.86" height="3.86" fill="#9dfa00"/>
<rect x="741.33" y="451.21" width="2.86" height="3.86" fill="#beff00"/>
<rect x="744.18" y="451.21" width="2.86" height="3.86" fill="#cbfb00"/>
<rect x="747.04" y="451.21" width="2.86" height="3.86" fill="#cafb00"/>
<rect x="749.90" y="451.21" width="5.72" height="3.86" fill="#c6fd00"/>
<rect x="755.62" y="451.21" width="2.86" height="3.86" fill="#cffa00"/>
<rect x="758.47" y="451.21" width="2.86" height="3.86" fill="#dbf600"/>
<rect x="761.33" y="451.21" width="2.86" height="3.86" fill="#e2f400"/>
<rect x="764.19" y="451.21" width="2.86" height="3.86" fill="#def500"/>
<rect x="767.05" y="451.21" width="2.86" height="3.86" fill="#cdfa00"/>
<rect x="769.90" y="451.21" width="2.86" height="3.86" fill="#bbff00"/>
<rect x="772.76" y="451.21" width="2.86" height="3.86" fill="#b3fd00"/>
<rect x="775.62" y="451.21" width="2.86" height="3.86" fill="#bcff00"/>
<rect x="778.48" y="451.21" width="2.86" height="3.86" fill="#c9fc00"/>
<rect x="781.34" y="451.21" width="2.86" height="3.86" fill="#d0f900"/>
<rect x="784.20" y="451.21" width="2.86" height="3.86" fill="#cffa00"/>
<rect x="787.05" y="451.21" width="2.86" height="3.86" fill="#c9fc00"/>
<rect x="789.91" y="451.21" width="2.86" height="3.86" fill="#bdff00"/>
<rect x="792.77" y="451.21" width="2.86" height="3.86" fill="#a4fb00"/>
<rect x="795.63" y="451.21" width="2.86" height="3.86" fill="#86f600"/>
<rect x="798.49" y="451.21" width="2.86" height="3.86" fill="#46ec00"/>
<rect x="801.34" y="451.21" width="2.86" height="3.86" fill="#0ce300"/>
<rect x="804.20" y="451.21" width="11.43" height="3.86" fill="#00e100"/>
<rect x="815.63" y="451.21" width="2.86" height="3.86" fill="#04e200"/>
<rect x="818.49" y="451.21" width="2.86" height="3.86" fill="#07e200"/>
<rect x="821.35" y="451.21" width="2.86" height="3.86" fill="#00db0c"/>
<rect x="824.21" y="451.21" width="2.86" height="3.86" fill="#00cb2a"/>
<rect x="827.07" y="451.21" width="2.86" height="3.86" fill="#00c03e"/>
<rect x="829.92" y="451.21" width="2.86" height="3.86" fill="#00bd44"/>
<rect x="832.78" y="451.21" width="2.86" height="3.86" fill="#00c338"/>
<rect x="835.64" y="451.21" width="2.86" height="3.86" fill="#00d01f"/>
<rect x="838.50" y="451.21" width="2.86" height="3.86" fill="#09e200"/>
<rect x="841.36" y="451.21" width="2.86" height="3.86" fill="#4aec00"/>
<rect x="844.21" y="451.21" width="2.86" height="3.86" fill="#55ee00"/>
<rect x="847.07" y="451.21" width="2.86" height="3.86" fill="#3aea00"/>
<rect x="849.93" y="451.21" width="2.86" height="3.86" fill="#15e400"/>
<rect x="852.79" y="451.21" width="2.86" height="3.86" fill="#00e100"/>
<rect x="855.64" y="451.21" width="2.86" height="3.86" fill="#05e200"/>
<rect x="858.50" y="451.21" width="2.86" height="3.86" fill="#15e400"/>
<rect x="861.36" y="451.21" width="2.86" height="3.86" fill="#22e600"/>
<rect x="864.22" y="451.21" width="2.86" height="3.86" fill="#20e600"/>
<rect x="867.08" y="451.21" width="2.86" height="3.86" fill="#12e400"/>
<rect x="869.93" y="451.21" width="2.86" height="3.86" fill="#01e100"/>
<rect x="872.79" y="451.21" width="4.21" height="3.86" fill="#00e100"/>
<rect x="681.31" y="455.07" width="8.57" height="3.86" fill="#9bf900"/>
<rect x="689.88" y="455.07" width="2.86" height="3.86" fill="#9af900"/>
<rect x="692.74" y="455.07" width="2.86" height="3.86" fill="#96f800"/>
<rect x="695.60" y="455.07" width="2.86" height="3.86" fill="#8ef700"/>
<rect x="698.46" y="455.07" width="2.86" height="3.86" fill="#84f500"/>
<rect x="701.31" y="455.07" width="2.86" height="3.86" fill="#67f100"/>
<rect x="704.17" y="455.07" width="2.86" height="3.86" fill="#3cea00"/>
<rect x="707.03" y="455.07" width="2.86" height="3.86" fill="#00d11e"/>
<rect x="709.89" y="455.07" width="2.86" height="3.86" fill="#00bf40"/>
<rect x="712.75" y="455.07" width="2.86" height="3.86" fill="#00be59"/>
<rect x="715.60" y="455.07" width="2.86" height="3.86" fill="#00bf5e"/>
<rect x="718.46" y="455.07" width="2.86" height="3.86" fill="#00bd4e"/>
<rect x="721.32" y="455.07" width="2.86" height="3.86" fill="#00c830"/>
<rect x="724.18" y="455.07" width="2.86" height="3.86" fill="#00db0c"/>
<rect x="727.03" y="455.07" width="8.57" height="3.86" fill="#00e100"/>
<rect x="735.61" y="455.07" width="2.86" height="3.86" fill="#4ced00"/>
<rect x="738.47" y="455.07" width="2.86" height="3.86" fill="#9cf900"/>
<rect x="741.33" y="455.07" width="2.86" height="3.86" fill="#bcff00"/>
<rect x="744.18" y="455.07" width="2.86" height="3.86" fill="#c9fc00"/>
<rect x="747.04" y="455.07" width="2.86" height="3.86" fill="#c9fb00"/>
<rect x="749.90" y="455.07" width="2.86" height="3.86" fill="#c5fd00"/>
<rect x="752.76" y="455.07" width="2.86" height="3.86" fill="#c4fd00"/>
<rect x="755.62" y="455.07" width="2.86" height="3.86" fill="#c9fc00"/>
<rect x="758.47" y="455.07" width="2.86" height="3.86" fill="#cffa00"/>
<rect x="761.33" y="455.07" width="2.86" height="3.86" fill="#d2f900"/>
<rect x="764.19" y="455.07" width="2.86" height="3.86" fill="#cbfb00"/>
<rect x="767.05" y="455.07" width="2.86" height="3.86" fill="#bcff00"/>
<rect x="769.90" y="455.07" width="2.86" height="3.86" fill="#adfc00"/>
<rect x="772.76" y="455.07" width="2.86" height="3.86" fill="#9ffa00"/>
<rect x="775.62" y="455.07" width="2.86" height="3.86" fill="#aafc00"/>
<rect x="778.48" y="455.07" width="2.86" height="3.86" fill="#c1fe00"/>
<rect x="781.34" y="455.07" width="2.86" height="3.86" fill="#ccfb00"/>
<rect x="784.20" y="455.07" width="2.86" height="3.86" fill="#cdfb00"/>
<rect x="787.05" y="455.07" width="2.86" height="3.86" fill="#c7fc00"/>
<rect x="789.91" y="455.07" width="2.86" height="3.86" fill="#bbfe00"/>
<rect x="792.77" y="455.07" width="2.86" height="3.86" fill="#a5fb00"/>
<rect x="795.63" y="455.07" width="2.86" height="3.86" fill="#88f600"/>
<rect x="798.49" y="455.07" width="2.86" height="3.86" fill="#44eb00"/>
<rect x="801.34" y="455.07" width="2.86" height="3.86" fill="#04e200"/>
<rect x="804.20" y="455.07" width="11.43" height="3.86" fill="#00e100"/>
<rect x="815.63" y="455.07" width="2.86" height="3.86" fill="#01e100"/>
<rect x="818.49" y="455.07" width="2.86" height="3.86" fill="#03e100"/>
<rect x="821.35" y="455.07" width="2.86" height="3.86" fill="#00dd08"/>
<rect x="824.21" y="455.07" width="2.86" height="3.86" fill="#00ce23"/>
<rect x="827.07" y="455.07" width="2.86" height="3.86" fill="#00c436"/>
<rect x="829.92" y="455.07" width="2.86" height="3.86" fill="#00c23b"/>
<rect x="832.78" y="455.07" width="2.86" height="3.86" fill="#00c730"/>
<rect x="835.64" y="455.07" width="2.86" height="3.86" fill="#00d419"/>
<rect x="838.50" y="455.07" width="2.86" height="3.86" fill="#03e200"/>
<rect x="841.36" y="455.07" width="2.86" height="3.86" fill="#19e500"/>
<rect x="844.21" y="455.07" width="2.86" height="3.86" fill="#1ce500"/>
<rect x="847.07" y="455.07" width="2.86" height="3.86" fill="#0fe300"/>
<rect x="849.93" y="455.07" width="5.72" height="3.86" fill="#01e100"/>
<rect x="855.64" y="455.07" width="2.86" height="3.86" fill="#1be500"/>
<rect x="858.50" y="455.07" width="2.86" height="3.86" fill="#41eb00"/>
<rect x="861.36" y="455.07" width="2.86" height="3.86" fill="#5def00"/>
<rect x="864.22" y="455.07" width="2.86" height="3.86" fill="#5aef00"/>
<rect x="867.08" y="455.07" width="2.86" height="3.86" fill="#3bea00"/>
<rect x="869.93" y="455.07" width="2.86" height="3.86" fill="#14e400"/>
<rect x="872.79" y="455.07" width="4.21" height="3.86" fill="#00e100"/>
<rect x="681.31" y="458.93" width="2.86" height="3.86" fill="#c3fd00"/>
<rect x="684.17" y="458.93" width="2.86" height="3.86" fill="#c4fd00"/>
<rect x="687.02" y="458.93" width="2.86" height="3.86" fill="#c8fc00"/>
<rect x="689.88" y="458.93" width="2.86" height="3.86" fill="#d4f800"/>
<rect x="692.74" y="458.93" width="2.86" height="3.86" fill="#daf600"/>
<rect x="695.60" y="458.93" width="2.86" height="3.86" fill="#d8f700"/>
<rect x="698.46" y="458.93" width="2.86" height="3.86" fill="#cafb00"/>
<rect x="701.31" y="458.93" width="2.86" height="3.86" fill="#aafc00"/>
<rect x="704.17" y="458.93" width="2.86" height="3.86" fill="#5bef00"/>
<rect x="707.03" y="458.93" width="2.86" height="3.86" fill="#00cc28"/>
<rect x="709.89" y="458.93" width="2.86" height="3.86" fill="#00be55"/>
<rect x="712.75" y="458.93" width="2.86" height="3.86" fill="#00c170"/>
<rect x="715.60" y="458.93" width="2.86" height="3.86" fill="#00c276"/>
<rect x="718.46" y="458.93" width="2.86" height="3.86" fill="#00c065"/>
<rect x="721.32" y="458.93" width="2.86" height="3.86" fill="#00bf41"/>
<rect x="724.18" y="458.93" width="2.86" height="3.86" fill="#00d518"/>
<rect x="727.03" y="458.93" width="5.72" height="3.86" fill="#00e100"/>
<rect x="732.75" y="458.93" width="2.86" height="3.86" fill="#0ae300"/>
<rect x="735.61" y="458.93" width="2.86" height="3.86" fill="#52ee00"/>
<rect x="738.47" y="458.93" width="2.86" height="3.86" fill="#94f800"/>
<rect x="741.33" y="458.93" width="2.86" height="3.86" fill="#b4fd00"/>
<rect x="744.18" y="458.93" width="2.86" height="3.86" fill="#c0fe00"/>
<rect x="747.04" y="458.93" width="2.86" height="3.86" fill="#c1fe00"/>
<rect x="749.90" y="458.93" width="2.86" height="3.86" fill="#beff00"/>
<rect x="752.76" y="458.93" width="8.57" height="3.86" fill="#bdff00"/>
<rect x="761.33" y="458.93" width="2.86" height="3.86" fill="#bcff00"/>
<rect x="764.19" y="458.93" width="2.86" height="3.86" fill="#b8fe00"/>
<rect x="767.05" y="458.93" width="2.86" height="3.86" fill="#abfc00"/>
<rect x="769.90" y="458.93" width="2.86" height="3.86" fill="#98f900"/>
<rect x="772.76" y="458.93" width="2.86" height="3.86" fill="#89f600"/>
<rect x="775.62" y="458.93" width="2.86" height="3.86" fill="#98f900"/>
<rect x="778.48" y="458.93" width="2.86" height="3.86" fill="#b7fe00"/>
<rect x="781.34" y="458.93" width="2.86" height="3.86" fill="#c7fc00"/>
<rect x="784.20" y="458.93" width="2.86" height="3.86" fill="#cafb00"/>
<rect x="787.05" y="458.93" width="2.86" height="3.86" fill="#c5fd00"/>
<rect x="789.91" y="458.93" width="2.86" height="3.86" fill="#b8fe00"/>
<rect x="792.77" y="458.93" width="2.86" height="3.86" fill="#a4fb00"/>
<rect x="795.63" y="458.93" width="2.86" height="3.86" fill="#87f600"/>
<rect x="798.49" y="458.93" width="2.86" height="3.86" fill="#3feb00"/>
<rect x="801.34" y="458.93" width="2.86" height="3.86" fill="#0ae300"/>
<rect x="804.20" y="458.93" width="17.15" height="3.86" fill="#00e100"/>
<rect x="821.35" y="458.93" width="2.86" height="3.86" fill="#00e003"/>
<rect x="824.21" y="458.93" width="2.86" height="3.86" fill="#00d418"/>
<rect x="827.07" y="458.93" width="2.86" height="3.86" fill="#00cb29"/>
<rect x="829.92" y="458.93" width="2.86" height="3.86" fill="#00c92d"/>
<rect x="832.78" y="458.93" width="2.86" height="3.86" fill="#00cf23"/>
<rect x="835.64" y="458.93" width="2.86" height="3.86" fill="#00d90e"/>
<rect x="838.50" y="458.93" width="14.29" height="3.86" fill="#00e100"/>
<rect x="852.79" y="458.93" width="2.86" height="3.86" fill="#02e100"/>
<rect x="855.64" y="458.93" width="2.86" height="3.86" fill="#29e700"/>
<rect x="858.50" y="458.93" width="2.86" height="3.86" fill="#5def00"/>
<rect x="861.36" y="458.93" width="2.86" height="3.86" fill="#82f500"/>
<rect x="864.22" y="458.93" width="2.86" height="3.86" fill="#7ff500"/>
<rect x="867.08" y="458.93" width="2.86" height="3.86" fill="#55ee00"/>
<rect x="869.93" y="458.93" width="2.86" height="3.86" fill="#21e600"/>
<rect x="872.79" y="458.93" width="4.21" height="3.86" fill="#00e100"/>
<rect x="681.31" y="462.79" width="2.86" height="3.86" fill="#d9f700"/>
<rect x="684.17" y="462.79" width="2.86" height="3.86" fill="#dff500"/>
<rect x="687.02" y="462.79" width="2.86" height="3.86" fill="#eee500"/>
<rect x="689.88" y="462.79" width="2.86" height="3.86" fill="#f7d200"/>
<rect x="692.74" y="462.79" width="2.86" height="3.86" fill="#fbca00"/>
<rect x="695.60" y="462.79" width="2.86" height="3.86" fill="#fbcc00"/>
<rect x="698.46" y="462.79" width="2.86" height="3.86" fill="#f5d700"/>
<rect x="701.31" y="462.79" width="2.86" height="3.86" fill="#e7f200"/>
<rect x="704.17" y="462.79" width="2.86" height="3.86" fill="#affd00"/>
<rect x="707.03" y="462.79" width="2.86" height="3.86" fill="#00d11d"/>
<rect x="709.89" y="462.79" width="2.86" height="3.86" fill="#00bf60"/>
<rect x="712.75" y="462.79" width="2.86" height="3.86" fill="#00c37d"/>
<rect x="715.60" y="462.79" width="2.86" height="3.86" fill="#00c483"/>
<rect x="718.46" y="462.79" width="2.86" height="3.86" fill="#00c171"/>
<rect x="721.32" y="462.79" width="2.86" height="3.86" fill="#00bd4b"/>
<rect x="724.18" y="462.79" width="2.86" height="3.86" fill="#00d11f"/>
<rect x="727.03" y="462.79" width="5.72" height="3.86" fill="#00e100"/>
<rect x="732.75" y="462.79" width="2.86" height="3.86" fill="#38ea00"/>
<rect x="735.61" y="462.79" width="2.86" height="3.86" fill="#6af100"/>
<rect x="738.47" y="462.79" width="2.86" height="3.86" fill="#8cf700"/>
<rect x="741.33" y="462.79" width="2.86" height="3.86" fill="#9dfa00"/>
<rect x="744.18" y="462.79" width="2.86" height="3.86" fill="#a9fb00"/>
<rect x="747.04" y="462.79" width="2.86" height="3.86" fill="#aefc00"/>
<rect x="749.90" y="462.79" width="2.86" height="3.86" fill="#affc00"/>
<rect x="752.76" y="462.79" width="2.86" height="3.86" fill="#aefc00"/>
<rect x="755.62" y="462.79" width="2.86" height="3.86" fill="#a9fc00"/>
<rect x="758.47" y="462.79" width="2.86" height="3.86" fill="#a1fa00"/>
<rect x="761.33" y="462.79" width="2.86" height="3.86" fill="#98f900"/>
<rect x="764.19" y="462.79" width="2.86" height="3.86" fill="#8ff700"/>
<rect x="767.05" y="462.79" width="2.86" height="3.86" fill="#85f500"/>
<rect x="769.90" y="462.79" width="2.86" height="3.86" fill="#78f300"/>
<rect x="772.76" y="462.79" width="2.86" height="3.86" fill="#7bf400"/>
<rect x="775.62" y="462.79" width="2.86" height="3.86" fill="#94f800"/>
<rect x="778.48" y="462.79" width="2.86" height="3.86" fill="#b4fd00"/>
<rect x="781.34" y="462.79" width="2.86" height="3.86" fill="#c5fd00"/>
<rect x="784.20" y="462.79" width="2.86" height="3.86" fill="#c8fc00"/>
<rect x="787.05" y="462.79" width="2.86" height="3.86" fill="#c1fe00"/>
<rect x="789.91" y="462.79" width="2.86" height="3.86" fill="#b0fd00"/>
<rect x="792.77" y="462.79" width="2.86" height="3.86" fill="#99f900"/>
<rect x="795.63" y="462.79" width="2.86" height="3.86" fill="#75f300"/>
<rect x="798.49" y="462.79" width="2.86" height="3.86" fill="#2ce800"/>
<rect x="801.34" y="462.79" width="2.86" height="3.86" fill="#03e100"/>
<rect x="804.20" y="462.79" width="20.01" height="3.86" fill="#00e100"/>
<rect x="824.21" y="462.79" width="2.86" height="3.86" fill="#00dc0a"/>
<rect x="827.07" y="462.79" width="2.86" height="3.86" fill="#00d517"/>
<rect x="829.92" y="462.79" width="2.86" height="3.86" fill="#00d31a"/>
<rect x="832.78" y="462.79" width="2.86" height="3.86" fill="#00d811"/>
<rect x="835.64" y="462.79" width="2.86" height="3.86" fill="#00e002"/>
<rect x="838.50" y="462.79" width="14.29" height="3.86" fill="#00e100"/>
<rect x="852.79" y="462.79" width="2.86" height="3.86" fill="#09e200"/>
<rect x="855.64" y="462.79" width="2.86" height="3.86" fill="#33e900"/>
<rect x="858.50" y="462.79" width="2.86" height="3.86" fill="#68f100"/>
<rect x="861.36" y="462.79" width="2.86" height="3.86" fill="#88f600"/>
<rect x="864.22" y="462.79" width="2.86" height="3.86" fill="#85f600"/>
<rect x="867.08" y="462.79" width="2.86" height="3.86" fill="#5cef00"/>
<rect x="869.93" y="462.79" width="2.86" height="3.86" fill="#23e600"/>
<rect x="872.79" y="462.79" width="4.21" height="3.86" fill="#00e100"/>
<rect x="681.31" y="466.65" width="2.86" height="3.86" fill="#e5f300"/>
<rect x="684.17" y="466.65" width="2.86" height="3.86" fill="#efe500"/>
<rect x="687.02" y="466.65" width="2.86" height="3.86" fill="#fbcb00"/>
<rect x="689.88" y="466.65" width="2.86" height="3.86" fill="#fab200"/>
<rect x="692.74" y="466.65" width="5.72" height="3.86" fill="#f7a800"/>
<rect x="698.46" y="466.65" width="2.86" height="3.86" fill="#fbb500"/>
<rect x="701.31" y="466.65" width="2.86" height="3.86" fill="#f8d100"/>
<rect x="704.17" y="466.65" width="2.86" height="3.86" fill="#d6f800"/>
<rect x="707.03" y="466.65" width="2.86" height="3.86" fill="#24e600"/>
<rect x="709.89" y="466.65" width="2.86" height="3.86" fill="#00bf61"/>
<rect x="712.75" y="466.65" width="2.86" height="3.86" fill="#00c37e"/>
<rect x="715.60" y="466.65" width="2.86" height="3.86" fill="#00c484"/>
<rect x="718.46" y="466.65" width="2.86" height="3.86" fill="#00c272"/>
<rect x="721.32" y="466.65" width="2.86" height="3.86" fill="#00bd4c"/>
<rect x="724.18" y="466.65" width="2.86" height="3.86" fill="#00d11f"/>
<rect x="727.03" y="466.65" width="2.86" height="3.86" fill="#00e100"/>
<rect x="729.89" y="466.65" width="2.86" height="3.86" fill="#35e900"/>
<rect x="732.75" y="466.65" width="2.86" height="3.86" fill="#71f200"/>
<rect x="735.61" y="466.65" width="2.86" height="3.86" fill="#85f600"/>
<rect x="738.47" y="466.65" width="2.86" height="3.86" fill="#88f600"/>
<rect x="741.33" y="466.65" width="2.86" height="3.86" fill="#87f600"/>
<rect x="744.18" y="466.65" width="2.86" height="3.86" fill="#8af600"/>
<rect x="747.04" y="466.65" width="2.86" height="3.86" fill="#8df700"/>
<rect x="749.90" y="466.65" width="2.86" height="3.86" fill="#8ff700"/>
<rect x="752.76" y="466.65" width="2.86" height="3.86" fill="#8bf600"/>
<rect x="755.62" y="466.65" width="2.86" height="3.86" fill="#74f300"/>
<rect x="758.47" y="466.65" width="2.86" height="3.86" fill="#44eb00"/>
<rect x="761.33" y="466.65" width="2.86" height="3.86" fill="#1ee600"/>
<rect x="764.19" y="466.65" width="2.86" height="3.86" fill="#1ce500"/>
<rect x="767.05" y="466.65" width="2.86" height="3.86" fill="#36e900"/>
<rect x="769.90" y="466.65" width="2.86" height="3.86" fill="#5def00"/>
<rect x="772.76" y="466.65" width="2.86" height="3.86" fill="#83f500"/>
<rect x="775.62" y="466.65" width="2.86" height="3.86" fill="#98f900"/>
<rect x="778.48" y="466.65" width="2.86" height="3.86" fill="#b2fd00"/>
<rect x="781.34" y="466.65" width="2.86" height="3.86" fill="#c2fe00"/>
<rect x="784.20" y="466.65" width="2.86" height="3.86" fill="#c3fd00"/>
<rect x="787.05" y="466.65" width="2.86" height="3.86" fill="#b9fe00"/>
<rect x="789.91" y="466.65" width="2.86" height="3.86" fill="#a4fb00"/>
<rect x="792.77" y="466.65" width="2.86" height="3.86" fill="#8cf700"/>
<rect x="795.63" y="466.65" width="2.86" height="3.86" fill="#5bef00"/>
<rect x="798.49" y="466.65" width="2.86" height="3.86" fill="#27e700"/>
<rect x="801.34" y="466.65" width="2.86" height="3.86" fill="#03e200"/>
<rect x="804.20" y="466.65" width="22.86" height="3.86" fill="#00e100"/>
<rect x="827.07" y="466.65" width="2.86" height="3.86" fill="#00dd08"/>
<rect x="829.92" y="466.65" width="2.86" height="3.86" fill="#00dc0a"/>
<rect x="832.78" y="466.65" width="2.86" height="3.86" fill="#00df04"/>
<rect x="835.64" y="466.65" width="17.15" height="3.86" fill="#00e100"/>
<rect x="852.79" y="466.65" width="2.86" height="3.86" fill="#08e200"/>
<rect x="855.64" y="466.65" width="2.86" height="3.86" fill="#2fe800"/>
<rect x="858.50" y="466.65" width="2.86" height="3.86" fill="#62f000"/>
<rect x="861.36" y="466.65" width="2.86" height="3.86" fill="#84f500"/>
<rect x="864.22" y="466.65" width="2.86" height="3.86" fill="#81f500"/>
<rect x="867.08" y="466.65" width="2.86" height="3.86" fill="#56ee00"/>
<rect x="869.93" y="466.65" width="2.86" height="3.86" fill="#21e600"/>
<rect x="872.79" y="466.65" width="4.21" height="3.86" fill="#00e100"/>
<rect x="681.31" y="470.51" width="2.86" height="3.86" fill="#e2f400"/>
<rect x="684.17" y="470.51" width="2.86" height="3.86" fill="#efe400"/>
<rect x="687.02" y="470.51" width="2.86" height="3.86" fill="#fdc800"/>
<rect x="689.88" y="470.51" width="2.86" height="3.86" fill="#f8ad00"/>
<rect x="692.74" y="470.51" width="2.86" height="3.86" fill="#f6a500"/>
<rect x="695.60" y="470.51" width="2.86" height="3.86" fill="#f5a300"/>
<rect x="698.46" y="470.51" width="2.86" height="3.86" fill="#f8ac00"/>
<rect x="701.31" y="470.51" width="2.86" height="3.86" fill="#facd00"/>
<rect x="704.17" y="470.51" width="2.86" height="3.86" fill="#ddf500"/>
<rect x="707.03" y="470.51" width="2.86" height="3.86" fill="#40eb00"/>
<rect x="709.89" y="470.51" width="2.86" height="3.86" fill="#00be58"/>
<rect x="712.75" y="470.51" width="2.86" height="3.86" fill="#00c274"/>
<rect x="715.60" y="470.51" width="2.86" height="3.86" fill="#00c279"/>
<rect x="718.46" y="470.51" width="2.86" height="3.86" fill="#00c068"/>
<rect x="721.32" y="470.51" width="2.86" height="3.86" fill="#00be43"/>
<rect x="724.18" y="470.51" width="2.86" height="3.86" fill="#00d419"/>
<rect x="727.03" y="470.51" width="2.86" height="3.86" fill="#0ce300"/>
<rect x="729.89" y="470.51" width="2.86" height="3.86" fill="#69f100"/>
<rect x="732.75" y="470.51" width="2.86" height="3.86" fill="#92f800"/>
<rect x="735.61" y="470.51" width="2.86" height="3.86" fill="#95f800"/>
<rect x="738.47" y="470.51" width="2.86" height="3.86" fill="#8bf700"/>
<rect x="741.33" y="470.51" width="2.86" height="3.86" fill="#7df400"/>
<rect x="744.18" y="470.51" width="2.86" height="3.86" fill="#72f300"/>
<rect x="747.04" y="470.51" width="2.86" height="3.86" fill="#6ff200"/>
<rect x="749.90" y="470.51" width="2.86" height="3.86" fill="#6bf200"/>
<rect x="752.76" y="470.51" width="2.86" height="3.86" fill="#5eef00"/>
<rect x="755.62" y="470.51" width="2.86" height="3.86" fill="#3bea00"/>
<rect x="758.47" y="470.51" width="2.86" height="3.86" fill="#0ee300"/>
<rect x="761.33" y="470.51" width="5.72" height="3.86" fill="#00e100"/>
<rect x="767.05" y="470.51" width="2.86" height="3.86" fill="#21e600"/>
<rect x="769.90" y="470.51" width="2.86" height="3.86" fill="#57ee00"/>
<rect x="772.76" y="470.51" width="2.86" height="3.86" fill="#83f500"/>
<rect x="775.62" y="470.51" width="2.86" height="3.86" fill="#96f800"/>
<rect x="778.48" y="470.51" width="2.86" height="3.86" fill="#a7fb00"/>
<rect x="781.34" y="470.51" width="2.86" height="3.86" fill="#b4fd00"/>
<rect x="784.20" y="470.51" width="2.86" height="3.86" fill="#b5fd00"/>
<rect x="787.05" y="470.51" width="2.86" height="3.86" fill="#a9fc00"/>
<rect x="789.91" y="470.51" width="2.86" height="3.86" fill="#96f800"/>
<rect x="792.77" y="470.51" width="2.86" height="3.86" fill="#81f500"/>
<rect x="795.63" y="470.51" width="2.86" height="3.86" fill="#5cef00"/>
<rect x="798.49" y="470.51" width="2.86" height="3.86" fill="#3bea00"/>
<rect x="801.34" y="470.51" width="2.86" height="3.86" fill="#20e600"/>
<rect x="804.20" y="470.51" width="2.86" height="3.86" fill="#0ee300"/>
<rect x="807.06" y="470.51" width="2.86" height="3.86" fill="#06e200"/>
<rect x="809.92" y="470.51" width="2.86" height="3.86" fill="#02e100"/>
<rect x="812.77" y="470.51" width="28.58" height="3.86" fill="#00e100"/>
<rect x="841.36" y="470.51" width="2.86" height="3.86" fill="#01e100"/>
<rect x="844.21" y="470.51" width="11.43" height="3.86" fill="#00e100"/>
<rect x="855.64" y="470.51" width="2.86" height="3.86" fill="#08e200"/>
<rect x="858.50" y="470.51" width="2.86" height="3.86" fill="#3bea00"/>
<rect x="861.36" y="470.51" width="2.86" height="3.86" fill="#62f000"/>
<rect x="864.22" y="470.51" width="2.86" height="3.86" fill="#64f000"/>
<rect x="867.08" y="470.51" width="2.86" height="3.86" fill="#44eb00"/>
<rect x="869.93" y="470.51" width="2.86" height="3.86" fill="#1ae500"/>
<rect x="872.79" y="470.51" width="4.21" height="3.86" fill="#00e100"/>
<rect x="681.31" y="474.37" width="2.86" height="3.86" fill="#d2f900"/>
<rect x="684.17" y="474.37" width="2.86" height="3.86" fill="#e2f400"/>
<rect x="687.02" y="474.37" width="2.86" height="3.86" fill="#f5d800"/>
<rect x="689.88" y="474.37" width="2.86" height="3.86" fill="#ffc200"/>
<rect x="692.74" y="474.37" width="2.86" height="3.86" fill="#fab300"/>
<rect x="695.60" y="474.37" width="2.86" height="3.86" fill="#fbb600"/>
<rect x="698.46" y="474.37" width="2.86" height="3.86" fill="#fdc800"/>
<rect x="701.31" y="474.37" width="2.86" height="3.86" fill="#efe400"/>
<rect x="704.17" y="474.37" width="2.86" height="3.86" fill="#c6fd00"/>
<rect x="707.03" y="474.37" width="2.86" height="3.86" fill="#0ce300"/>
<rect x="709.89" y="474.37" width="2.86" height="3.86" fill="#00bd44"/>
<rect x="712.75" y="474.37" width="2.86" height="3.86" fill="#00bf5e"/>
<rect x="715.60" y="474.37" width="2.86" height="3.86" fill="#00c063"/>
<rect x="718.46" y="474.37" width="2.86" height="3.86" fill="#00be53"/>
<rect x="721.32" y="474.37" width="2.86" height="3.86" fill="#00c633"/>
<rect x="724.18" y="474.37" width="2.86" height="3.86" fill="#00d90e"/>
<rect x="727.03" y="474.37" width="2.86" height="3.86" fill="#43eb00"/>
<rect x="729.89" y="474.37" width="2.86" height="3.86" fill="#90f700"/>
<rect x="732.75" y="474.37" width="2.86" height="3.86" fill="#a8fb00"/>
<rect x="735.61" y="474.37" width="2.86" height="3.86" fill="#a7fb00"/>
<rect x="738.47" y="474.37" width="2.86" height="3.86" fill="#95f800"/>
<rect x="741.33" y="474.37" width="2.86" height="3.86" fill="#80f500"/>
<rect x="744.18" y="474.37" width="2.86" height="3.86" fill="#65f100"/>
<rect x="747.04" y="474.37" width="2.86" height="3.86" fill="#4eed00"/>
<rect x="749.90" y="474.37" width="2.86" height="3.86" fill="#38ea00"/>
<rect x="752.76" y="474.37" width="2.86" height="3.86" fill="#25e700"/>
<rect x="755.62" y="474.37" width="2.86" height="3.86" fill="#0fe300"/>
<rect x="758.47" y="474.37" width="5.72" height="3.86" fill="#00e100"/>
<rect x="764.19" y="474.37" width="2.86" height="3.86" fill="#02e100"/>
<rect x="767.05" y="474.37" width="2.86" height="3.86" fill="#2ce800"/>
<rect x="769.90" y="474.37" width="2.86" height="3.86" fill="#5eef00"/>
<rect x="772.76" y="474.37" width="2.86" height="3.86" fill="#83f500"/>
<rect x="775.62" y="474.37" width="2.86" height="3.86" fill="#8ef700"/>
<rect x="778.48" y="474.37" width="2.86" height="3.86" fill="#96f800"/>
<rect x="781.34" y="474.37" width="2.86" height="3.86" fill="#9bf900"/>
<rect x="784.20" y="474.37" width="2.86" height="3.86" fill="#99f900"/>
<rect x="787.05" y="474.37" width="2.86" height="3.86" fill="#91f800"/>
<rect x="789.91" y="474.37" width="2.86" height="3.86" fill="#86f600"/>
<rect x="792.77" y="474.37" width="2.86" height="3.86" fill="#77f300"/>
<rect x="795.63" y="474.37" width="2.86" height="3.86" fill="#6bf100"/>
<rect x="798.49" y="474.37" width="2.86" height="3.86" fill="#60f000"/>
<rect x="801.34" y="474.37" width="2.86" height="3.86" fill="#53ee00"/>
<rect x="804.20" y="474.37" width="2.86" height="3.86" fill="#41eb00"/>
<rect x="807.06" y="474.37" width="2.86" height="3.86" fill="#28e700"/>
<rect x="809.92" y="474.37" width="2.86" height="3.86" fill="#10e300"/>
<rect x="812.77" y="474.37" width="28.58" height="3.86" fill="#00e100"/>
<rect x="841.36" y="474.37" width="2.86" height="3.86" fill="#03e100"/>
<rect x="844.21" y="474.37" width="17.15" height="3.86" fill="#00e100"/>
<rect x="861.36" y="474.37" width="2.86" height="3.86" fill="#22e600"/>
<rect x="864.22" y="474.37" width="2.86" height="3.86" fill="#2fe800"/>
<rect x="867.08" y="474.37" width="2.86" height="3.86" fill="#22e600"/>
<rect x="869.93" y="474.37" width="2.86" height="3.86" fill="#0de300"/>
<rect x="872.79" y="474.37" width="4.21" height="3.86" fill="#00e100"/>
<rect x="681.31" y="478.23" width="2.86" height="3.86" fill="#bafe00"/>
<rect x="684.17" y="478.23" width="2.86" height="3.86" fill="#c3fe00"/>
<rect x="687.02" y="478.23" width="2.86" height="3.86" fill="#ddf600"/>
<rect x="689.88" y="478.23" width="2.86" height="3.86" fill="#efe300"/>
<rect x="692.74" y="478.23" width="2.86" height="3.86" fill="#f5d800"/>
<rect x="695.60" y="478.23" width="2.86" height="3.86" fill="#f2de00"/>
<rect x="698.46" y="478.23" width="2.86" height="3.86" fill="#e7f200"/>
<rect x="701.31" y="478.23" width="2.86" height="3.86" fill="#c5fd00"/>
<rect x="704.17" y="478.23" width="2.86" height="3.86" fill="#86f600"/>
<rect x="707.03" y="478.23" width="2.86" height="3.86" fill="#00d90f"/>
<rect x="709.89" y="478.23" width="2.86" height="3.86" fill="#00c92d"/>
<rect x="712.75" y="478.23" width="2.86" height="3.86" fill="#00bf41"/>
<rect x="715.60" y="478.23" width="2.86" height="3.86" fill="#00bd45"/>
<rect x="718.46" y="478.23" width="2.86" height="3.86" fill="#00c338"/>
<rect x="721.32" y="478.23" width="2.86" height="3.86" fill="#00d11e"/>
<rect x="724.18" y="478.23" width="2.86" height="3.86" fill="#24e700"/>
<rect x="727.03" y="478.23" width="2.86" height="3.86" fill="#83f500"/>
<rect x="729.89" y="478.23" width="2.86" height="3.86" fill="#aafc00"/>
<rect x="732.75" y="478.23" width="2.86" height="3.86" fill="#bfff00"/>
<rect x="735.61" y="478.23" width="2.86" height="3.86" fill="#bafe00"/>
<rect x="738.47" y="478.23" width="2.86" height="3.86" fill="#a4fb00"/>
<rect x="741.33" y="478.23" width="2.86" height="3.86" fill="#8bf700"/>
<rect x="744.18" y="478.23" width="2.86" height="3.86" fill="#6cf200"/>
<rect x="747.04" y="478.23" width="2.86" height="3.86" fill="#41eb00"/>
<rect x="749.90" y="478.23" width="2.86" height="3.86" fill="#19e500"/>
<rect x="752.76" y="478.23" width="11.43" height="3.86" fill="#00e100"/>
<rect x="764.19" y="478.23" width="2.86" height="3.86" fill="#0fe300"/>
<rect x="767.05" y="478.23" width="2.86" height="3.86" fill="#39ea00"/>
<rect x="769.90" y="478.23" width="2.86" height="3.86" fill="#65f100"/>
<rect x="772.76" y="478.23" width="2.86" height="3.86" fill="#83f500"/>
<rect x="775.62" y="478.23" width="2.86" height="3.86" fill="#86f600"/>
<rect x="778.48" y="478.23" width="2.86" height="3.86" fill="#84f500"/>
<rect x="781.34" y="478.23" width="2.86" height="3.86" fill="#81f500"/>
<rect x="784.20" y="478.23" width="2.86" height="3.86" fill="#80f500"/>
<rect x="787.05" y="478.23" width="2.86" height="3.86" fill="#81f500"/>
<rect x="789.91" y="478.23" width="2.86" height="3.86" fill="#82f500"/>
<rect x="792.77" y="478.23" width="2.86" height="3.86" fill="#83f500"/>
<rect x="795.63" y="478.23" width="2.86" height="3.86" fill="#87f600"/>
<rect x="798.49" y="478.23" width="2.86" height="3.86" fill="#8bf600"/>
<rect x="801.34" y="478.23" width="2.86" height="3.86" fill="#88f600"/>
<rect x="804.20" y="478.23" width="2.86" height="3.86" fill="#75f300"/>
<rect x="807.06" y="478.23" width="2.86" height="3.86" fill="#4bec00"/>
<rect x="809.92" y="478.23" width="2.86" height="3.86" fill="#1de500"/>
<rect x="812.77" y="478.23" width="14.29" height="3.86" fill="#00e100"/>
<rect x="827.07" y="478.23" width="2.86" height="3.86" fill="#01e100"/>
<rect x="829.92" y="478.23" width="5.72" height="3.86" fill="#02e100"/>
<rect x="835.64" y="478.23" width="2.86" height="3.86" fill="#06e200"/>
<rect x="838.50" y="478.23" width="2.86" height="3.86" fill="#0ae300"/>
<rect x="841.36" y="478.23" width="2.86" height="3.86" fill="#06e200"/>
<rect x="844.21" y="478.23" width="20.01" height="3.86" fill="#00e100"/>
<rect x="864.22" y="478.23" width="2.86" height="3.86" fill="#07e200"/>
<rect x="867.08" y="478.23" width="2.86" height="3.86" fill="#08e200"/>
<rect x="869.93" y="478.23" width="2.86" height="3.86" fill="#03e100"/>
<rect x="872.79" y="478.23" width="4.21" height="3.86" fill="#00e100"/>
<rect x="681.31" y="482.09" width="2.86" height="3.86" fill="#8af600"/>
<rect x="684.17" y="482.09" width="2.86" height="3.86" fill="#92f800"/>
<rect x="687.02" y="482.09" width="2.86" height="3.86" fill="#a2fa00"/>
<rect x="689.88" y="482.09" width="2.86" height="3.86" fill="#b2fd00"/>
<rect x="692.74" y="482.09" width="2.86" height="3.86" fill="#bdff00"/>
<rect x="695.60" y="482.09" width="2.86" height="3.86" fill="#b3fd00"/>
<rect x="698.46" y="482.09" width="2.86" height="3.86" fill="#95f800"/>
<rect x="701.31" y="482.09" width="2.86" height="3.86" fill="#58ef00"/>
<rect x="704.17" y="482.09" width="2.86" height="3.86" fill="#2ae700"/>
<rect x="707.03" y="482.09" width="2.86" height="3.86" fill="#00e100"/>
<rect x="709.89" y="482.09" width="2.86" height="3.86" fill="#00d713"/>
<rect x="712.75" y="482.09" width="2.86" height="3.86" fill="#00cf22"/>
<rect x="715.60" y="482.09" width="2.86" height="3.86" fill="#00cd26"/>
<rect x="718.46" y="482.09" width="2.86" height="3.86" fill="#00d810"/>
<rect x="721.32" y="482.09" width="2.86" height="3.86" fill="#3aea00"/>
<rect x="724.18" y="482.09" width="2.86" height="3.86" fill="#84f500"/>
<rect x="727.03" y="482.09" width="2.86" height="3.86" fill="#a7fb00"/>
<rect x="729.89" y="482.09" width="2.86" height="3.86" fill="#c4fd00"/>
<rect x="732.75" y="482.09" width="2.86" height="3.86" fill="#cffa00"/>
<rect x="735.61" y="482.09" width="2.86" height="3.86" fill="#cafb00"/>
<rect x="738.47" y="482.09" width="2.86" height="3.86" fill="#bafe00"/>
<rect x="741.33" y="482.09" width="2.86" height="3.86" fill="#a0fa00"/>
<rect x="744.18" y="482.09" width="2.86" height="3.86" fill="#88f600"/>
<rect x="747.04" y="482.09" width="2.86" height="3.86" fill="#51ed00"/>
<rect x="749.90" y="482.09" width="2.86" height="3.86" fill="#15e400"/>
<rect x="752.76" y="482.09" width="11.43" height="3.86" fill="#00e100"/>
<rect x="764.19" y="482.09" width="2.86" height="3.86" fill="#11e400"/>
<rect x="767.05" y="482.09" width="2.86" height="3.86" fill="#40eb00"/>
<rect x="769.90" y="482.09" width="2.86" height="3.86" fill="#6ff200"/>
<rect x="772.76" y="482.09" width="2.86" height="3.86" fill="#85f600"/>
<rect x="775.62" y="482.09" width="2.86" height="3.86" fill="#7ef400"/>
<rect x="778.48" y="482.09" width="2.86" height="3.86" fill="#60f000"/>
<rect x="781.34" y="482.09" width="2.86" height="3.86" fill="#49ec00"/>
<rect x="784.20" y="482.09" width="2.86" height="3.86" fill="#50ed00"/>
<rect x="787.05" y="482.09" width="2.86" height="3.86" fill="#72f300"/>
<rect x="789.91" y="482.09" width="2.86" height="3.86" fill="#8ef700"/>
<rect x="792.77" y="482.09" width="2.86" height="3.86" fill="#9dfa00"/>
<rect x="795.63" y="482.09" width="2.86" height="3.86" fill="#a5fb00"/>
<rect x="798.49" y="482.09" width="2.86" height="3.86" fill="#a7fb00"/>
<rect x="801.34" y="482.09" width="2.86" height="3.86" fill="#a4fb00"/>
<rect x="804.20" y="482.09" width="2.86" height="3.86" fill="#96f800"/>
<rect x="807.06" y="482.09" width="2.86" height="3.86" fill="#68f100"/>
<rect x="809.92" y="482.09" width="2.86" height="3.86" fill="#23e600"/>
<rect x="812.77" y="482.09" width="11.43" height="3.86" fill="#00e100"/>
<rect x="824.21" y="482.09" width="2.86" height="3.86" fill="#0de300"/>
<rect x="827.07" y="482.09" width="2.86" height="3.86" fill="#31e900"/>
<rect x="829.92" y="482.09" width="2.86" height="3.86" fill="#5aef00"/>
<rect x="832.78" y="482.09" width="2.86" height="3.86" fill="#79f400"/>
<rect x="835.64" y="482.09" width="2.86" height="3.86" fill="#63f000"/>
<rect x="838.50" y="482.09" width="2.86" height="3.86" fill="#2de800"/>
<rect x="841.36" y="482.09" width="2.86" height="3.86" fill="#07e200"/>
<rect x="844.21" y="482.09" width="31.44" height="3.86" fill="#00e100"/>
<rect x="875.65" y="482.09" width="1.35" height="3.86" fill="#01e100"/>
<rect x="681.31" y="485.95" width="2.86" height="3.86" fill="#27e700"/>
<rect x="684.17" y="485.95" width="2.86" height="3.86" fill="#2ce800"/>
<rect x="687.02" y="485.95" width="2.86" height="3.86" fill="#38ea00"/>
<rect x="689.88" y="485.95" width="2.86" height="3.86" fill="#44eb00"/>
<rect x="692.74" y="485.95" width="2.86" height="3.86" fill="#46ec00"/>
<rect x="695.60" y="485.95" width="2.86" height="3.86" fill="#37e900"/>
<rect x="698.46" y="485.95" width="2.86" height="3.86" fill="#1ee600"/>
<rect x="701.31" y="485.95" width="2.86" height="3.86" fill="#0ce300"/>
<rect x="704.17" y="485.95" width="2.86" height="3.86" fill="#0de300"/>
<rect x="707.03" y="485.95" width="2.86" height="3.86" fill="#1de500"/>
<rect x="709.89" y="485.95" width="2.86" height="3.86" fill="#34e900"/>
<rect x="712.75" y="485.95" width="2.86" height="3.86" fill="#3feb00"/>
<rect x="715.60" y="485.95" width="2.86" height="3.86" fill="#59ef00"/>
<rect x="718.46" y="485.95" width="2.86" height="3.86" fill="#88f600"/>
<rect x="721.32" y="485.95" width="2.86" height="3.86" fill="#9ffa00"/>
<rect x="724.18" y="485.95" width="2.86" height="3.86" fill="#b8fe00"/>
<rect x="727.03" y="485.95" width="2.86" height="3.86" fill="#cffa00"/>
<rect x="729.89" y="485.95" width="2.86" height="3.86" fill="#dff500"/>
<rect x="732.75" y="485.95" width="2.86" height="3.86" fill="#e4f300"/>
<rect x="735.61" y="485.95" width="2.86" height="3.86" fill="#ddf500"/>
<rect x="738.47" y="485.95" width="2.86" height="3.86" fill="#cdfa00"/>
<rect x="741.33" y="485.95" width="2.86" height="3.86" fill="#bbff00"/>
<rect x="744.18" y="485.95" width="2.86" height="3.86" fill="#a0fa00"/>
<rect x="747.04" y="485.95" width="2.86" height="3.86" fill="#74f300"/>
<rect x="749.90" y="485.95" width="2.86" height="3.86" fill="#26e700"/>
<rect x="752.76" y="485.95" width="11.43" height="3.86" fill="#00e100"/>
<rect x="764.19" y="485.95" width="2.86" height="3.86" fill="#12e400"/>
<rect x="767.05" y="485.95" width="2.86" height="3.86" fill="#44eb00"/>
<rect x="769.90" y="485.95" width="2.86" height="3.86" fill="#75f300"/>
<rect x="772.76" y="485.95" width="2.86" height="3.86" fill="#86f600"/>
<rect x="775.62" y="485.95" width="2.86" height="3.86" fill="#6ef200"/>
<rect x="778.48" y="485.95" width="2.86" height="3.86" fill="#38ea00"/>
<rect x="781.34" y="485.95" width="2.86" height="3.86" fill="#13e400"/>
<rect x="784.20" y="485.95" width="2.86" height="3.86" fill="#26e700"/>
<rect x="787.05" y="485.95" width="2.86" height="3.86" fill="#6bf100"/>
<rect x="789.91" y="485.95" width="2.86" height="3.86" fill="#a0fa00"/>
<rect x="792.77" y="485.95" width="2.86" height="3.86" fill="#b5fe00"/>
<rect x="795.63" y="485.95" width="2.86" height="3.86" fill="#beff00"/>
<rect x="798.49" y="485.95" width="2.86" height="3.86" fill="#bfff00"/>
<rect x="801.34" y="485.95" width="2.86" height="3.86" fill="#b7fe00"/>
<rect x="804.20" y="485.95" width="2.86" height="3.86" fill="#aafc00"/>
<rect x="807.06" y="485.95" width="2.86" height="3.86" fill="#8af600"/>
<rect x="809.92" y="485.95" width="2.86" height="3.86" fill="#2de800"/>
<rect x="812.77" y="485.95" width="11.43" height="3.86" fill="#00e100"/>
<rect x="824.21" y="485.95" width="2.86" height="3.86" fill="#1de500"/>
<rect x="827.07" y="485.95" width="2.86" height="3.86" fill="#72f300"/>
<rect x="829.92" y="485.95" width="2.86" height="3.86" fill="#abfc00"/>
<rect x="832.78" y="485.95" width="2.86" height="3.86" fill="#bafe00"/>
<rect x="835.64" y="485.95" width="2.86" height="3.86" fill="#adfc00"/>
<rect x="838.50" y="485.95" width="2.86" height="3.86" fill="#7ff500"/>
<rect x="841.36" y="485.95" width="2.86" height="3.86" fill="#0ce300"/>
<rect x="844.21" y="485.95" width="32.79" height="3.86" fill="#00e100"/>
<rect x="681.31" y="489.81" width="22.86" height="3.86" fill="#00e100"/>
<rect x="704.17" y="489.81" width="2.86" height="3.86" fill="#1de600"/>
<rect x="707.03" y="489.81" width="2.86" height="3.86" fill="#48ec00"/>
<rect x="709.89" y="489.81" width="2.86" height="3.86" fill="#78f300"/>
<rect x="712.75" y="489.81" width="2.86" height="3.86" fill="#92f800"/>
<rect x="715.60" y="489.81" width="2.86" height="3.86" fill="#a4fb00"/>
<rect x="718.46" y="489.81" width="2.86" height="3.86" fill="#bdff00"/>
<rect x="721.32" y="489.81" width="2.86" height="3.86" fill="#d3f800"/>
<rect x="724.18" y="489.81" width="2.86" height="3.86" fill="#e6f200"/>
<rect x="727.03" y="489.81" width="2.86" height="3.86" fill="#f0e300"/>
<rect x="729.89" y="489.81" width="2.86" height="3.86" fill="#f4d800"/>
<rect x="732.75" y="489.81" width="2.86" height="3.86" fill="#f6d600"/>
<rect x="735.61" y="489.81" width="2.86" height="3.86" fill="#f2dd00"/>
<rect x="738.47" y="489.81" width="2.86" height="3.86" fill="#eaed00"/>
<rect x="741.33" y="489.81" width="2.86" height="3.86" fill="#d6f800"/>
<rect x="744.18" y="489.81" width="2.86" height="3.86" fill="#b8fe00"/>
<rect x="747.04" y="489.81" width="2.86" height="3.86" fill="#91f700"/>
<rect x="749.90" y="489.81" width="2.86" height="3.86" fill="#4bed00"/>
<rect x="752.76" y="489.81" width="2.86" height="3.86" fill="#10e300"/>
<rect x="755.62" y="489.81" width="8.57" height="3.86" fill="#00e100"/>
<rect x="764.19" y="489.81" width="2.86" height="3.86" fill="#0de300"/>
<rect x="767.05" y="489.81" width="2.86" height="3.86" fill="#37e900"/>
<rect x="769.90" y="489.81" width="2.86" height="3.86" fill="#61f000"/>
<rect x="772.76" y="489.81" width="2.86" height="3.86" fill="#71f200"/>
<rect x="775.62" y="489.81" width="2.86" height="3.86" fill="#50ed00"/>
<rect x="778.48" y="489.81" width="2.86" height="3.86" fill="#18e500"/>
<rect x="781.34" y="489.81" width="2.86" height="3.86" fill="#00e100"/>
<rect x="784.20" y="489.81" width="2.86" height="3.86" fill="#10e300"/>
<rect x="787.05" y="489.81" width="2.86" height="3.86" fill="#71f200"/>
<rect x="789.91" y="489.81" width="2.86" height="3.86" fill="#a9fb00"/>
<rect x="792.77" y="489.81" width="2.86" height="3.86" fill="#c2fe00"/>
<rect x="795.63" y="489.81" width="2.86" height="3.86" fill="#ccfb00"/>
<rect x="798.49" y="489.81" width="2.86" height="3.86" fill="#cffa00"/>
<rect x="801.34" y="489.81" width="2.86" height="3.86" fill="#cbfb00"/>
<rect x="804.20" y="489.81" width="2.86" height="3.86" fill="#bcff00"/>
<rect x="807.06" y="489.81" width="2.86" height="3.86" fill="#9ffa00"/>
<rect x="809.92" y="489.81" width="2.86" height="3.86" fill="#5def00"/>
<rect x="812.77" y="489.81" width="2.86" height="3.86" fill="#0fe300"/>
<rect x="815.63" y="489.81" width="8.57" height="3.86" fill="#00e100"/>
<rect x="824.21" y="489.81" width="2.86" height="3.86" fill="#22e600"/>
<rect x="827.07" y="489.81" width="2.86" height="3.86" fill="#93f800"/>
<rect x="829.92" y="489.81" width="2.86" height="3.86" fill="#c0fe00"/>
<rect x="832.78" y="489.81" width="2.86" height="3.86" fill="#c6fd00"/>
<rect x="835.64" y="489.81" width="2.86" height="3.86" fill="#c2fe00"/>
<rect x="838.50" y="489.81" width="2.86" height="3.86" fill="#a2fa00"/>
<rect x="841.36" y="489.81" width="2.86" height="3.86" fill="#32e900"/>
<rect x="844.21" y="489.81" width="5.72" height="3.86" fill="#00e100"/>
<rect x="849.93" y="489.81" width="2.86" height="3.86" fill="#03e100"/>
<rect x="852.79" y="489.81" width="2.86" height="3.86" fill="#08e200"/>
<rect x="855.64" y="489.81" width="2.86" height="3.86" fill="#05e200"/>
<rect x="858.50" y="489.81" width="2.86" height="3.86" fill="#03e100"/>
<rect x="861.36" y="489.81" width="2.86" height="3.86" fill="#01e100"/>
<rect x="864.22" y="489.81" width="12.78" height="3.86" fill="#00e100"/>
<rect x="681.31" y="493.67" width="20.01" height="3.86" fill="#00e100"/>
<rect x="701.31" y="493.67" width="2.86" height="3.86" fill="#36e900"/>
<rect x="704.17" y="493.67" width="2.86" height="3.86" fill="#66f100"/>
<rect x="707.03" y="493.67" width="2.86" height="3.86" fill="#88f600"/>
<rect x="709.89" y="493.67" width="2.86" height="3.86" fill="#9af900"/>
<rect x="712.75" y="493.67" width="2.86" height="3.86" fill="#acfc00"/>
<rect x="715.60" y="493.67" width="2.86" height="3.86" fill="#c4fd00"/>
<rect x="718.46" y="493.67" width="2.86" height="3.86" fill="#ddf500"/>
<rect x="721.32" y="493.67" width="2.86" height="3.86" fill="#eee600"/>
<rect x="724.18" y="493.67" width="2.86" height="3.86" fill="#f6d500"/>
<rect x="727.03" y="493.67" width="2.86" height="3.86" fill="#fcc900"/>
<rect x="729.89" y="493.67" width="2.86" height="3.86" fill="#fec400"/>
<rect x="732.75" y="493.67" width="2.86" height="3.86" fill="#ffc300"/>
<rect x="735.61" y="493.67" width="2.86" height="3.86" fill="#fdc700"/>
<rect x="738.47" y="493.67" width="2.86" height="3.86" fill="#f8d100"/>
<rect x="741.33" y="493.67" width="2.86" height="3.86" fill="#eee500"/>
<rect x="744.18" y="493.67" width="2.86" height="3.86" fill="#d8f700"/>
<rect x="747.04" y="493.67" width="2.86" height="3.86" fill="#b0fd00"/>
<rect x="749.90" y="493.67" width="2.86" height="3.86" fill="#89f600"/>
<rect x="752.76" y="493.67" width="2.86" height="3.86" fill="#50ed00"/>
<rect x="755.62" y="493.67" width="2.86" height="3.86" fill="#28e700"/>
<rect x="758.47" y="493.67" width="2.86" height="3.86" fill="#0fe300"/>
<rect x="761.33" y="493.67" width="2.86" height="3.86" fill="#03e100"/>
<rect x="764.19" y="493.67" width="2.86" height="3.86" fill="#02e100"/>
<rect x="767.05" y="493.67" width="2.86" height="3.86" fill="#16e400"/>
<rect x="769.90" y="493.67" width="2.86" height="3.86" fill="#2ee800"/>
<rect x="772.76" y="493.67" width="2.86" height="3.86" fill="#37e900"/>
<rect x="775.62" y="493.67" width="2.86" height="3.86" fill="#1fe600"/>
<rect x="778.48" y="493.67" width="5.72" height="3.86" fill="#00e100"/>
<rect x="784.20" y="493.67" width="2.86" height="3.86" fill="#0de300"/>
<rect x="787.05" y="493.67" width="2.86" height="3.86" fill="#7af400"/>
<rect x="789.91" y="493.67" width="2.86" height="3.86" fill="#aafc00"/>
<rect x="792.77" y="493.67" width="2.86" height="3.86" fill="#c4fd00"/>
<rect x="795.63" y="493.67" width="2.86" height="3.86" fill="#d3f800"/>
<rect x="798.49" y="493.67" width="2.86" height="3.86" fill="#ddf500"/>
<rect x="801.34" y="493.67" width="2.86" height="3.86" fill="#def500"/>
<rect x="804.20" y="493.67" width="2.86" height="3.86" fill="#d3f900"/>
<rect x="807.06" y="493.67" width="2.86" height="3.86" fill="#b7fe00"/>
<rect x="809.92" y="493.67" width="2.86" height="3.86" fill="#92f800"/>
<rect x="812.77" y="493.67" width="2.86" height="3.86" fill="#50ed00"/>
<rect x="815.63" y="493.67" width="2.86" height="3.86" fill="#21e600"/>
<rect x="818.49" y="493.67" width="5.72" height="3.86" fill="#00e100"/>
<rect x="824.21" y="493.67" width="2.86" height="3.86" fill="#1fe600"/>
<rect x="827.07" y="493.67" width="2.86" height="3.86" fill="#99f900"/>
<rect x="829.92" y="493.67" width="2.86" height="3.86" fill="#c2fe00"/>
<rect x="832.78" y="493.67" width="2.86" height="3.86" fill="#c6fc00"/>
<rect x="835.64" y="493.67" width="2.86" height="3.86" fill="#c5fd00"/>
<rect x="838.50" y="493.67" width="2.86" height="3.86" fill="#b3fd00"/>
<rect x="841.36" y="493.67" width="2.86" height="3.86" fill="#70f200"/>
<rect x="844.21" y="493.67" width="2.86" height="3.86" fill="#2ee800"/>
<rect x="847.07" y="493.67" width="2.86" height="3.86" fill="#1ae500"/>
<rect x="849.93" y="493.67" width="2.86" height="3.86" fill="#0fe300"/>
<rect x="852.79" y="493.67" width="2.86" height="3.86" fill="#06e200"/>
<rect x="855.64" y="493.67" width="2.86" height="3.86" fill="#01e100"/>
<rect x="858.50" y="493.67" width="18.50" height="3.86" fill="#00e100"/>
<rect x="681.31" y="497.53" width="2.86" height="3.86" fill="#03e100"/>
<rect x="684.17" y="497.53" width="14.29" height="3.86" fill="#00e100"/>
<rect x="698.46" y="497.53" width="2.86" height="3.86" fill="#0de300"/>
<rect x="701.31" y="497.53" width="2.86" height="3.86" fill="#64f000"/>
<rect x="704.17" y="497.53" width="2.86" height="3.86" fill="#8ef700"/>
<rect x="707.03" y="497.53" width="2.86" height="3.86" fill="#a0fa00"/>
<rect x="709.89" y="497.53" width="2.86" height="3.86" fill="#aefc00"/>
<rect x="712.75" y="497.53" width="2.86" height="3.86" fill="#beff00"/>
<rect x="715.60" y="497.53" width="2.86" height="3.86" fill="#d6f800"/>
<rect x="718.46" y="497.53" width="2.86" height="3.86" fill="#ecea00"/>
<rect x="721.32" y="497.53" width="2.86" height="3.86" fill="#f6d500"/>
<rect x="724.18" y="497.53" width="2.86" height="3.86" fill="#fdc800"/>
<rect x="727.03" y="497.53" width="2.86" height="3.86" fill="#fdbe00"/>
<rect x="729.89" y="497.53" width="5.72" height="3.86" fill="#fcb900"/>
<rect x="735.61" y="497.53" width="2.86" height="3.86" fill="#fdbc00"/>
<rect x="738.47" y="497.53" width="2.86" height="3.86" fill="#fdc600"/>
<rect x="741.33" y="497.53" width="2.86" height="3.86" fill="#f6d500"/>
<rect x="744.18" y="497.53" width="2.86" height="3.86" fill="#e9f000"/>
<rect x="747.04" y="497.53" width="2.86" height="3.86" fill="#c6fd00"/>
<rect x="749.90" y="497.53" width="2.86" height="3.86" fill="#9ffa00"/>
<rect x="752.76" y="497.53" width="2.86" height="3.86" fill="#7df400"/>
<rect x="755.62" y="497.53" width="2.86" height="3.86" fill="#4ced00"/>
<rect x="758.47" y="497.53" width="2.86" height="3.86" fill="#25e700"/>
<rect x="761.33" y="497.53" width="2.86" height="3.86" fill="#09e200"/>
<rect x="764.19" y="497.53" width="8.57" height="3.86" fill="#00e100"/>
<rect x="772.76" y="497.53" width="2.86" height="3.86" fill="#04e200"/>
<rect x="775.62" y="497.53" width="8.57" height="3.86" fill="#00e100"/>
<rect x="784.20" y="497.53" width="2.86" height="3.86" fill="#1ae500"/>
<rect x="787.05" y="497.53" width="2.86" height="3.86" fill="#81f500"/>
<rect x="789.91" y="497.53" width="2.86" height="3.86" fill="#a9fb00"/>
<rect x="792.77" y="497.53" width="2.86" height="3.86" fill="#c0fe00"/>
<rect x="795.63" y="497.53" width="2.86" height="3.86" fill="#d3f900"/>
<rect x="798.49" y="497.53" width="2.86" height="3.86" fill="#e2f400"/>
<rect x="801.34" y="497.53" width="2.86" height="3.86" fill="#e9f100"/>
<rect x="804.20" y="497.53" width="2.86" height="3.86" fill="#e1f400"/>
<rect x="807.06" y="497.53" width="2.86" height="3.86" fill="#c8fc00"/>
<rect x="809.92" y="497.53" width="2.86" height="3.86" fill="#a5fb00"/>
<rect x="812.77" y="497.53" width="2.86" height="3.86" fill="#7df400"/>
<rect x="815.63" y="497.53" width="2.86" height="3.86" fill="#43eb00"/>
<rect x="818.49" y="497.53" width="2.86" height="3.86" fill="#12e400"/>
<rect x="821.35" y="497.53" width="2.86" height="3.86" fill="#00e100"/>
<rect x="824.21" y="497.53" width="2.86" height="3.86" fill="#19e500"/>
<rect x="827.07" y="497.53" width="2.86" height="3.86" fill="#93f800"/>
<rect x="829.92" y="497.53" width="2.86" height="3.86" fill="#c0fe00"/>
<rect x="832.78" y="497.53" width="2.86" height="3.86" fill="#c6fd00"/>
<rect x="835.64" y="497.53" width="2.86" height="3.86" fill="#c5fd00"/>
<rect x="838.50" y="497.53" width="2.86" height="3.86" fill="#b8fe00"/>
<rect x="841.36" y="497.53" width="2.86" height="3.86" fill="#8ff700"/>
<rect x="844.21" y="497.53" width="2.86" height="3.86" fill="#64f000"/>
<rect x="847.07" y="497.53" width="2.86" height="3.86" fill="#3cea00"/>
<rect x="849.93" y="497.53" width="2.86" height="3.86" fill="#17e500"/>
<rect x="852.79" y="497.53" width="24.21" height="3.86" fill="#00e100"/>
<rect x="681.31" y="501.39" width="2.86" height="3.86" fill="#2de800"/>
<rect x="684.17" y="501.39" width="2.86" height="3.86" fill="#14e400"/>
<rect x="687.02" y="501.39" width="11.43" height="3.86" fill="#00e100"/>
<rect x="698.46" y="501.39" width="2.86" height="3.86" fill="#03e100"/>
<rect x="701.31" y="501.39" width="2.86" height="3.86" fill="#4bed00"/>
<rect x="704.17" y="501.39" width="2.86" height="3.86" fill="#83f500"/>
<rect x="707.03" y="501.39" width="2.86" height="3.86" fill="#9af900"/>
<rect x="709.89" y="501.39" width="2.86" height="3.86" fill="#b1fd00"/>
<rect x="712.75" y="501.39" width="2.86" height="3.86" fill="#c4fd00"/>
<rect x="715.60" y="501.39" width="2.86" height="3.86" fill="#def500"/>
<rect x="718.46" y="501.39" width="2.86" height="3.86" fill="#efe300"/>
<rect x="721.32" y="501.39" width="2.86" height="3.86" fill="#f8d000"/>
<rect x="724.18" y="501.39" width="2.86" height="3.86" fill="#fec500"/>
<rect x="727.03" y="501.39" width="2.86" height="3.86" fill="#fdbc00"/>
<rect x="729.89" y="501.39" width="5.72" height="3.86" fill="#fcb900"/>
<rect x="735.61" y="501.39" width="2.86" height="3.86" fill="#fdbe00"/>
<rect x="738.47" y="501.39" width="2.86" height="3.86" fill="#fdc800"/>
<rect x="741.33" y="501.39" width="2.86" height="3.86" fill="#f5d800"/>
<rect x="744.18" y="501.39" width="2.86" height="3.86" fill="#e6f300"/>
<rect x="747.04" y="501.39" width="2.86" height="3.86" fill="#c0ff00"/>
<rect x="749.90" y="501.39" width="2.86" height="3.86" fill="#92f800"/>
<rect x="752.76" y="501.39" width="2.86" height="3.86" fill="#62f000"/>
<rect x="755.62" y="501.39" width="2.86" height="3.86" fill="#37ea00"/>
<rect x="758.47" y="501.39" width="2.86" height="3.86" fill="#1be500"/>
<rect x="761.33" y="501.39" width="2.86" height="3.86" fill="#07e200"/>
<rect x="764.19" y="501.39" width="14.29" height="3.86" fill="#00e100"/>
<rect x="778.48" y="501.39" width="2.86" height="3.86" fill="#07e200"/>
<rect x="781.34" y="501.39" width="2.86" height="3.86" fill="#1ee600"/>
<rect x="784.20" y="501.39" width="2.86" height="3.86" fill="#42eb00"/>
<rect x="787.05" y="501.39" width="2.86" height="3.86" fill="#86f600"/>
<rect x="789.91" y="501.39" width="2.86" height="3.86" fill="#a4fb00"/>
<rect x="792.77" y="501.39" width="2.86" height="3.86" fill="#b1fd00"/>
<rect x="795.63" y="501.39" width="2.86" height="3.86" fill="#c6fc00"/>
<rect x="798.49" y="501.39" width="2.86" height="3.86" fill="#d8f700"/>
<rect x="801.34" y="501.39" width="2.86" height="3.86" fill="#e1f400"/>
<rect x="804.20" y="501.39" width="2.86" height="3.86" fill="#d9f700"/>
<rect x="807.06" y="501.39" width="2.86" height="3.86" fill="#bfff00"/>
<rect x="809.92" y="501.39" width="2.86" height="3.86" fill="#98f900"/>
<rect x="812.77" y="501.39" width="2.86" height="3.86" fill="#5def00"/>
<rect x="815.63" y="501.39" width="2.86" height="3.86" fill="#2ce800"/>
<rect x="818.49" y="501.39" width="2.86" height="3.86" fill="#08e200"/>
<rect x="821.35" y="501.39" width="2.86" height="3.86" fill="#00e100"/>
<rect x="824.21" y="501.39" width="2.86" height="3.86" fill="#16e400"/>
<rect x="827.07" y="501.39" width="2.86" height="3.86" fill="#7ef400"/>
<rect x="829.92" y="501.39" width="2.86" height="3.86" fill="#b3fd00"/>
<rect x="832.78" y="501.39" width="5.72" height="3.86" fill="#c1fe00"/>
<rect x="838.50" y="501.39" width="2.86" height="3.86" fill="#b8fe00"/>
<rect x="841.36" y="501.39" width="2.86" height="3.86" fill="#a1fa00"/>
<rect x="844.21" y="501.39" width="2.86" height="3.86" fill="#8ff700"/>
<rect x="847.07" y="501.39" width="2.86" height="3.86" fill="#64f000"/>
<rect x="849.93" y="501.39" width="2.86" height="3.86" fill="#27e700"/>
<rect x="852.79" y="501.39" width="24.21" height="3.86" fill="#00e100"/>
<rect x="681.31" y="505.25" width="2.86" height="3.86" fill="#6af100"/>
<rect x="684.17" y="505.25" width="2.86" height="3.86" fill="#53ee00"/>
<rect x="687.02" y="505.25" width="2.86" height="3.86" fill="#26e700"/>
<rect x="689.88" y="505.25" width="11.43" height="3.86" fill="#00e100"/>
<rect x="701.31" y="505.25" width="2.86" height="3.86" fill="#10e400"/>
<rect x="704.17" y="505.25" width="2.86" height="3.86" fill="#40eb00"/>
<rect x="707.03" y="505.25" width="2.86" height="3.86" fill="#84f500"/>
<rect x="709.89" y="505.25" width="2.86" height="3.86" fill="#a8fb00"/>
<rect x="712.75" y="505.25" width="2.86" height="3.86" fill="#c3fd00"/>
<rect x="715.60" y="505.25" width="2.86" height="3.86" fill="#daf600"/>
<rect x="718.46" y="505.25" width="2.86" height="3.86" fill="#ede800"/>
<rect x="721.32" y="505.25" width="2.86" height="3.86" fill="#f6d500"/>
<rect x="724.18" y="505.25" width="2.86" height="3.86" fill="#fbcb00"/>
<rect x="727.03" y="505.25" width="2.86" height="3.86" fill="#fec500"/>
<rect x="729.89" y="505.25" width="2.86" height="3.86" fill="#ffc300"/>
<rect x="732.75" y="505.25" width="2.86" height="3.86" fill="#fec400"/>
<rect x="735.61" y="505.25" width="2.86" height="3.86" fill="#fcc900"/>
<rect x="738.47" y="505.25" width="2.86" height="3.86" fill="#f6d500"/>
<rect x="741.33" y="505.25" width="2.86" height="3.86" fill="#ecea00"/>
<rect x="744.18" y="505.25" width="2.86" height="3.86" fill="#d1f900"/>
<rect x="747.04" y="505.25" width="2.86" height="3.86" fill="#9af900"/>
<rect x="749.90" y="505.25" width="2.86" height="3.86" fill="#4ced00"/>
<rect x="752.76" y="505.25" width="2.86" height="3.86" fill="#0ce300"/>
<rect x="755.62" y="505.25" width="2.86" height="3.86" fill="#00de05"/>
<rect x="758.47" y="505.25" width="2.86" height="3.86" fill="#00e002"/>
<rect x="761.33" y="505.25" width="2.86" height="3.86" fill="#02e100"/>
<rect x="764.19" y="505.25" width="11.43" height="3.86" fill="#00e100"/>
<rect x="775.62" y="505.25" width="2.86" height="3.86" fill="#10e300"/>
<rect x="778.48" y="505.25" width="2.86" height="3.86" fill="#38ea00"/>
<rect x="781.34" y="505.25" width="2.86" height="3.86" fill="#5ff000"/>
<rect x="784.20" y="505.25" width="2.86" height="3.86" fill="#79f400"/>
<rect x="787.05" y="505.25" width="2.86" height="3.86" fill="#89f600"/>
<rect x="789.91" y="505.25" width="2.86" height="3.86" fill="#99f900"/>
<rect x="792.77" y="505.25" width="2.86" height="3.86" fill="#a7fb00"/>
<rect x="795.63" y="505.25" width="2.86" height="3.86" fill="#b1fd00"/>
<rect x="798.49" y="505.25" width="2.86" height="3.86" fill="#c3fd00"/>
<rect x="801.34" y="505.25" width="2.86" height="3.86" fill="#cdfa00"/>
<rect x="804.20" y="505.25" width="2.86" height="3.86" fill="#c4fd00"/>
<rect x="807.06" y="505.25" width="2.86" height="3.86" fill="#a6fb00"/>
<rect x="809.92" y="505.25" width="2.86" height="3.86" fill="#6cf200"/>
<rect x="812.77" y="505.25" width="2.86" height="3.86" fill="#16e400"/>
<rect x="815.63" y="505.25" width="8.57" height="3.86" fill="#00e100"/>
<rect x="824.21" y="505.25" width="2.86" height="3.86" fill="#12e400"/>
<rect x="827.07" y="505.25" width="2.86" height="3.86" fill="#45ec00"/>
<rect x="829.92" y="505.25" width="2.86" height="3.86" fill="#92f800"/>
<rect x="832.78" y="505.25" width="2.86" height="3.86" fill="#aafc00"/>
<rect x="835.64" y="505.25" width="2.86" height="3.86" fill="#b3fd00"/>
<rect x="838.50" y="505.25" width="2.86" height="3.86" fill="#b7fe00"/>
<rect x="841.36" y="505.25" width="2.86" height="3.86" fill="#b9fe00"/>
<rect x="844.21" y="505.25" width="2.86" height="3.86" fill="#aafc00"/>
<rect x="847.07" y="505.25" width="2.86" height="3.86" fill="#87f600"/>
<rect x="849.93" y="505.25" width="2.86" height="3.86" fill="#37e900"/>
<rect x="852.79" y="505.25" width="24.21" height="3.86" fill="#00e100"/>
<rect x="681.31" y="509.11" width="2.86" height="3.86" fill="#87f600"/>
<rect x="684.17" y="509.11" width="2.86" height="3.86" fill="#79f400"/>
<rect x="687.02" y="509.11" width="2.86" height="3.86" fill="#50ed00"/>
<rect x="689.88" y="509.11" width="2.86" height="3.86" fill="#23e600"/>
<rect x="692.74" y="509.11" width="2.86" height="3.86" fill="#04e200"/>
<rect x="695.60" y="509.11" width="5.72" height="3.86" fill="#00e100"/>
<rect x="701.31" y="509.11" width="2.86" height="3.86" fill="#00de06"/>
<rect x="704.17" y="509.11" width="2.86" height="3.86" fill="#01e100"/>
<rect x="707.03" y="509.11" width="2.86" height="3.86" fill="#47ec00"/>
<rect x="709.89" y="509.11" width="2.86" height="3.86" fill="#92f800"/>
<rect x="712.75" y="509.11" width="2.86" height="3.86" fill="#bcff00"/>
<rect x="715.60" y="509.11" width="2.86" height="3.86" fill="#ccfb00"/>
<rect x="718.46" y="509.11" width="2.86" height="3.86" fill="#dff500"/>
<rect x="721.32" y="509.11" width="2.86" height="3.86" fill="#ecea00"/>
<rect x="724.18" y="509.11" width="2.86" height="3.86" fill="#f2de00"/>
<rect x="727.03" y="509.11" width="2.86" height="3.86" fill="#f5d800"/>
<rect x="729.89" y="509.11" width="2.86" height="3.86" fill="#f5d600"/>
<rect x="732.75" y="509.11" width="2.86" height="3.86" fill="#f4da00"/>
<rect x="735.61" y="509.11" width="2.86" height="3.86" fill="#efe400"/>
<rect x="738.47" y="509.11" width="2.86" height="3.86" fill="#e5f300"/>
<rect x="741.33" y="509.11" width="2.86" height="3.86" fill="#cdfa00"/>
<rect x="744.18" y="509.11" width="2.86" height="3.86" fill="#99f900"/>
<rect x="747.04" y="509.11" width="2.86" height="3.86" fill="#37e900"/>
<rect x="749.90" y="509.11" width="2.86" height="3.86" fill="#00d90f"/>
<rect x="752.76" y="509.11" width="2.86" height="3.86" fill="#00cf23"/>
<rect x="755.62" y="509.11" width="2.86" height="3.86" fill="#00d021"/>
<rect x="758.47" y="509.11" width="2.86" height="3.86" fill="#00d418"/>
<rect x="761.33" y="509.11" width="2.86" height="3.86" fill="#00db0b"/>
<rect x="764.19" y="509.11" width="8.57" height="3.86" fill="#00e100"/>
<rect x="772.76" y="509.11" width="2.86" height="3.86" fill="#0ae300"/>
<rect x="775.62" y="509.11" width="2.86" height="3.86" fill="#28e700"/>
<rect x="778.48" y="509.11" width="2.86" height="3.86" fill="#51ee00"/>
<rect x="781.34" y="509.11" width="2.86" height="3.86" fill="#74f300"/>
<rect x="784.20" y="509.11" width="2.86" height="3.86" fill="#82f500"/>
<rect x="787.05" y="509.11" width="2.86" height="3.86" fill="#7cf400"/>
<rect x="789.91" y="509.11" width="2.86" height="3.86" fill="#86f600"/>
<rect x="792.77" y="509.11" width="2.86" height="3.86" fill="#94f800"/>
<rect x="795.63" y="509.11" width="2.86" height="3.86" fill="#a4fb00"/>
<rect x="798.49" y="509.11" width="2.86" height="3.86" fill="#aefc00"/>
<rect x="801.34" y="509.11" width="2.86" height="3.86" fill="#b8fe00"/>
<rect x="804.20" y="509.11" width="2.86" height="3.86" fill="#b0fd00"/>
<rect x="807.06" y="509.11" width="2.86" height="3.86" fill="#94f800"/>
<rect x="809.92" y="509.11" width="2.86" height="3.86" fill="#41eb00"/>
<rect x="812.77" y="509.11" width="2.86" height="3.86" fill="#01e100"/>
<rect x="815.63" y="509.11" width="8.57" height="3.86" fill="#00e100"/>
<rect x="824.21" y="509.11" width="2.86" height="3.86" fill="#0be300"/>
<rect x="827.07" y="509.11" width="2.86" height="3.86" fill="#29e700"/>
<rect x="829.92" y="509.11" width="2.86" height="3.86" fill="#4fed00"/>
<rect x="832.78" y="509.11" width="2.86" height="3.86" fill="#7df400"/>
<rect x="835.64" y="509.11" width="2.86" height="3.86" fill="#95f800"/>
<rect x="838.50" y="509.11" width="2.86" height="3.86" fill="#affc00"/>
<rect x="841.36" y="509.11" width="2.86" height="3.86" fill="#bdff00"/>
<rect x="844.21" y="509.11" width="2.86" height="3.86" fill="#b2fd00"/>
<rect x="847.07" y="509.11" width="2.86" height="3.86" fill="#8df700"/>
<rect x="849.93" y="509.11" width="2.86" height="3.86" fill="#3bea00"/>
<rect x="852.79" y="509.11" width="24.21" height="3.86" fill="#00e100"/>
<rect x="681.31" y="512.97" width="2.86" height="3.86" fill="#89f600"/>
<rect x="684.17" y="512.97" width="2.86" height="3.86" fill="#7cf400"/>
<rect x="687.02" y="512.97" width="2.86" height="3.86" fill="#53ee00"/>
<rect x="689.88" y="512.97" width="2.86" height="3.86" fill="#26e700"/>
<rect x="692.74" y="512.97" width="2.86" height="3.86" fill="#07e200"/>
<rect x="695.60" y="512.97" width="2.86" height="3.86" fill="#00dd07"/>
<rect x="698.46" y="512.97" width="2.86" height="3.86" fill="#00d517"/>
<rect x="701.31" y="512.97" width="5.72" height="3.86" fill="#00cd25"/>
<rect x="707.03" y="512.97" width="2.86" height="3.86" fill="#00d910"/>
<rect x="709.89" y="512.97" width="2.86" height="3.86" fill="#28e700"/>
<rect x="712.75" y="512.97" width="2.86" height="3.86" fill="#80f500"/>
<rect x="715.60" y="512.97" width="2.86" height="3.86" fill="#aafc00"/>
<rect x="718.46" y="512.97" width="2.86" height="3.86" fill="#beff00"/>
<rect x="721.32" y="512.97" width="2.86" height="3.86" fill="#c3fd00"/>
<rect x="724.18" y="512.97" width="2.86" height="3.86" fill="#ccfb00"/>
<rect x="727.03" y="512.97" width="2.86" height="3.86" fill="#d2f900"/>
<rect x="729.89" y="512.97" width="2.86" height="3.86" fill="#d3f900"/>
<rect x="732.75" y="512.97" width="2.86" height="3.86" fill="#cdfa00"/>
<rect x="735.61" y="512.97" width="2.86" height="3.86" fill="#c0fe00"/>
<rect x="738.47" y="512.97" width="2.86" height="3.86" fill="#a4fb00"/>
<rect x="741.33" y="512.97" width="2.86" height="3.86" fill="#78f300"/>
<rect x="744.18" y="512.97" width="2.86" height="3.86" fill="#1ce500"/>
<rect x="747.04" y="512.97" width="2.86" height="3.86" fill="#00d419"/>
<rect x="749.90" y="512.97" width="2.86" height="3.86" fill="#00c732"/>
<rect x="752.76" y="512.97" width="2.86" height="3.86" fill="#00c13c"/>
<rect x="755.62" y="512.97" width="2.86" height="3.86" fill="#00c339"/>
<rect x="758.47" y="512.97" width="2.86" height="3.86" fill="#00c92e"/>
<rect x="761.33" y="512.97" width="2.86" height="3.86" fill="#00d11e"/>
<rect x="764.19" y="512.97" width="2.86" height="3.86" fill="#00dd08"/>
<rect x="767.05" y="512.97" width="2.86" height="3.86" fill="#1ce500"/>
<rect x="769.90" y="512.97" width="2.86" height="3.86" fill="#32e900"/>
<rect x="772.76" y="512.97" width="2.86" height="3.86" fill="#40eb00"/>
<rect x="775.62" y="512.97" width="2.86" height="3.86" fill="#43eb00"/>
<rect x="778.48" y="512.97" width="2.86" height="3.86" fill="#40eb00"/>
<rect x="781.34" y="512.97" width="2.86" height="3.86" fill="#3cea00"/>
<rect x="784.20" y="512.97" width="2.86" height="3.86" fill="#39ea00"/>
<rect x="787.05" y="512.97" width="2.86" height="3.86" fill="#33e900"/>
<rect x="789.91" y="512.97" width="2.86" height="3.86" fill="#3dea00"/>
<rect x="792.77" y="512.97" width="2.86" height="3.86" fill="#63f000"/>
<rect x="795.63" y="512.97" width="2.86" height="3.86" fill="#89f600"/>
<rect x="798.49" y="512.97" width="2.86" height="3.86" fill="#9af900"/>
<rect x="801.34" y="512.97" width="2.86" height="3.86" fill="#a3fb00"/>
<rect x="804.20" y="512.97" width="2.86" height="3.86" fill="#9ffa00"/>
<rect x="807.06" y="512.97" width="2.86" height="3.86" fill="#8bf700"/>
<rect x="809.92" y="512.97" width="2.86" height="3.86" fill="#5def00"/>
<rect x="812.77" y="512.97" width="2.86" height="3.86" fill="#35e900"/>
<rect x="815.63" y="512.97" width="2.86" height="3.86" fill="#18e500"/>
<rect x="818.49" y="512.97" width="11.43" height="3.86" fill="#00e100"/>
<rect x="829.92" y="512.97" width="2.86" height="3.86" fill="#16e400"/>
<rect x="832.78" y="512.97" width="2.86" height="3.86" fill="#35e900"/>
<rect x="835.64" y="512.97" width="2.86" height="3.86" fill="#6af100"/>
<rect x="838.50" y="512.97" width="2.86" height="3.86" fill="#94f800"/>
<rect x="841.36" y="512.97" width="2.86" height="3.86" fill="#a7fb00"/>
<rect x="844.21" y="512.97" width="2.86" height="3.86" fill="#a0fa00"/>
<rect x="847.07" y="512.97" width="2.86" height="3.86" fill="#7ff500"/>
<rect x="849.93" y="512.97" width="2.86" height="3.86" fill="#2ce800"/>
<rect x="852.79" y="512.97" width="14.29" height="3.86" fill="#00e100"/>
<rect x="867.08" y="512.97" width="2.86" height="3.86" fill="#01e100"/>
<rect x="869.93" y="512.97" width="7.07" height="3.86" fill="#00e100"/>
<rect x="681.31" y="516.83" width="2.86" height="3.86" fill="#85f600"/>
<rect x="684.17" y="516.83" width="2.86" height="3.86" fill="#74f300"/>
<rect x="687.02" y="516.83" width="2.86" height="3.86" fill="#4bec00"/>
<rect x="689.88" y="516.83" width="2.86" height="3.86" fill="#1ee600"/>
<rect x="692.74" y="516.83" width="2.86" height="3.86" fill="#00de06"/>
<rect x="695.60" y="516.83" width="2.86" height="3.86" fill="#00d21d"/>
<rect x="698.46" y="516.83" width="2.86" height="3.86" fill="#00c633"/>
<rect x="701.31" y="516.83" width="2.86" height="3.86" fill="#00bd44"/>
<rect x="704.17" y="516.83" width="2.86" height="3.86" fill="#00bd4a"/>
<rect x="707.03" y="516.83" width="2.86" height="3.86" fill="#00be42"/>
<rect x="709.89" y="516.83" width="2.86" height="3.86" fill="#00ca2b"/>
<rect x="712.75" y="516.83" width="2.86" height="3.86" fill="#00de05"/>
<rect x="715.60" y="516.83" width="2.86" height="3.86" fill="#48ec00"/>
<rect x="718.46" y="516.83" width="2.86" height="3.86" fill="#89f600"/>
<rect x="721.32" y="516.83" width="5.72" height="3.86" fill="#8ff700"/>
<rect x="727.03" y="516.83" width="5.72" height="3.86" fill="#91f700"/>
<rect x="732.75" y="516.83" width="2.86" height="3.86" fill="#8bf600"/>
<rect x="735.61" y="516.83" width="2.86" height="3.86" fill="#75f300"/>
<rect x="738.47" y="516.83" width="2.86" height="3.86" fill="#48ec00"/>
<rect x="741.33" y="516.83" width="2.86" height="3.86" fill="#00e001"/>
<rect x="744.18" y="516.83" width="2.86" height="3.86" fill="#00cf22"/>
<rect x="747.04" y="516.83" width="2.86" height="3.86" fill="#00c339"/>
<rect x="749.90" y="516.83" width="2.86" height="3.86" fill="#00bc47"/>
<rect x="752.76" y="516.83" width="2.86" height="3.86" fill="#00bd4e"/>
<rect x="755.62" y="516.83" width="2.86" height="3.86" fill="#00bd4a"/>
<rect x="758.47" y="516.83" width="2.86" height="3.86" fill="#00c03e"/>
<rect x="761.33" y="516.83" width="2.86" height="3.86" fill="#00ca2c"/>
<rect x="764.19" y="516.83" width="2.86" height="3.86" fill="#00d910"/>
<rect x="767.05" y="516.83" width="2.86" height="3.86" fill="#34e900"/>
<rect x="769.90" y="516.83" width="2.86" height="3.86" fill="#65f100"/>
<rect x="772.76" y="516.83" width="2.86" height="3.86" fill="#77f300"/>
<rect x="775.62" y="516.83" width="2.86" height="3.86" fill="#60f000"/>
<rect x="778.48" y="516.83" width="2.86" height="3.86" fill="#33e900"/>
<rect x="781.34" y="516.83" width="2.86" height="3.86" fill="#0ae200"/>
<rect x="784.20" y="516.83" width="8.57" height="3.86" fill="#00e100"/>
<rect x="792.77" y="516.83" width="2.86" height="3.86" fill="#13e400"/>
<rect x="795.63" y="516.83" width="2.86" height="3.86" fill="#42eb00"/>
<rect x="798.49" y="516.83" width="2.86" height="3.86" fill="#70f200"/>
<rect x="801.34" y="516.83" width="2.86" height="3.86" fill="#88f600"/>
<rect x="804.20" y="516.83" width="2.86" height="3.86" fill="#8bf700"/>
<rect x="807.06" y="516.83" width="2.86" height="3.86" fill="#8af600"/>
<rect x="809.92" y="516.83" width="2.86" height="3.86" fill="#85f500"/>
<rect x="812.77" y="516.83" width="2.86" height="3.86" fill="#75f300"/>
<rect x="815.63" y="516.83" width="2.86" height="3.86" fill="#52ee00"/>
<rect x="818.49" y="516.83" width="2.86" height="3.86" fill="#24e700"/>
<rect x="821.35" y="516.83" width="11.43" height="3.86" fill="#00e100"/>
<rect x="832.78" y="516.83" width="2.86" height="3.86" fill="#06e200"/>
<rect x="835.64" y="516.83" width="2.86" height="3.86" fill="#30e800"/>
<rect x="838.50" y="516.83" width="2.86" height="3.86" fill="#68f100"/>
<rect x="841.36" y="516.83" width="2.86" height="3.86" fill="#88f600"/>
<rect x="844.21" y="516.83" width="2.86" height="3.86" fill="#86f600"/>
<rect x="847.07" y="516.83" width="2.86" height="3.86" fill="#5aef00"/>
<rect x="849.93" y="516.83" width="2.86" height="3.86" fill="#1fe600"/>
<rect x="852.79" y="516.83" width="24.21" height="3.86" fill="#00e100"/>
<rect x="681.31" y="520.69" width="2.86" height="3.86" fill="#83f500"/>
<rect x="684.17" y="520.69" width="2.86" height="3.86" fill="#70f200"/>
<rect x="687.02" y="520.69" width="2.86" height="3.86" fill="#48ec00"/>
<rect x="689.88" y="520.69" width="2.86" height="3.86" fill="#1ce500"/>
<rect x="692.74" y="520.69" width="2.86" height="3.86" fill="#00d712"/>
<rect x="695.60" y="520.69" width="2.86" height="3.86" fill="#00c92e"/>
<rect x="698.46" y="520.69" width="2.86" height="3.86" fill="#00bc48"/>
<rect x="701.31" y="520.69" width="2.86" height="3.86" fill="#00bf5e"/>
<rect x="704.17" y="520.69" width="5.72" height="3.86" fill="#00c069"/>
<rect x="709.89" y="520.69" width="2.86" height="3.86" fill="#00be59"/>
<rect x="712.75" y="520.69" width="2.86" height="3.86" fill="#00c23b"/>
<rect x="715.60" y="520.69" width="2.86" height="3.86" fill="#00d516"/>
<rect x="718.46" y="520.69" width="2.86" height="3.86" fill="#20e600"/>
<rect x="721.32" y="520.69" width="2.86" height="3.86" fill="#51ed00"/>
<rect x="724.18" y="520.69" width="2.86" height="3.86" fill="#59ef00"/>
<rect x="727.03" y="520.69" width="2.86" height="3.86" fill="#68f100"/>
<rect x="729.89" y="520.69" width="2.86" height="3.86" fill="#73f300"/>
<rect x="732.75" y="520.69" width="2.86" height="3.86" fill="#6ef200"/>
<rect x="735.61" y="520.69" width="2.86" height="3.86" fill="#4fed00"/>
<rect x="738.47" y="520.69" width="2.86" height="3.86" fill="#1fe600"/>
<rect x="741.33" y="520.69" width="2.86" height="3.86" fill="#00d713"/>
<rect x="744.18" y="520.69" width="2.86" height="3.86" fill="#00ca2b"/>
<rect x="747.04" y="520.69" width="2.86" height="3.86" fill="#00bf40"/>
<rect x="749.90" y="520.69" width="2.86" height="3.86" fill="#00bd4f"/>
<rect x="752.76" y="520.69" width="2.86" height="3.86" fill="#00be56"/>
<rect x="755.62" y="520.69" width="2.86" height="3.86" fill="#00be52"/>
<rect x="758.47" y="520.69" width="2.86" height="3.86" fill="#00bd45"/>
<rect x="761.33" y="520.69" width="2.86" height="3.86" fill="#00c732"/>
<rect x="764.19" y="520.69" width="2.86" height="3.86" fill="#00d713"/>
<rect x="767.05" y="520.69" width="2.86" height="3.86" fill="#39ea00"/>
<rect x="769.90" y="520.69" width="2.86" height="3.86" fill="#77f300"/>
<rect x="772.76" y="520.69" width="2.86" height="3.86" fill="#88f600"/>
<rect x="775.62" y="520.69" width="2.86" height="3.86" fill="#82f500"/>
<rect x="778.48" y="520.69" width="2.86" height="3.86" fill="#5ff000"/>
<rect x="781.34" y="520.69" width="2.86" height="3.86" fill="#3bea00"/>
<rect x="784.20" y="520.69" width="2.86" height="3.86" fill="#21e600"/>
<rect x="787.05" y="520.69" width="2.86" height="3.86" fill="#05e200"/>
<rect x="789.91" y="520.69" width="5.72" height="3.86" fill="#00e100"/>
<rect x="795.63" y="520.69" width="2.86" height="3.86" fill="#0fe300"/>
<rect x="798.49" y="520.69" width="2.86" height="3.86" fill="#40eb00"/>
<rect x="801.34" y="520.69" width="2.86" height="3.86" fill="#6cf200"/>
<rect x="804.20" y="520.69" width="2.86" height="3.86" fill="#83f500"/>
<rect x="807.06" y="520.69" width="2.86" height="3.86" fill="#88f600"/>
<rect x="809.92" y="520.69" width="2.86" height="3.86" fill="#89f600"/>
<rect x="812.77" y="520.69" width="2.86" height="3.86" fill="#86f600"/>
<rect x="815.63" y="520.69" width="2.86" height="3.86" fill="#7af400"/>
<rect x="818.49" y="520.69" width="2.86" height="3.86" fill="#60f000"/>
<rect x="821.35" y="520.69" width="2.86" height="3.86" fill="#47ec00"/>
<rect x="824.21" y="520.69" width="2.86" height="3.86" fill="#35e900"/>
<rect x="827.07" y="520.69" width="2.86" height="3.86" fill="#24e700"/>
<rect x="829.92" y="520.69" width="2.86" height="3.86" fill="#18e500"/>
<rect x="832.78" y="520.69" width="2.86" height="3.86" fill="#16e400"/>
<rect x="835.64" y="520.69" width="2.86" height="3.86" fill="#28e700"/>
<rect x="838.50" y="520.69" width="2.86" height="3.86" fill="#44eb00"/>
<rect x="841.36" y="520.69" width="2.86" height="3.86" fill="#5aef00"/>
<rect x="844.21" y="520.69" width="2.86" height="3.86" fill="#59ef00"/>
<rect x="847.07" y="520.69" width="2.86" height="3.86" fill="#47ec00"/>
<rect x="849.93" y="520.69" width="2.86" height="3.86" fill="#2ee800"/>
<rect x="852.79" y="520.69" width="2.86" height="3.86" fill="#1be500"/>
<rect x="855.64" y="520.69" width="2.86" height="3.86" fill="#10e300"/>
<rect x="858.50" y="520.69" width="2.86" height="3.86" fill="#08e200"/>
<rect x="861.36" y="520.69" width="2.86" height="3.86" fill="#02e100"/>
<rect x="864.22" y="520.69" width="12.78" height="3.86" fill="#00e100"/>
<rect x="681.31" y="524.55" width="2.86" height="3.86" fill="#7ff400"/>
<rect x="684.17" y="524.55" width="2.86" height="3.86" fill="#6bf100"/>
<rect x="687.02" y="524.55" width="2.86" height="3.86" fill="#45ec00"/>
<rect x="689.88" y="524.55" width="2.86" height="3.86" fill="#18e500"/>
<rect x="692.74" y="524.55" width="2.86" height="3.86" fill="#00d418"/>
<rect x="695.60" y="524.55" width="2.86" height="3.86" fill="#00c535"/>
<rect x="698.46" y="524.55" width="2.86" height="3.86" fill="#00bd52"/>
<rect x="701.31" y="524.55" width="2.86" height="3.86" fill="#00c068"/>
<rect x="704.17" y="524.55" width="5.72" height="3.86" fill="#00c274"/>
<rect x="709.89" y="524.55" width="2.86" height="3.86" fill="#00c068"/>
<rect x="712.75" y="524.55" width="2.86" height="3.86" fill="#00bd51"/>
<rect x="715.60" y="524.55" width="2.86" height="3.86" fill="#00c535"/>
<rect x="718.46" y="524.55" width="2.86" height="3.86" fill="#00d517"/>
<rect x="721.32" y="524.55" width="2.86" height="3.86" fill="#12e400"/>
<rect x="724.18" y="524.55" width="2.86" height="3.86" fill="#30e800"/>
<rect x="727.03" y="524.55" width="2.86" height="3.86" fill="#53ee00"/>
<rect x="729.89" y="524.55" width="2.86" height="3.86" fill="#70f200"/>
<rect x="732.75" y="524.55" width="2.86" height="3.86" fill="#77f300"/>
<rect x="735.61" y="524.55" width="2.86" height="3.86" fill="#5cef00"/>
<rect x="738.47" y="524.55" width="2.86" height="3.86" fill="#2ce800"/>
<rect x="741.33" y="524.55" width="2.86" height="3.86" fill="#00d811"/>
<rect x="744.18" y="524.55" width="2.86" height="3.86" fill="#00cc27"/>
<rect x="747.04" y="524.55" width="2.86" height="3.86" fill="#00c13c"/>
<rect x="749.90" y="524.55" width="2.86" height="3.86" fill="#00bd4a"/>
<rect x="752.76" y="524.55" width="2.86" height="3.86" fill="#00bd51"/>
<rect x="755.62" y="524.55" width="2.86" height="3.86" fill="#00bd4d"/>
<rect x="758.47" y="524.55" width="2.86" height="3.86" fill="#00bf40"/>
<rect x="761.33" y="524.55" width="2.86" height="3.86" fill="#00c92e"/>
<rect x="764.19" y="524.55" width="2.86" height="3.86" fill="#00d90f"/>
<rect x="767.05" y="524.55" width="2.86" height="3.86" fill="#3cea00"/>
<rect x="769.90" y="524.55" width="2.86" height="3.86" fill="#71f200"/>
<rect x="772.76" y="524.55" width="2.86" height="3.86" fill="#8af600"/>
<rect x="775.62" y="524.55" width="2.86" height="3.86" fill="#94f800"/>
<rect x="778.48" y="524.55" width="2.86" height="3.86" fill="#9af900"/>
<rect x="781.34" y="524.55" width="2.86" height="3.86" fill="#99f900"/>
<rect x="784.20" y="524.55" width="2.86" height="3.86" fill="#8bf600"/>
<rect x="787.05" y="524.55" width="2.86" height="3.86" fill="#50ed00"/>
<rect x="789.91" y="524.55" width="2.86" height="3.86" fill="#09e200"/>
<rect x="792.77" y="524.55" width="5.72" height="3.86" fill="#00e100"/>
<rect x="798.49" y="524.55" width="2.86" height="3.86" fill="#39ea00"/>
<rect x="801.34" y="524.55" width="2.86" height="3.86" fill="#6ff200"/>
<rect x="804.20" y="524.55" width="2.86" height="3.86" fill="#84f500"/>
<rect x="807.06" y="524.55" width="2.86" height="3.86" fill="#85f500"/>
<rect x="809.92" y="524.55" width="2.86" height="3.86" fill="#83f500"/>
<rect x="812.77" y="524.55" width="2.86" height="3.86" fill="#85f500"/>
<rect x="815.63" y="524.55" width="2.86" height="3.86" fill="#8ef700"/>
<rect x="818.49" y="524.55" width="2.86" height="3.86" fill="#99f900"/>
<rect x="821.35" y="524.55" width="2.86" height="3.86" fill="#a1fa00"/>
<rect x="824.21" y="524.55" width="2.86" height="3.86" fill="#9df900"/>
<rect x="827.07" y="524.55" width="2.86" height="3.86" fill="#8ff700"/>
<rect x="829.92" y="524.55" width="2.86" height="3.86" fill="#79f400"/>
<rect x="832.78" y="524.55" width="2.86" height="3.86" fill="#5bef00"/>
<rect x="835.64" y="524.55" width="2.86" height="3.86" fill="#45ec00"/>
<rect x="838.50" y="524.55" width="2.86" height="3.86" fill="#31e900"/>
<rect x="841.36" y="524.55" width="2.86" height="3.86" fill="#26e700"/>
<rect x="844.21" y="524.55" width="2.86" height="3.86" fill="#28e700"/>
<rect x="847.07" y="524.55" width="2.86" height="3.86" fill="#3cea00"/>
<rect x="849.93" y="524.55" width="2.86" height="3.86" fill="#52ee00"/>
<rect x="852.79" y="524.55" width="2.86" height="3.86" fill="#58ef00"/>
<rect x="855.64" y="524.55" width="2.86" height="3.86" fill="#45ec00"/>
<rect x="858.50" y="524.55" width="2.86" height="3.86" fill="#25e700"/>
<rect x="861.36" y="524.55" width="2.86" height="3.86" fill="#07e200"/>
<rect x="864.22" y="524.55" width="12.78" height="3.86" fill="#00e100"/>
<rect x="681.31" y="528.41" width="2.86" height="3.86" fill="#86f600"/>
<rect x="684.17" y="528.41" width="2.86" height="3.86" fill="#77f300"/>
<rect x="687.02" y="528.41" width="2.86" height="3.86" fill="#54ee00"/>
<rect x="689.88" y="528.41" width="2.86" height="3.86" fill="#29e700"/>
<rect x="692.74" y="528.41" width="2.86" height="3.86" fill="#00d614"/>
<rect x="695.60" y="528.41" width="2.86" height="3.86" fill="#00c731"/>
<rect x="698.46" y="528.41" width="2.86" height="3.86" fill="#00bd4c"/>
<rect x="701.31" y="528.41" width="2.86" height="3.86" fill="#00c062"/>
<rect x="704.17" y="528.41" width="5.72" height="3.86" fill="#00c16e"/>
<rect x="709.89" y="528.41" width="2.86" height="3.86" fill="#00bf62"/>
<rect x="712.75" y="528.41" width="2.86" height="3.86" fill="#00bd4c"/>
<rect x="715.60" y="528.41" width="2.86" height="3.86" fill="#00c731"/>
<rect x="718.46" y="528.41" width="2.86" height="3.86" fill="#00d614"/>
<rect x="721.32" y="528.41" width="2.86" height="3.86" fill="#00e100"/>
<rect x="724.18" y="528.41" width="2.86" height="3.86" fill="#16e400"/>
<rect x="727.03" y="528.41" width="2.86" height="3.86" fill="#47ec00"/>
<rect x="729.89" y="528.41" width="2.86" height="3.86" fill="#71f200"/>
<rect x="732.75" y="528.41" width="2.86" height="3.86" fill="#82f500"/>
<rect x="735.61" y="528.41" width="2.86" height="3.86" fill="#6ef200"/>
<rect x="738.47" y="528.41" width="2.86" height="3.86" fill="#44eb00"/>
<rect x="741.33" y="528.41" width="2.86" height="3.86" fill="#03e200"/>
<rect x="744.18" y="528.41" width="2.86" height="3.86" fill="#00d21b"/>
<rect x="747.04" y="528.41" width="2.86" height="3.86" fill="#00c92e"/>
<rect x="749.90" y="528.41" width="2.86" height="3.86" fill="#00c23b"/>
<rect x="752.76" y="528.41" width="2.86" height="3.86" fill="#00bf40"/>
<rect x="755.62" y="528.41" width="2.86" height="3.86" fill="#00c13d"/>
<rect x="758.47" y="528.41" width="2.86" height="3.86" fill="#00c732"/>
<rect x="761.33" y="528.41" width="2.86" height="3.86" fill="#00cf21"/>
<rect x="764.19" y="528.41" width="2.86" height="3.86" fill="#00df04"/>
<rect x="767.05" y="528.41" width="2.86" height="3.86" fill="#39ea00"/>
<rect x="769.90" y="528.41" width="2.86" height="3.86" fill="#5def00"/>
<rect x="772.76" y="528.41" width="2.86" height="3.86" fill="#82f500"/>
<rect x="775.62" y="528.41" width="2.86" height="3.86" fill="#9af900"/>
<rect x="778.48" y="528.41" width="2.86" height="3.86" fill="#b3fd00"/>
<rect x="781.34" y="528.41" width="2.86" height="3.86" fill="#c0fe00"/>
<rect x="784.20" y="528.41" width="2.86" height="3.86" fill="#b5fd00"/>
<rect x="787.05" y="528.41" width="2.86" height="3.86" fill="#8df700"/>
<rect x="789.91" y="528.41" width="2.86" height="3.86" fill="#39ea00"/>
<rect x="792.77" y="528.41" width="2.86" height="3.86" fill="#04e200"/>
<rect x="795.63" y="528.41" width="2.86" height="3.86" fill="#13e400"/>
<rect x="798.49" y="528.41" width="2.86" height="3.86" fill="#45ec00"/>
<rect x="801.34" y="528.41" width="2.86" height="3.86" fill="#76f300"/>
<rect x="804.20" y="528.41" width="2.86" height="3.86" fill="#85f500"/>
<rect x="807.06" y="528.41" width="2.86" height="3.86" fill="#83f500"/>
<rect x="809.92" y="528.41" width="2.86" height="3.86" fill="#7cf400"/>
<rect x="812.77" y="528.41" width="2.86" height="3.86" fill="#83f500"/>
<rect x="815.63" y="528.41" width="2.86" height="3.86" fill="#94f800"/>
<rect x="818.49" y="528.41" width="2.86" height="3.86" fill="#abfc00"/>
<rect x="821.35" y="528.41" width="2.86" height="3.86" fill="#bcff00"/>
<rect x="824.21" y="528.41" width="2.86" height="3.86" fill="#bbfe00"/>
<rect x="827.07" y="528.41" width="2.86" height="3.86" fill="#abfc00"/>
<rect x="829.92" y="528.41" width="2.86" height="3.86" fill="#95f800"/>
<rect x="832.78" y="528.41" width="2.86" height="3.86" fill="#7ff500"/>
<rect x="835.64" y="528.41" width="2.86" height="3.86" fill="#51ed00"/>
<rect x="838.50" y="528.41" width="2.86" height="3.86" fill="#21e600"/>
<rect x="841.36" y="528.41" width="2.86" height="3.86" fill="#01e100"/>
<rect x="844.21" y="528.41" width="2.86" height="3.86" fill="#08e200"/>
<rect x="847.07" y="528.41" width="2.86" height="3.86" fill="#37e900"/>
<rect x="849.93" y="528.41" width="2.86" height="3.86" fill="#6df200"/>
<rect x="852.79" y="528.41" width="2.86" height="3.86" fill="#83f500"/>
<rect x="855.64" y="528.41" width="2.86" height="3.86" fill="#6bf100"/>
<rect x="858.50" y="528.41" width="2.86" height="3.86" fill="#39ea00"/>
<rect x="861.36" y="528.41" width="2.86" height="3.86" fill="#0ce300"/>
<rect x="864.22" y="528.41" width="12.78" height="3.86" fill="#00e100"/>
<rect x="681.31" y="532.27" width="2.86" height="3.86" fill="#9af900"/>
<rect x="684.17" y="532.27" width="2.86" height="3.86" fill="#91f700"/>
<rect x="687.02" y="532.27" width="2.86" height="3.86" fill="#7ff500"/>
<rect x="689.88" y="532.27" width="2.86" height="3.86" fill="#54ee00"/>
<rect x="692.74" y="532.27" width="2.86" height="3.86" fill="#15e400"/>
<rect x="695.60" y="532.27" width="2.86" height="3.86" fill="#00cf22"/>
<rect x="698.46" y="532.27" width="2.86" height="3.86" fill="#00c33a"/>
<rect x="701.31" y="532.27" width="2.86" height="3.86" fill="#00bd4c"/>
<rect x="704.17" y="532.27" width="5.72" height="3.86" fill="#00be57"/>
<rect x="709.89" y="532.27" width="2.86" height="3.86" fill="#00bd4c"/>
<rect x="712.75" y="532.27" width="2.86" height="3.86" fill="#00c339"/>
<rect x="715.60" y="532.27" width="2.86" height="3.86" fill="#00cf21"/>
<rect x="718.46" y="532.27" width="2.86" height="3.86" fill="#00dc09"/>
<rect x="721.32" y="532.27" width="2.86" height="3.86" fill="#00e100"/>
<rect x="724.18" y="532.27" width="2.86" height="3.86" fill="#07e200"/>
<rect x="727.03" y="532.27" width="2.86" height="3.86" fill="#3aea00"/>
<rect x="729.89" y="532.27" width="2.86" height="3.86" fill="#6af100"/>
<rect x="732.75" y="532.27" width="2.86" height="3.86" fill="#82f500"/>
<rect x="735.61" y="532.27" width="2.86" height="3.86" fill="#7bf400"/>
<rect x="738.47" y="532.27" width="2.86" height="3.86" fill="#5ff000"/>
<rect x="741.33" y="532.27" width="2.86" height="3.86" fill="#3cea00"/>
<rect x="744.18" y="532.27" width="2.86" height="3.86" fill="#01e100"/>
<rect x="747.04" y="532.27" width="2.86" height="3.86" fill="#00d419"/>
<rect x="749.90" y="532.27" width="2.86" height="3.86" fill="#00ce24"/>
<rect x="752.76" y="532.27" width="2.86" height="3.86" fill="#00cc28"/>
<rect x="755.62" y="532.27" width="2.86" height="3.86" fill="#00cd26"/>
<rect x="758.47" y="532.27" width="2.86" height="3.86" fill="#00d21d"/>
<rect x="761.33" y="532.27" width="2.86" height="3.86" fill="#00d90f"/>
<rect x="764.19" y="532.27" width="2.86" height="3.86" fill="#08e200"/>
<rect x="767.05" y="532.27" width="2.86" height="3.86" fill="#1ce500"/>
<rect x="769.90" y="532.27" width="2.86" height="3.86" fill="#30e800"/>
<rect x="772.76" y="532.27" width="2.86" height="3.86" fill="#51ed00"/>
<rect x="775.62" y="532.27" width="2.86" height="3.86" fill="#89f600"/>
<rect x="778.48" y="532.27" width="2.86" height="3.86" fill="#acfc00"/>
<rect x="781.34" y="532.27" width="5.72" height="3.86" fill="#c3fd00"/>
<rect x="787.05" y="532.27" width="2.86" height="3.86" fill="#abfc00"/>
<rect x="789.91" y="532.27" width="2.86" height="3.86" fill="#8af600"/>
<rect x="792.77" y="532.27" width="2.86" height="3.86" fill="#67f100"/>
<rect x="795.63" y="532.27" width="2.86" height="3.86" fill="#60f000"/>
<rect x="798.49" y="532.27" width="2.86" height="3.86" fill="#6bf100"/>
<rect x="801.34" y="532.27" width="2.86" height="3.86" fill="#78f400"/>
<rect x="804.20" y="532.27" width="5.72" height="3.86" fill="#7df400"/>
<rect x="809.92" y="532.27" width="2.86" height="3.86" fill="#7ef400"/>
<rect x="812.77" y="532.27" width="2.86" height="3.86" fill="#82f500"/>
<rect x="815.63" y="532.27" width="2.86" height="3.86" fill="#89f600"/>
<rect x="818.49" y="532.27" width="2.86" height="3.86" fill="#92f800"/>
<rect x="821.35" y="532.27" width="2.86" height="3.86" fill="#97f800"/>
<rect x="824.21" y="532.27" width="2.86" height="3.86" fill="#93f800"/>
<rect x="827.07" y="532.27" width="2.86" height="3.86" fill="#89f600"/>
<rect x="829.92" y="532.27" width="2.86" height="3.86" fill="#72f300"/>
<rect x="832.78" y="532.27" width="2.86" height="3.86" fill="#55ee00"/>
<rect x="835.64" y="532.27" width="2.86" height="3.86" fill="#32e900"/>
<rect x="838.50" y="532.27" width="2.86" height="3.86" fill="#0de300"/>
<rect x="841.36" y="532.27" width="2.86" height="3.86" fill="#00e100"/>
<rect x="844.21" y="532.27" width="2.86" height="3.86" fill="#05e200"/>
<rect x="847.07" y="532.27" width="2.86" height="3.86" fill="#3cea00"/>
<rect x="849.93" y="532.27" width="2.86" height="3.86" fill="#78f300"/>
<rect x="852.79" y="532.27" width="2.86" height="3.86" fill="#89f600"/>
<rect x="855.64" y="532.27" width="2.86" height="3.86" fill="#76f300"/>
<rect x="858.50" y="532.27" width="2.86" height="3.86" fill="#40eb00"/>
<rect x="861.36" y="532.27" width="2.86" height="3.86" fill="#0de300"/>
<rect x="864.22" y="532.27" width="12.78" height="3.86" fill="#00e100"/>
<rect x="681.31" y="536.13" width="2.86" height="3.86" fill="#b4fd00"/>
<rect x="684.17" y="536.13" width="2.86" height="3.86" fill="#abfc00"/>
<rect x="687.02" y="536.13" width="2.86" height="3.86" fill="#9bf900"/>
<rect x="689.88" y="536.13" width="2.86" height="3.86" fill="#87f600"/>
<rect x="692.74" y="536.13" width="2.86" height="3.86" fill="#65f000"/>
<rect x="695.60" y="536.13" width="2.86" height="3.86" fill="#1de500"/>
<rect x="698.46" y="536.13" width="2.86" height="3.86" fill="#00d419"/>
<rect x="701.31" y="536.13" width="2.86" height="3.86" fill="#00c92e"/>
<rect x="704.17" y="536.13" width="2.86" height="3.86" fill="#00c436"/>
<rect x="707.03" y="536.13" width="2.86" height="3.86" fill="#00c536"/>
<rect x="709.89" y="536.13" width="2.86" height="3.86" fill="#00c92e"/>
<rect x="712.75" y="536.13" width="2.86" height="3.86" fill="#00d11f"/>
<rect x="715.60" y="536.13" width="2.86" height="3.86" fill="#00da0c"/>
<rect x="718.46" y="536.13" width="5.72" height="3.86" fill="#00e100"/>
<rect x="724.18" y="536.13" width="2.86" height="3.86" fill="#07e200"/>
<rect x="727.03" y="536.13" width="2.86" height="3.86" fill="#35e900"/>
<rect x="729.89" y="536.13" width="2.86" height="3.86" fill="#65f100"/>
<rect x="732.75" y="536.13" width="2.86" height="3.86" fill="#82f500"/>
<rect x="735.61" y="536.13" width="2.86" height="3.86" fill="#85f600"/>
<rect x="738.47" y="536.13" width="2.86" height="3.86" fill="#81f500"/>
<rect x="741.33" y="536.13" width="2.86" height="3.86" fill="#70f200"/>
<rect x="744.18" y="536.13" width="2.86" height="3.86" fill="#57ee00"/>
<rect x="747.04" y="536.13" width="2.86" height="3.86" fill="#24e700"/>
<rect x="749.90" y="536.13" width="2.86" height="3.86" fill="#00dc09"/>
<rect x="752.76" y="536.13" width="2.86" height="3.86" fill="#00da0e"/>
<rect x="755.62" y="536.13" width="2.86" height="3.86" fill="#00db0c"/>
<rect x="758.47" y="536.13" width="2.86" height="3.86" fill="#00de06"/>
<rect x="761.33" y="536.13" width="2.86" height="3.86" fill="#00e100"/>
<rect x="764.19" y="536.13" width="2.86" height="3.86" fill="#01e100"/>
<rect x="767.05" y="536.13" width="5.72" height="3.86" fill="#00e100"/>
<rect x="772.76" y="536.13" width="2.86" height="3.86" fill="#16e400"/>
<rect x="775.62" y="536.13" width="2.86" height="3.86" fill="#59ef00"/>
<rect x="778.48" y="536.13" width="2.86" height="3.86" fill="#98f900"/>
<rect x="781.34" y="536.13" width="2.86" height="3.86" fill="#bbff00"/>
<rect x="784.20" y="536.13" width="2.86" height="3.86" fill="#c5fd00"/>
<rect x="787.05" y="536.13" width="2.86" height="3.86" fill="#c2fe00"/>
<rect x="789.91" y="536.13" width="2.86" height="3.86" fill="#b8fe00"/>
<rect x="792.77" y="536.13" width="2.86" height="3.86" fill="#acfc00"/>
<rect x="795.63" y="536.13" width="2.86" height="3.86" fill="#9efa00"/>
<rect x="798.49" y="536.13" width="2.86" height="3.86" fill="#8ff700"/>
<rect x="801.34" y="536.13" width="2.86" height="3.86" fill="#81f500"/>
<rect x="804.20" y="536.13" width="2.86" height="3.86" fill="#76f300"/>
<rect x="807.06" y="536.13" width="2.86" height="3.86" fill="#7bf400"/>
<rect x="809.92" y="536.13" width="2.86" height="3.86" fill="#83f500"/>
<rect x="812.77" y="536.13" width="2.86" height="3.86" fill="#81f500"/>
<rect x="815.63" y="536.13" width="2.86" height="3.86" fill="#6cf200"/>
<rect x="818.49" y="536.13" width="2.86" height="3.86" fill="#4eed00"/>
<rect x="821.35" y="536.13" width="2.86" height="3.86" fill="#32e900"/>
<rect x="824.21" y="536.13" width="2.86" height="3.86" fill="#23e600"/>
<rect x="827.07" y="536.13" width="2.86" height="3.86" fill="#1ce500"/>
<rect x="829.92" y="536.13" width="2.86" height="3.86" fill="#19e500"/>
<rect x="832.78" y="536.13" width="2.86" height="3.86" fill="#14e400"/>
<rect x="835.64" y="536.13" width="2.86" height="3.86" fill="#09e200"/>
<rect x="838.50" y="536.13" width="5.72" height="3.86" fill="#00e100"/>
<rect x="844.21" y="536.13" width="2.86" height="3.86" fill="#0fe300"/>
<rect x="847.07" y="536.13" width="2.86" height="3.86" fill="#42eb00"/>
<rect x="849.93" y="536.13" width="2.86" height="3.86" fill="#77f300"/>
<rect x="852.79" y="536.13" width="2.86" height="3.86" fill="#87f600"/>
<rect x="855.64" y="536.13" width="2.86" height="3.86" fill="#71f200"/>
<rect x="858.50" y="536.13" width="2.86" height="3.86" fill="#3dea00"/>
<rect x="861.36" y="536.13" width="2.86" height="3.86" fill="#0ce300"/>
<rect x="864.22" y="536.13" width="12.78" height="3.86" fill="#00e100"/>
<rect x="681.31" y="539.99" width="2.86" height="3.86" fill="#c9fc00"/>
<rect x="684.17" y="539.99" width="2.86" height="3.86" fill="#c2fe00"/>
<rect x="687.02" y="539.99" width="2.86" height="3.86" fill="#b4fd00"/>
<rect x="689.88" y="539.99" width="2.86" height="3.86" fill="#a0fa00"/>
<rect x="692.74" y="539.99" width="2.86" height="3.86" fill="#8df700"/>
<rect x="695.60" y="539.99" width="2.86" height="3.86" fill="#71f200"/>
<rect x="698.46" y="539.99" width="2.86" height="3.86" fill="#3cea00"/>
<rect x="701.31" y="539.99" width="2.86" height="3.86" fill="#08e200"/>
<rect x="704.17" y="539.99" width="2.86" height="3.86" fill="#00dc0a"/>
<rect x="707.03" y="539.99" width="2.86" height="3.86" fill="#00db0b"/>
<rect x="709.89" y="539.99" width="2.86" height="3.86" fill="#00e002"/>
<rect x="712.75" y="539.99" width="2.86" height="3.86" fill="#12e400"/>
<rect x="715.60" y="539.99" width="2.86" height="3.86" fill="#15e400"/>
<rect x="718.46" y="539.99" width="5.72" height="3.86" fill="#0ee300"/>
<rect x="724.18" y="539.99" width="2.86" height="3.86" fill="#1fe600"/>
<rect x="727.03" y="539.99" width="2.86" height="3.86" fill="#41eb00"/>
<rect x="729.89" y="539.99" width="2.86" height="3.86" fill="#67f100"/>
<rect x="732.75" y="539.99" width="2.86" height="3.86" fill="#83f500"/>
<rect x="735.61" y="539.99" width="2.86" height="3.86" fill="#8bf700"/>
<rect x="738.47" y="539.99" width="5.72" height="3.86" fill="#91f800"/>
<rect x="744.18" y="539.99" width="2.86" height="3.86" fill="#87f600"/>
<rect x="747.04" y="539.99" width="2.86" height="3.86" fill="#5ff000"/>
<rect x="749.90" y="539.99" width="2.86" height="3.86" fill="#2ae800"/>
<rect x="752.76" y="539.99" width="2.86" height="3.86" fill="#07e200"/>
<rect x="755.62" y="539.99" width="20.01" height="3.86" fill="#00e100"/>
<rect x="775.62" y="539.99" width="2.86" height="3.86" fill="#38ea00"/>
<rect x="778.48" y="539.99" width="2.86" height="3.86" fill="#87f600"/>
<rect x="781.34" y="539.99" width="2.86" height="3.86" fill="#abfc00"/>
<rect x="784.20" y="539.99" width="2.86" height="3.86" fill="#beff00"/>
<rect x="787.05" y="539.99" width="2.86" height="3.86" fill="#c5fd00"/>
<rect x="789.91" y="539.99" width="2.86" height="3.86" fill="#c6fd00"/>
<rect x="792.77" y="539.99" width="2.86" height="3.86" fill="#c3fd00"/>
<rect x="795.63" y="539.99" width="2.86" height="3.86" fill="#b7fe00"/>
<rect x="798.49" y="539.99" width="2.86" height="3.86" fill="#a3fa00"/>
<rect x="801.34" y="539.99" width="2.86" height="3.86" fill="#90f700"/>
<rect x="804.20" y="539.99" width="8.57" height="3.86" fill="#87f600"/>
<rect x="812.77" y="539.99" width="2.86" height="3.86" fill="#80f500"/>
<rect x="815.63" y="539.99" width="2.86" height="3.86" fill="#5aef00"/>
<rect x="818.49" y="539.99" width="2.86" height="3.86" fill="#27e700"/>
<rect x="821.35" y="539.99" width="22.86" height="3.86" fill="#00e100"/>
<rect x="844.21" y="539.99" width="2.86" height="3.86" fill="#0fe300"/>
<rect x="847.07" y="539.99" width="2.86" height="3.86" fill="#37ea00"/>
<rect x="849.93" y="539.99" width="2.86" height="3.86" fill="#5ff000"/>
<rect x="852.79" y="539.99" width="2.86" height="3.86" fill="#6ff200"/>
<rect x="855.64" y="539.99" width="2.86" height="3.86" fill="#5aef00"/>
<rect x="858.50" y="539.99" width="2.86" height="3.86" fill="#30e800"/>
<rect x="861.36" y="539.99" width="2.86" height="3.86" fill="#0ae200"/>
<rect x="864.22" y="539.99" width="12.78" height="3.86" fill="#00e100"/>
<rect x="681.31" y="543.85" width="2.86" height="3.86" fill="#dbf600"/>
<rect x="684.17" y="543.85" width="2.86" height="3.86" fill="#d5f800"/>
<rect x="687.02" y="543.85" width="2.86" height="3.86" fill="#c9fb00"/>
<rect x="689.88" y="543.85" width="2.86" height="3.86" fill="#bbfe00"/>
<rect x="692.74" y="543.85" width="2.86" height="3.86" fill="#a8fb00"/>
<rect x="695.60" y="543.85" width="2.86" height="3.86" fill="#95f800"/>
<rect x="698.46" y="543.85" width="2.86" height="3.86" fill="#81f500"/>
<rect x="701.31" y="543.85" width="2.86" height="3.86" fill="#5ef000"/>
<rect x="704.17" y="543.85" width="2.86" height="3.86" fill="#4ded00"/>
<rect x="707.03" y="543.85" width="2.86" height="3.86" fill="#4ced00"/>
<rect x="709.89" y="543.85" width="2.86" height="3.86" fill="#51ee00"/>
<rect x="712.75" y="543.85" width="2.86" height="3.86" fill="#54ee00"/>
<rect x="715.60" y="543.85" width="2.86" height="3.86" fill="#51ed00"/>
<rect x="718.46" y="543.85" width="5.72" height="3.86" fill="#4ced00"/>
<rect x="724.18" y="543.85" width="2.86" height="3.86" fill="#52ee00"/>
<rect x="727.03" y="543.85" width="2.86" height="3.86" fill="#5ff000"/>
<rect x="729.89" y="543.85" width="2.86" height="3.86" fill="#70f200"/>
<rect x="732.75" y="543.85" width="2.86" height="3.86" fill="#83f500"/>
<rect x="735.61" y="543.85" width="2.86" height="3.86" fill="#91f800"/>
<rect x="738.47" y="543.85" width="2.86" height="3.86" fill="#a2fa00"/>
<rect x="741.33" y="543.85" width="2.86" height="3.86" fill="#aafc00"/>
<rect x="744.18" y="543.85" width="2.86" height="3.86" fill="#a0fa00"/>
<rect x="747.04" y="543.85" width="2.86" height="3.86" fill="#82f500"/>
<rect x="749.90" y="543.85" width="2.86" height="3.86" fill="#37ea00"/>
<rect x="752.76" y="543.85" width="2.86" height="3.86" fill="#05e200"/>
<rect x="755.62" y="543.85" width="20.01" height="3.86" fill="#00e100"/>
<rect x="775.62" y="543.85" width="2.86" height="3.86" fill="#28e700"/>
<rect x="778.48" y="543.85" width="2.86" height="3.86" fill="#66f100"/>
<rect x="781.34" y="543.85" width="2.86" height="3.86" fill="#91f700"/>
<rect x="784.20" y="543.85" width="2.86" height="3.86" fill="#a4fb00"/>
<rect x="787.05" y="543.85" width="2.86" height="3.86" fill="#b4fd00"/>
<rect x="789.91" y="543.85" width="2.86" height="3.86" fill="#bfff00"/>
<rect x="792.77" y="543.85" width="2.86" height="3.86" fill="#c2fe00"/>
<rect x="795.63" y="543.85" width="2.86" height="3.86" fill="#c0fe00"/>
<rect x="798.49" y="543.85" width="2.86" height="3.86" fill="#b6fe00"/>
<rect x="801.34" y="543.85" width="2.86" height="3.86" fill="#aafc00"/>
<rect x="804.20" y="543.85" width="2.86" height="3.86" fill="#a1fa00"/>
<rect x="807.06" y="543.85" width="2.86" height="3.86" fill="#98f900"/>
<rect x="809.92" y="543.85" width="2.86" height="3.86" fill="#8ef700"/>
<rect x="812.77" y="543.85" width="2.86" height="3.86" fill="#80f500"/>
<rect x="815.63" y="543.85" width="2.86" height="3.86" fill="#56ee00"/>
<rect x="818.49" y="543.85" width="2.86" height="3.86" fill="#26e700"/>
<rect x="821.35" y="543.85" width="22.86" height="3.86" fill="#00e100"/>
<rect x="844.21" y="543.85" width="2.86" height="3.86" fill="#07e200"/>
<rect x="847.07" y="543.85" width="2.86" height="3.86" fill="#1ae500"/>
<rect x="849.93" y="543.85" width="2.86" height="3.86" fill="#2de800"/>
<rect x="852.79" y="543.85" width="2.86" height="3.86" fill="#34e900"/>
<rect x="855.64" y="543.85" width="2.86" height="3.86" fill="#2ae800"/>
<rect x="858.50" y="543.85" width="2.86" height="3.86" fill="#17e400"/>
<rect x="861.36" y="543.85" width="2.86" height="3.86" fill="#05e200"/>
<rect x="864.22" y="543.85" width="12.78" height="3.86" fill="#00e100"/>
<rect x="681.31" y="547.71" width="2.86" height="3.86" fill="#e9f100"/>
<rect x="684.17" y="547.71" width="2.86" height="3.86" fill="#e3f400"/>
<rect x="687.02" y="547.71" width="2.86" height="3.86" fill="#d7f700"/>
<rect x="689.88" y="547.71" width="2.86" height="3.86" fill="#cafb00"/>
<rect x="692.74" y="547.71" width="2.86" height="3.86" fill="#bcff00"/>
<rect x="695.60" y="547.71" width="2.86" height="3.86" fill="#a9fb00"/>
<rect x="698.46" y="547.71" width="2.86" height="3.86" fill="#95f800"/>
<rect x="701.31" y="547.71" width="2.86" height="3.86" fill="#86f600"/>
<rect x="704.17" y="547.71" width="2.86" height="3.86" fill="#78f300"/>
<rect x="707.03" y="547.71" width="2.86" height="3.86" fill="#77f300"/>
<rect x="709.89" y="547.71" width="2.86" height="3.86" fill="#7cf400"/>
<rect x="712.75" y="547.71" width="11.43" height="3.86" fill="#7ff500"/>
<rect x="724.18" y="547.71" width="2.86" height="3.86" fill="#7ef400"/>
<rect x="727.03" y="547.71" width="2.86" height="3.86" fill="#79f400"/>
<rect x="729.89" y="547.71" width="2.86" height="3.86" fill="#78f400"/>
<rect x="732.75" y="547.71" width="2.86" height="3.86" fill="#83f500"/>
<rect x="735.61" y="547.71" width="2.86" height="3.86" fill="#95f800"/>
<rect x="738.47" y="547.71" width="2.86" height="3.86" fill="#affc00"/>
<rect x="741.33" y="547.71" width="2.86" height="3.86" fill="#beff00"/>
<rect x="744.18" y="547.71" width="2.86" height="3.86" fill="#b2fd00"/>
<rect x="747.04" y="547.71" width="2.86" height="3.86" fill="#8df700"/>
<rect x="749.90" y="547.71" width="2.86" height="3.86" fill="#3cea00"/>
<rect x="752.76" y="547.71" width="20.01" height="3.86" fill="#00e100"/>
<rect x="772.76" y="547.71" width="2.86" height="3.86" fill="#01e100"/>
<rect x="775.62" y="547.71" width="2.86" height="3.86" fill="#1fe600"/>
<rect x="778.48" y="547.71" width="2.86" height="3.86" fill="#48ec00"/>
<rect x="781.34" y="547.71" width="2.86" height="3.86" fill="#74f300"/>
<rect x="784.20" y="547.71" width="2.86" height="3.86" fill="#8ef700"/>
<rect x="787.05" y="547.71" width="2.86" height="3.86" fill="#a1fa00"/>
<rect x="789.91" y="547.71" width="2.86" height="3.86" fill="#b3fd00"/>
<rect x="792.77" y="547.71" width="2.86" height="3.86" fill="#beff00"/>
<rect x="795.63" y="547.71" width="5.72" height="3.86" fill="#c2fe00"/>
<rect x="801.34" y="547.71" width="2.86" height="3.86" fill="#bfff00"/>
<rect x="804.20" y="547.71" width="2.86" height="3.86" fill="#b7fe00"/>
<rect x="807.06" y="547.71" width="2.86" height="3.86" fill="#a6fb00"/>
<rect x="809.92" y="547.71" width="2.86" height="3.86" fill="#93f800"/>
<rect x="812.77" y="547.71" width="2.86" height="3.86" fill="#7ff500"/>
<rect x="815.63" y="547.71" width="2.86" height="3.86" fill="#56ee00"/>
<rect x="818.49" y="547.71" width="2.86" height="3.86" fill="#2ce800"/>
<rect x="821.35" y="547.71" width="2.86" height="3.86" fill="#0ae200"/>
<rect x="824.21" y="547.71" width="22.86" height="3.86" fill="#00e100"/>
<rect x="847.07" y="547.71" width="2.86" height="3.86" fill="#01e100"/>
<rect x="849.93" y="547.71" width="2.86" height="3.86" fill="#02e100"/>
<rect x="852.79" y="547.71" width="2.86" height="3.86" fill="#03e100"/>
<rect x="855.64" y="547.71" width="2.86" height="3.86" fill="#02e100"/>
<rect x="858.50" y="547.71" width="2.86" height="3.86" fill="#01e100"/>
<rect x="861.36" y="547.71" width="15.64" height="3.86" fill="#00e100"/>
<rect x="681.31" y="551.57" width="2.86" height="3.43" fill="#ebec00"/>
<rect x="684.17" y="551.57" width="2.86" height="3.43" fill="#e7f200"/>
<rect x="687.02" y="551.57" width="2.86" height="3.43" fill="#dbf600"/>
<rect x="689.88" y="551.57" width="2.86" height="3.43" fill="#cefa00"/>
<rect x="692.74" y="551.57" width="2.86" height="3.43" fill="#c0fe00"/>
<rect x="695.60" y="551.57" width="2.86" height="3.43" fill="#aefc00"/>
<rect x="698.46" y="551.57" width="2.86" height="3.43" fill="#9bf900"/>
<rect x="701.31" y="551.57" width="2.86" height="3.43" fill="#8bf700"/>
<rect x="704.17" y="551.57" width="2.86" height="3.43" fill="#83f500"/>
<rect x="707.03" y="551.57" width="2.86" height="3.43" fill="#82f500"/>
<rect x="709.89" y="551.57" width="2.86" height="3.43" fill="#85f500"/>
<rect x="712.75" y="551.57" width="2.86" height="3.43" fill="#86f600"/>
<rect x="715.60" y="551.57" width="8.57" height="3.43" fill="#87f600"/>
<rect x="724.18" y="551.57" width="2.86" height="3.43" fill="#85f600"/>
<rect x="727.03" y="551.57" width="2.86" height="3.43" fill="#80f500"/>
<rect x="729.89" y="551.57" width="2.86" height="3.43" fill="#7af400"/>
<rect x="732.75" y="551.57" width="2.86" height="3.43" fill="#83f500"/>
<rect x="735.61" y="551.57" width="2.86" height="3.43" fill="#97f800"/>
<rect x="738.47" y="551.57" width="2.86" height="3.43" fill="#b2fd00"/>
<rect x="741.33" y="551.57" width="2.86" height="3.43" fill="#c1fe00"/>
<rect x="744.18" y="551.57" width="2.86" height="3.43" fill="#b8fe00"/>
<rect x="747.04" y="551.57" width="2.86" height="3.43" fill="#91f700"/>
<rect x="749.90" y="551.57" width="2.86" height="3.43" fill="#3feb00"/>
<rect x="752.76" y="551.57" width="20.01" height="3.43" fill="#00e100"/>
<rect x="772.76" y="551.57" width="2.86" height="3.43" fill="#01e100"/>
<rect x="775.62" y="551.57" width="2.86" height="3.43" fill="#1be500"/>
<rect x="778.48" y="551.57" width="2.86" height="3.43" fill="#40eb00"/>
<rect x="781.34" y="551.57" width="2.86" height="3.43" fill="#68f100"/>
<rect x="784.20" y="551.57" width="2.86" height="3.43" fill="#88f600"/>
<rect x="787.05" y="551.57" width="2.86" height="3.43" fill="#9dfa00"/>
<rect x="789.91" y="551.57" width="2.86" height="3.43" fill="#b1fd00"/>
<rect x="792.77" y="551.57" width="2.86" height="3.43" fill="#beff00"/>
<rect x="795.63" y="551.57" width="2.86" height="3.43" fill="#c4fd00"/>
<rect x="798.49" y="551.57" width="2.86" height="3.43" fill="#c5fd00"/>
<rect x="801.34" y="551.57" width="2.86" height="3.43" fill="#c3fd00"/>
<rect x="804.20" y="551.57" width="2.86" height="3.43" fill="#bcff00"/>
<rect x="807.06" y="551.57" width="2.86" height="3.43" fill="#aafc00"/>
<rect x="809.92" y="551.57" width="2.86" height="3.43" fill="#95f800"/>
<rect x="812.77" y="551.57" width="2.86" height="3.43" fill="#7ff500"/>
<rect x="815.63" y="551.57" width="2.86" height="3.43" fill="#55ee00"/>
<rect x="818.49" y="551.57" width="2.86" height="3.43" fill="#2be800"/>
<rect x="821.35" y="551.57" width="2.86" height="3.43" fill="#0ae200"/>
<rect x="824.21" y="551.57" width="14.29" height="3.43" fill="#00e100"/>
<rect x="838.50" y="551.57" width="2.86" height="3.43" fill="#01e100"/>
<rect x="841.36" y="551.57" width="22.86" height="3.43" fill="#00e100"/>
<rect x="864.22" y="551.57" width="5.72" height="3.43" fill="#01e100"/>
<rect x="869.93" y="551.57" width="7.07" height="3.43" fill="#00e100"/>
</g>
<path d="M679.0,35.0 L707.5,35.0 L707.0,36.2 L706.1,41.0 L704.7,46.6 L704.0,50.7 L704.7,55.6 L705.4,56.9 L704.0,59.7 L702.6,61.8 L701.2,63.1 L699.9,64.5 L697.8,65.9 L679.0,66.6Z" fill="#ffcc99" stroke="none"/>
<path d="M707.5,35.0 L707.0,36.2 L706.1,41.0 L704.7,46.6 L704.0,50.7 L704.7,55.6 L705.4,56.9 L704.0,59.7 L702.6,61.8 L701.2,63.1 L699.9,64.5 L697.8,65.9 L679.0,66.6" fill="none" stroke="#000" stroke-width="1" shape-rendering="crispEdges"/>
<polyline points="711.2,35.0 711.2,36.2 710.2,43.8 709.5,57.6 708.1,65.9 704.7,71.4 698.5,72.8 696.4,72.1 695.0,74.2 686.0,76.3 684.0,78.3 683.3,85.2 681.9,86.6 682.6,88.0 685.4,92.2 687.4,97.7 688.5,104.0 689.1,113.8 687.1,127.6 686.2,148.3 684.5,156.9 681.9,163.8 680.2,169.0 679.3,170.7" fill="none" stroke="#000" stroke-width="1" stroke-linejoin="round" shape-rendering="crispEdges"/>
<path d="M680.5,107 L682.5,110 L681.5,114 L683,118 L681.5,122 L680.5,130 L682,138 L681,146 L682.5,152 L681.5,157" fill="none" stroke="#000" stroke-width="1.6"/>
<rect x="682" y="112" width="1.5" height="2" fill="#ffcc99"/>
<rect x="681.5" y="124" width="1.5" height="2" fill="#ffcc99"/>
<rect x="682" y="134" width="1.5" height="2" fill="#ffcc99"/>
<rect x="681.5" y="142" width="1.5" height="2" fill="#ffcc99"/>
<rect x="682" y="150" width="1.5" height="2" fill="#ffcc99"/>
<path d="M679.0,325.0 L707.5,325.0 L707.0,326.2 L706.1,331.0 L704.7,336.6 L704.0,340.7 L704.7,345.6 L705.4,346.9 L704.0,349.7 L702.6,351.8 L701.2,353.1 L699.9,354.5 L697.8,355.9 L679.0,356.6Z" fill="#ffcc99" stroke="none"/>
<path d="M707.5,325.0 L707.0,326.2 L706.1,331.0 L704.7,336.6 L704.0,340.7 L704.7,345.6 L705.4,346.9 L704.0,349.7 L702.6,351.8 L701.2,353.1 L699.9,354.5 L697.8,355.9 L679.0,356.6" fill="none" stroke="#000" stroke-width="1" shape-rendering="crispEdges"/>
<polyline points="711.2,325.0 711.2,326.2 710.2,333.8 709.5,347.6 708.1,355.9 704.7,361.4 698.5,362.8 696.4,362.1 695.0,364.2 686.0,366.3 684.0,368.3 683.3,375.2 681.9,376.6 682.6,378.0 685.4,382.2 687.4,387.7 688.5,394.0 689.1,403.8 687.1,417.6 686.2,438.3 684.5,446.9 681.9,453.8 680.2,459.0 679.3,460.7" fill="none" stroke="#000" stroke-width="1" stroke-linejoin="round" shape-rendering="crispEdges"/>
<path d="M680.5,397 L682.5,400 L681.5,404 L683,408 L681.5,412 L680.5,420 L682,428 L681,436 L682.5,442 L681.5,447" fill="none" stroke="#000" stroke-width="1.6"/>
<rect x="682" y="402" width="1.5" height="2" fill="#ffcc99"/>
<rect x="681.5" y="414" width="1.5" height="2" fill="#ffcc99"/>
<rect x="682" y="424" width="1.5" height="2" fill="#ffcc99"/>
<rect x="681.5" y="432" width="1.5" height="2" fill="#ffcc99"/>
<rect x="682" y="440" width="1.5" height="2" fill="#ffcc99"/>
<rect x="680" y="357" width="7" height="1" fill="#fff" shape-rendering="crispEdges"/>
<rect x="705" y="334" width="1.5" height="2" fill="#fff" shape-rendering="crispEdges"/>
<rect x="705" y="342" width="1.5" height="3" fill="#fff" shape-rendering="crispEdges"/>
<circle cx="778.5" cy="151.5" r="5" fill="#ffcc00" stroke="#000" stroke-width="1"/>
<circle cx="778.5" cy="441.5" r="5" fill="#22dd00" stroke="#000" stroke-width="1"/>
<g transform="translate(891,546) rotate(-90)">
<rect x="0.5" y="-8.5" width="7" height="8" fill="none" stroke="#000" stroke-width="1" stroke-dasharray="1 1"/>
<text x="7.8" y="0" font-size="12" textLength="164.2" lengthAdjust="spacingAndGlyphs" fill="#000" >IMOS 24-Aug-2014 20:01:56</text>
</g>
<rect x="32.5" y="52.5" width="199" height="493" fill="none" stroke="#000" stroke-width="1" shape-rendering="crispEdges"/>
<rect x="239.5" y="52.5" width="200" height="493" fill="none" stroke="#000" stroke-width="1" shape-rendering="crispEdges"/>
<rect x="448.5" y="52.5" width="200" height="493" fill="none" stroke="#000" stroke-width="1" shape-rendering="crispEdges"/>
<rect x="679.5" y="35.5" width="198" height="232" fill="none" stroke="#000" stroke-width="1" shape-rendering="crispEdges"/>
<rect x="679.5" y="325.5" width="198" height="232" fill="none" stroke="#000" stroke-width="1" shape-rendering="crispEdges"/>
<path d="M33,76.5H37M227,76.5H231M33,100.5H37M227,100.5H231M33,124.5H37M227,124.5H231M33,148.5H37M227,148.5H231M33,172.5H37M227,172.5H231M33,196.5H37M227,196.5H231M33,220.5H37M227,220.5H231M33,244.5H37M227,244.5H231M33,268.5H37M227,268.5H231M33,292.5H37M227,292.5H231M33,316.5H37M227,316.5H231M33,340.5H37M227,340.5H231M33,364.5H37M227,364.5H231M33,388.5H37M227,388.5H231M33,412.5H37M227,412.5H231M33,436.5H37M227,436.5H231M33,460.5H37M227,460.5H231M33,484.5H37M227,484.5H231M33,508.5H37M227,508.5H231M33,532.5H37M227,532.5H231M43.5,53V57M43.5,540V545M72.5,53V57M72.5,540V545M102.5,53V57M102.5,540V545M131.5,53V57M131.5,540V545M160.5,53V57M160.5,540V545M190.5,53V57M190.5,540V545M219.5,53V57M219.5,540V545M257.5,53V57M257.5,540V545M300.5,53V57M300.5,540V545M344.5,53V57M344.5,540V545M387.5,53V57M387.5,540V545M431.5,53V57M431.5,540V545M481.5,53V57M481.5,540V545M514.5,53V57M514.5,540V545M548.5,53V57M548.5,540V545M581.5,53V57M581.5,540V545M614.5,53V57M614.5,540V545M705.5,32V35M705.5,268V270M777.5,32V35M777.5,268V270M848.5,32V35M848.5,268V270M677,70.5H679M878,70.5H880M677,109.5H679M878,109.5H880M677,147.5H679M878,147.5H880M677,186.5H679M878,186.5H880M677,224.5H679M878,224.5H880M677,263.5H679M878,263.5H880M705.5,322V325M705.5,558V560M777.5,322V325M777.5,558V560M848.5,322V325M848.5,558V560M677,360.5H679M878,360.5H880M677,399.5H679M878,399.5H880M677,437.5H679M878,437.5H880M677,476.5H679M878,476.5H880M677,514.5H679M878,514.5H880M677,553.5H679M878,553.5H880" stroke="#000" stroke-width="1" fill="none" shape-rendering="crispEdges"/>
</svg></body></html>
